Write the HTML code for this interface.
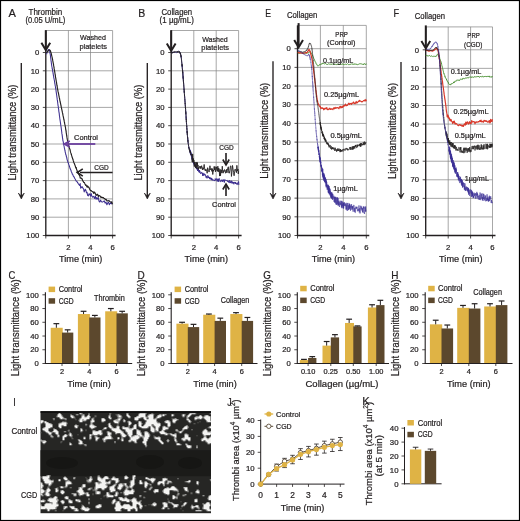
<!DOCTYPE html>
<html><head><meta charset="utf-8"><style>
html,body{margin:0;padding:0;background:#fff;}
text{stroke:#231f20;stroke-width:0.22px;}
svg{display:block;font-family:"Liberation Sans", sans-serif;-webkit-font-smoothing:antialiased;will-change:transform;}
</style></head><body>
<svg width="520" height="521" viewBox="0 0 520 521">
<defs><filter id="soft" x="-5%" y="-5%" width="110%" height="110%"><feGaussianBlur stdDeviation="0.45"/></filter></defs>
<rect x="0" y="0" width="520" height="521" fill="#fff"/>
<line x1="45.8" y1="30.5" x2="112.6" y2="30.5" stroke="#828282" stroke-width="0.7"/>
<line x1="45.8" y1="52.5" x2="112.6" y2="52.5" stroke="#828282" stroke-width="0.7"/>
<line x1="45.8" y1="70.8" x2="112.6" y2="70.8" stroke="#828282" stroke-width="0.7"/>
<line x1="45.8" y1="89.1" x2="112.6" y2="89.1" stroke="#828282" stroke-width="0.7"/>
<line x1="45.8" y1="107.4" x2="112.6" y2="107.4" stroke="#828282" stroke-width="0.7"/>
<line x1="45.8" y1="125.7" x2="112.6" y2="125.7" stroke="#828282" stroke-width="0.7"/>
<line x1="45.8" y1="144.0" x2="112.6" y2="144.0" stroke="#828282" stroke-width="0.7"/>
<line x1="45.8" y1="162.3" x2="112.6" y2="162.3" stroke="#828282" stroke-width="0.7"/>
<line x1="45.8" y1="180.6" x2="112.6" y2="180.6" stroke="#828282" stroke-width="0.7"/>
<line x1="45.8" y1="198.9" x2="112.6" y2="198.9" stroke="#828282" stroke-width="0.7"/>
<line x1="45.8" y1="217.20000000000002" x2="112.6" y2="217.20000000000002" stroke="#828282" stroke-width="0.7"/>
<line x1="68.4" y1="30.5" x2="68.4" y2="235.5" stroke="#828282" stroke-width="0.7"/>
<line x1="90.5" y1="30.5" x2="90.5" y2="235.5" stroke="#828282" stroke-width="0.7"/>
<line x1="112.6" y1="30.5" x2="112.6" y2="235.5" stroke="#828282" stroke-width="0.7"/>
<line x1="45.8" y1="30.5" x2="45.8" y2="236.1" stroke="#231f20" stroke-width="1.35"/>
<line x1="45.199999999999996" y1="235.5" x2="115.6" y2="235.5" stroke="#231f20" stroke-width="1.35"/>
<line x1="42.8" y1="52.5" x2="45.8" y2="52.5" stroke="#231f20" stroke-width="0.8"/>
<text x="39.199999999999996" y="55.2" font-size="7.7" text-anchor="end" fill="#231f20">0</text>
<line x1="42.8" y1="70.8" x2="45.8" y2="70.8" stroke="#231f20" stroke-width="0.8"/>
<text x="39.199999999999996" y="73.5" font-size="7.7" text-anchor="end" fill="#231f20">10</text>
<line x1="42.8" y1="89.1" x2="45.8" y2="89.1" stroke="#231f20" stroke-width="0.8"/>
<text x="39.199999999999996" y="91.8" font-size="7.7" text-anchor="end" fill="#231f20">20</text>
<line x1="42.8" y1="107.4" x2="45.8" y2="107.4" stroke="#231f20" stroke-width="0.8"/>
<text x="39.199999999999996" y="110.10000000000001" font-size="7.7" text-anchor="end" fill="#231f20">30</text>
<line x1="42.8" y1="125.7" x2="45.8" y2="125.7" stroke="#231f20" stroke-width="0.8"/>
<text x="39.199999999999996" y="128.4" font-size="7.7" text-anchor="end" fill="#231f20">40</text>
<line x1="42.8" y1="144.0" x2="45.8" y2="144.0" stroke="#231f20" stroke-width="0.8"/>
<text x="39.199999999999996" y="146.7" font-size="7.7" text-anchor="end" fill="#231f20">50</text>
<line x1="42.8" y1="162.3" x2="45.8" y2="162.3" stroke="#231f20" stroke-width="0.8"/>
<text x="39.199999999999996" y="165.0" font-size="7.7" text-anchor="end" fill="#231f20">60</text>
<line x1="42.8" y1="180.6" x2="45.8" y2="180.6" stroke="#231f20" stroke-width="0.8"/>
<text x="39.199999999999996" y="183.29999999999998" font-size="7.7" text-anchor="end" fill="#231f20">70</text>
<line x1="42.8" y1="198.9" x2="45.8" y2="198.9" stroke="#231f20" stroke-width="0.8"/>
<text x="39.199999999999996" y="201.6" font-size="7.7" text-anchor="end" fill="#231f20">80</text>
<line x1="42.8" y1="217.20000000000002" x2="45.8" y2="217.20000000000002" stroke="#231f20" stroke-width="0.8"/>
<text x="39.199999999999996" y="219.9" font-size="7.7" text-anchor="end" fill="#231f20">90</text>
<line x1="42.8" y1="235.5" x2="45.8" y2="235.5" stroke="#231f20" stroke-width="0.8"/>
<text x="39.199999999999996" y="238.2" font-size="7.7" text-anchor="end" fill="#231f20">100</text>
<line x1="45.8" y1="235.5" x2="45.8" y2="238.5" stroke="#231f20" stroke-width="0.8"/>
<line x1="68.4" y1="235.5" x2="68.4" y2="238.5" stroke="#231f20" stroke-width="0.8"/>
<line x1="90.5" y1="235.5" x2="90.5" y2="238.5" stroke="#231f20" stroke-width="0.8"/>
<line x1="112.6" y1="235.5" x2="112.6" y2="238.5" stroke="#231f20" stroke-width="0.8"/>
<text x="68.4" y="249.5" font-size="7.7" text-anchor="middle" fill="#231f20">2</text>
<text x="90.5" y="249.5" font-size="7.7" text-anchor="middle" fill="#231f20">4</text>
<text x="112.6" y="249.5" font-size="7.7" text-anchor="middle" fill="#231f20">6</text>
<text x="80.7" y="261.6" font-size="9.2" text-anchor="middle" textLength="43.4" lengthAdjust="spacingAndGlyphs" fill="#231f20">Time (min)</text>
<text x="8.6" y="17.4" font-size="11" textLength="7.4" lengthAdjust="spacingAndGlyphs" fill="#231f20">A</text>
<text x="45.4" y="14.6" font-size="8.8" text-anchor="middle" textLength="33.8" lengthAdjust="spacingAndGlyphs" fill="#231f20">Thrombin</text>
<text x="45.4" y="23.0" font-size="8.6" text-anchor="middle" textLength="40" lengthAdjust="spacingAndGlyphs" fill="#231f20">(0.05 U/mL)</text>
<text x="93.0" y="40.3" font-size="8" text-anchor="middle" textLength="25.8" lengthAdjust="spacingAndGlyphs" fill="#231f20">Washed</text>
<text x="93.2" y="48.9" font-size="8" text-anchor="middle" textLength="27.6" lengthAdjust="spacingAndGlyphs" fill="#231f20">platelets</text>
<text x="16.1" y="132.6" font-size="10" text-anchor="middle" textLength="96" lengthAdjust="spacingAndGlyphs" transform="rotate(-90 16.1 132.6)" fill="#231f20">Light transmittance (%)</text>
<line x1="21.3" y1="63" x2="21.3" y2="197" stroke="#231f20" stroke-width="1.35"/>
<path d="M18.3,193 L21.3,199 L24.3,193 L21.3,196 Z" fill="#231f20" stroke="#231f20" stroke-width="0.6" stroke-linejoin="round"/>
<line x1="171.2" y1="30.5" x2="238.6" y2="30.5" stroke="#828282" stroke-width="0.7"/>
<line x1="171.2" y1="52.5" x2="238.6" y2="52.5" stroke="#828282" stroke-width="0.7"/>
<line x1="171.2" y1="70.8" x2="238.6" y2="70.8" stroke="#828282" stroke-width="0.7"/>
<line x1="171.2" y1="89.1" x2="238.6" y2="89.1" stroke="#828282" stroke-width="0.7"/>
<line x1="171.2" y1="107.4" x2="238.6" y2="107.4" stroke="#828282" stroke-width="0.7"/>
<line x1="171.2" y1="125.7" x2="238.6" y2="125.7" stroke="#828282" stroke-width="0.7"/>
<line x1="171.2" y1="144.0" x2="238.6" y2="144.0" stroke="#828282" stroke-width="0.7"/>
<line x1="171.2" y1="162.3" x2="238.6" y2="162.3" stroke="#828282" stroke-width="0.7"/>
<line x1="171.2" y1="180.6" x2="238.6" y2="180.6" stroke="#828282" stroke-width="0.7"/>
<line x1="171.2" y1="198.9" x2="238.6" y2="198.9" stroke="#828282" stroke-width="0.7"/>
<line x1="171.2" y1="217.20000000000002" x2="238.6" y2="217.20000000000002" stroke="#828282" stroke-width="0.7"/>
<line x1="193.8" y1="30.5" x2="193.8" y2="235.5" stroke="#828282" stroke-width="0.7"/>
<line x1="216.2" y1="30.5" x2="216.2" y2="235.5" stroke="#828282" stroke-width="0.7"/>
<line x1="238.6" y1="30.5" x2="238.6" y2="235.5" stroke="#828282" stroke-width="0.7"/>
<line x1="171.2" y1="30.5" x2="171.2" y2="236.1" stroke="#231f20" stroke-width="1.35"/>
<line x1="170.6" y1="235.5" x2="241.6" y2="235.5" stroke="#231f20" stroke-width="1.35"/>
<line x1="168.2" y1="52.5" x2="171.2" y2="52.5" stroke="#231f20" stroke-width="0.8"/>
<text x="164.6" y="55.2" font-size="7.7" text-anchor="end" fill="#231f20">0</text>
<line x1="168.2" y1="70.8" x2="171.2" y2="70.8" stroke="#231f20" stroke-width="0.8"/>
<text x="164.6" y="73.5" font-size="7.7" text-anchor="end" fill="#231f20">10</text>
<line x1="168.2" y1="89.1" x2="171.2" y2="89.1" stroke="#231f20" stroke-width="0.8"/>
<text x="164.6" y="91.8" font-size="7.7" text-anchor="end" fill="#231f20">20</text>
<line x1="168.2" y1="107.4" x2="171.2" y2="107.4" stroke="#231f20" stroke-width="0.8"/>
<text x="164.6" y="110.10000000000001" font-size="7.7" text-anchor="end" fill="#231f20">30</text>
<line x1="168.2" y1="125.7" x2="171.2" y2="125.7" stroke="#231f20" stroke-width="0.8"/>
<text x="164.6" y="128.4" font-size="7.7" text-anchor="end" fill="#231f20">40</text>
<line x1="168.2" y1="144.0" x2="171.2" y2="144.0" stroke="#231f20" stroke-width="0.8"/>
<text x="164.6" y="146.7" font-size="7.7" text-anchor="end" fill="#231f20">50</text>
<line x1="168.2" y1="162.3" x2="171.2" y2="162.3" stroke="#231f20" stroke-width="0.8"/>
<text x="164.6" y="165.0" font-size="7.7" text-anchor="end" fill="#231f20">60</text>
<line x1="168.2" y1="180.6" x2="171.2" y2="180.6" stroke="#231f20" stroke-width="0.8"/>
<text x="164.6" y="183.29999999999998" font-size="7.7" text-anchor="end" fill="#231f20">70</text>
<line x1="168.2" y1="198.9" x2="171.2" y2="198.9" stroke="#231f20" stroke-width="0.8"/>
<text x="164.6" y="201.6" font-size="7.7" text-anchor="end" fill="#231f20">80</text>
<line x1="168.2" y1="217.20000000000002" x2="171.2" y2="217.20000000000002" stroke="#231f20" stroke-width="0.8"/>
<text x="164.6" y="219.9" font-size="7.7" text-anchor="end" fill="#231f20">90</text>
<line x1="168.2" y1="235.5" x2="171.2" y2="235.5" stroke="#231f20" stroke-width="0.8"/>
<text x="164.6" y="238.2" font-size="7.7" text-anchor="end" fill="#231f20">100</text>
<line x1="171.2" y1="235.5" x2="171.2" y2="238.5" stroke="#231f20" stroke-width="0.8"/>
<line x1="193.8" y1="235.5" x2="193.8" y2="238.5" stroke="#231f20" stroke-width="0.8"/>
<line x1="216.2" y1="235.5" x2="216.2" y2="238.5" stroke="#231f20" stroke-width="0.8"/>
<line x1="238.6" y1="235.5" x2="238.6" y2="238.5" stroke="#231f20" stroke-width="0.8"/>
<text x="193.8" y="249.5" font-size="7.7" text-anchor="middle" fill="#231f20">2</text>
<text x="216.2" y="249.5" font-size="7.7" text-anchor="middle" fill="#231f20">4</text>
<text x="238.6" y="249.5" font-size="7.7" text-anchor="middle" fill="#231f20">6</text>
<text x="206.3" y="261.6" font-size="9.2" text-anchor="middle" textLength="43.4" lengthAdjust="spacingAndGlyphs" fill="#231f20">Time (min)</text>
<text x="138.2" y="17.3" font-size="11" textLength="7.0" lengthAdjust="spacingAndGlyphs" fill="#231f20">B</text>
<text x="176.8" y="14.6" font-size="8.8" text-anchor="middle" textLength="30.7" lengthAdjust="spacingAndGlyphs" fill="#231f20">Collagen</text>
<text x="176.7" y="23.4" font-size="8.6" text-anchor="middle" textLength="34.2" lengthAdjust="spacingAndGlyphs" fill="#231f20">(1 µg/mL)</text>
<text x="215.0" y="41.7" font-size="8" text-anchor="middle" textLength="25.6" lengthAdjust="spacingAndGlyphs" fill="#231f20">Washed</text>
<text x="215.2" y="50.0" font-size="8" text-anchor="middle" textLength="27.8" lengthAdjust="spacingAndGlyphs" fill="#231f20">platelets</text>
<text x="141.9" y="132.6" font-size="10" text-anchor="middle" textLength="96" lengthAdjust="spacingAndGlyphs" transform="rotate(-90 141.9 132.6)" fill="#231f20">Light transmittance (%)</text>
<line x1="147.3" y1="63" x2="147.3" y2="197" stroke="#231f20" stroke-width="1.35"/>
<path d="M144.3,193 L147.3,199 L150.3,193 L147.3,196 Z" fill="#231f20" stroke="#231f20" stroke-width="0.6" stroke-linejoin="round"/>
<line x1="297.5" y1="25.4" x2="366.3" y2="25.4" stroke="#828282" stroke-width="0.7"/>
<line x1="297.5" y1="48.7" x2="366.3" y2="48.7" stroke="#828282" stroke-width="0.7"/>
<line x1="297.5" y1="67.38" x2="366.3" y2="67.38" stroke="#828282" stroke-width="0.7"/>
<line x1="297.5" y1="86.06" x2="366.3" y2="86.06" stroke="#828282" stroke-width="0.7"/>
<line x1="297.5" y1="104.74000000000001" x2="366.3" y2="104.74000000000001" stroke="#828282" stroke-width="0.7"/>
<line x1="297.5" y1="123.42" x2="366.3" y2="123.42" stroke="#828282" stroke-width="0.7"/>
<line x1="297.5" y1="142.10000000000002" x2="366.3" y2="142.10000000000002" stroke="#828282" stroke-width="0.7"/>
<line x1="297.5" y1="160.78" x2="366.3" y2="160.78" stroke="#828282" stroke-width="0.7"/>
<line x1="297.5" y1="179.45999999999998" x2="366.3" y2="179.45999999999998" stroke="#828282" stroke-width="0.7"/>
<line x1="297.5" y1="198.14" x2="366.3" y2="198.14" stroke="#828282" stroke-width="0.7"/>
<line x1="297.5" y1="216.82" x2="366.3" y2="216.82" stroke="#828282" stroke-width="0.7"/>
<line x1="320.4" y1="25.4" x2="320.4" y2="235.5" stroke="#828282" stroke-width="0.7"/>
<line x1="343.3" y1="25.4" x2="343.3" y2="235.5" stroke="#828282" stroke-width="0.7"/>
<line x1="366.3" y1="25.4" x2="366.3" y2="235.5" stroke="#828282" stroke-width="0.7"/>
<line x1="297.5" y1="25.4" x2="297.5" y2="236.1" stroke="#231f20" stroke-width="1.35"/>
<line x1="296.9" y1="235.5" x2="369.3" y2="235.5" stroke="#231f20" stroke-width="1.35"/>
<line x1="294.5" y1="48.7" x2="297.5" y2="48.7" stroke="#231f20" stroke-width="0.8"/>
<text x="290.9" y="51.400000000000006" font-size="7.7" text-anchor="end" fill="#231f20">0</text>
<line x1="294.5" y1="67.38" x2="297.5" y2="67.38" stroke="#231f20" stroke-width="0.8"/>
<text x="290.9" y="70.08" font-size="7.7" text-anchor="end" fill="#231f20">10</text>
<line x1="294.5" y1="86.06" x2="297.5" y2="86.06" stroke="#231f20" stroke-width="0.8"/>
<text x="290.9" y="88.76" font-size="7.7" text-anchor="end" fill="#231f20">20</text>
<line x1="294.5" y1="104.74000000000001" x2="297.5" y2="104.74000000000001" stroke="#231f20" stroke-width="0.8"/>
<text x="290.9" y="107.44000000000001" font-size="7.7" text-anchor="end" fill="#231f20">30</text>
<line x1="294.5" y1="123.42" x2="297.5" y2="123.42" stroke="#231f20" stroke-width="0.8"/>
<text x="290.9" y="126.12" font-size="7.7" text-anchor="end" fill="#231f20">40</text>
<line x1="294.5" y1="142.10000000000002" x2="297.5" y2="142.10000000000002" stroke="#231f20" stroke-width="0.8"/>
<text x="290.9" y="144.8" font-size="7.7" text-anchor="end" fill="#231f20">50</text>
<line x1="294.5" y1="160.78" x2="297.5" y2="160.78" stroke="#231f20" stroke-width="0.8"/>
<text x="290.9" y="163.48" font-size="7.7" text-anchor="end" fill="#231f20">60</text>
<line x1="294.5" y1="179.45999999999998" x2="297.5" y2="179.45999999999998" stroke="#231f20" stroke-width="0.8"/>
<text x="290.9" y="182.15999999999997" font-size="7.7" text-anchor="end" fill="#231f20">70</text>
<line x1="294.5" y1="198.14" x2="297.5" y2="198.14" stroke="#231f20" stroke-width="0.8"/>
<text x="290.9" y="200.83999999999997" font-size="7.7" text-anchor="end" fill="#231f20">80</text>
<line x1="294.5" y1="216.82" x2="297.5" y2="216.82" stroke="#231f20" stroke-width="0.8"/>
<text x="290.9" y="219.51999999999998" font-size="7.7" text-anchor="end" fill="#231f20">90</text>
<line x1="294.5" y1="235.5" x2="297.5" y2="235.5" stroke="#231f20" stroke-width="0.8"/>
<text x="290.9" y="238.2" font-size="7.7" text-anchor="end" fill="#231f20">100</text>
<line x1="297.5" y1="235.5" x2="297.5" y2="238.5" stroke="#231f20" stroke-width="0.8"/>
<line x1="320.4" y1="235.5" x2="320.4" y2="238.5" stroke="#231f20" stroke-width="0.8"/>
<line x1="343.3" y1="235.5" x2="343.3" y2="238.5" stroke="#231f20" stroke-width="0.8"/>
<line x1="366.3" y1="235.5" x2="366.3" y2="238.5" stroke="#231f20" stroke-width="0.8"/>
<text x="320.4" y="249.5" font-size="7.7" text-anchor="middle" fill="#231f20">2</text>
<text x="343.3" y="249.5" font-size="7.7" text-anchor="middle" fill="#231f20">4</text>
<text x="366.3" y="249.5" font-size="7.7" text-anchor="middle" fill="#231f20">6</text>
<text x="333.4" y="261.6" font-size="9.2" text-anchor="middle" textLength="43.4" lengthAdjust="spacingAndGlyphs" fill="#231f20">Time (min)</text>
<text x="265.3" y="17.4" font-size="11" textLength="5.8" lengthAdjust="spacingAndGlyphs" fill="#231f20">E</text>
<text x="302.2" y="17.6" font-size="8.8" text-anchor="middle" textLength="30.3" lengthAdjust="spacingAndGlyphs" fill="#231f20">Collagen</text>
<text x="341.6" y="37.0" font-size="8" text-anchor="middle" textLength="12.5" lengthAdjust="spacingAndGlyphs" fill="#231f20">PRP</text>
<text x="341.2" y="45.1" font-size="7.6" text-anchor="middle" textLength="28.4" lengthAdjust="spacingAndGlyphs" fill="#231f20">(Control)</text>
<text x="267.8" y="130.8" font-size="10" text-anchor="middle" textLength="96" lengthAdjust="spacingAndGlyphs" transform="rotate(-90 267.8 130.8)" fill="#231f20">Light transmittance (%)</text>
<line x1="273" y1="61.2" x2="273" y2="197" stroke="#231f20" stroke-width="1.35"/>
<path d="M270,193 L273,199 L276,193 L273,196 Z" fill="#231f20" stroke="#231f20" stroke-width="0.6" stroke-linejoin="round"/>
<line x1="425.7" y1="26.9" x2="492.5" y2="26.9" stroke="#828282" stroke-width="0.7"/>
<line x1="425.7" y1="49.8" x2="492.5" y2="49.8" stroke="#828282" stroke-width="0.7"/>
<line x1="425.7" y1="68.37" x2="492.5" y2="68.37" stroke="#828282" stroke-width="0.7"/>
<line x1="425.7" y1="86.94" x2="492.5" y2="86.94" stroke="#828282" stroke-width="0.7"/>
<line x1="425.7" y1="105.50999999999999" x2="492.5" y2="105.50999999999999" stroke="#828282" stroke-width="0.7"/>
<line x1="425.7" y1="124.08" x2="492.5" y2="124.08" stroke="#828282" stroke-width="0.7"/>
<line x1="425.7" y1="142.64999999999998" x2="492.5" y2="142.64999999999998" stroke="#828282" stroke-width="0.7"/>
<line x1="425.7" y1="161.22" x2="492.5" y2="161.22" stroke="#828282" stroke-width="0.7"/>
<line x1="425.7" y1="179.79000000000002" x2="492.5" y2="179.79000000000002" stroke="#828282" stroke-width="0.7"/>
<line x1="425.7" y1="198.36" x2="492.5" y2="198.36" stroke="#828282" stroke-width="0.7"/>
<line x1="425.7" y1="216.93" x2="492.5" y2="216.93" stroke="#828282" stroke-width="0.7"/>
<line x1="448.2" y1="26.9" x2="448.2" y2="235.5" stroke="#828282" stroke-width="0.7"/>
<line x1="470.6" y1="26.9" x2="470.6" y2="235.5" stroke="#828282" stroke-width="0.7"/>
<line x1="492.5" y1="26.9" x2="492.5" y2="235.5" stroke="#828282" stroke-width="0.7"/>
<line x1="425.7" y1="26.9" x2="425.7" y2="236.1" stroke="#231f20" stroke-width="1.35"/>
<line x1="425.09999999999997" y1="235.5" x2="495.5" y2="235.5" stroke="#231f20" stroke-width="1.35"/>
<line x1="422.7" y1="49.8" x2="425.7" y2="49.8" stroke="#231f20" stroke-width="0.8"/>
<text x="419.09999999999997" y="52.5" font-size="7.7" text-anchor="end" fill="#231f20">0</text>
<line x1="422.7" y1="68.37" x2="425.7" y2="68.37" stroke="#231f20" stroke-width="0.8"/>
<text x="419.09999999999997" y="71.07000000000001" font-size="7.7" text-anchor="end" fill="#231f20">10</text>
<line x1="422.7" y1="86.94" x2="425.7" y2="86.94" stroke="#231f20" stroke-width="0.8"/>
<text x="419.09999999999997" y="89.64" font-size="7.7" text-anchor="end" fill="#231f20">20</text>
<line x1="422.7" y1="105.50999999999999" x2="425.7" y2="105.50999999999999" stroke="#231f20" stroke-width="0.8"/>
<text x="419.09999999999997" y="108.21" font-size="7.7" text-anchor="end" fill="#231f20">30</text>
<line x1="422.7" y1="124.08" x2="425.7" y2="124.08" stroke="#231f20" stroke-width="0.8"/>
<text x="419.09999999999997" y="126.78" font-size="7.7" text-anchor="end" fill="#231f20">40</text>
<line x1="422.7" y1="142.64999999999998" x2="425.7" y2="142.64999999999998" stroke="#231f20" stroke-width="0.8"/>
<text x="419.09999999999997" y="145.34999999999997" font-size="7.7" text-anchor="end" fill="#231f20">50</text>
<line x1="422.7" y1="161.22" x2="425.7" y2="161.22" stroke="#231f20" stroke-width="0.8"/>
<text x="419.09999999999997" y="163.92" font-size="7.7" text-anchor="end" fill="#231f20">60</text>
<line x1="422.7" y1="179.79000000000002" x2="425.7" y2="179.79000000000002" stroke="#231f20" stroke-width="0.8"/>
<text x="419.09999999999997" y="182.49" font-size="7.7" text-anchor="end" fill="#231f20">70</text>
<line x1="422.7" y1="198.36" x2="425.7" y2="198.36" stroke="#231f20" stroke-width="0.8"/>
<text x="419.09999999999997" y="201.06" font-size="7.7" text-anchor="end" fill="#231f20">80</text>
<line x1="422.7" y1="216.93" x2="425.7" y2="216.93" stroke="#231f20" stroke-width="0.8"/>
<text x="419.09999999999997" y="219.63" font-size="7.7" text-anchor="end" fill="#231f20">90</text>
<line x1="422.7" y1="235.5" x2="425.7" y2="235.5" stroke="#231f20" stroke-width="0.8"/>
<text x="419.09999999999997" y="238.2" font-size="7.7" text-anchor="end" fill="#231f20">100</text>
<line x1="425.7" y1="235.5" x2="425.7" y2="238.5" stroke="#231f20" stroke-width="0.8"/>
<line x1="448.2" y1="235.5" x2="448.2" y2="238.5" stroke="#231f20" stroke-width="0.8"/>
<line x1="470.6" y1="235.5" x2="470.6" y2="238.5" stroke="#231f20" stroke-width="0.8"/>
<line x1="492.5" y1="235.5" x2="492.5" y2="238.5" stroke="#231f20" stroke-width="0.8"/>
<text x="448.2" y="249.5" font-size="7.7" text-anchor="middle" fill="#231f20">2</text>
<text x="470.6" y="249.5" font-size="7.7" text-anchor="middle" fill="#231f20">4</text>
<text x="492.5" y="249.5" font-size="7.7" text-anchor="middle" fill="#231f20">6</text>
<text x="460.8" y="261.6" font-size="9.2" text-anchor="middle" textLength="43.4" lengthAdjust="spacingAndGlyphs" fill="#231f20">Time (min)</text>
<text x="393.6" y="17.2" font-size="11" textLength="5.6" lengthAdjust="spacingAndGlyphs" fill="#231f20">F</text>
<text x="429.9" y="18.8" font-size="8.8" text-anchor="middle" textLength="30.3" lengthAdjust="spacingAndGlyphs" fill="#231f20">Collagen</text>
<text x="473.6" y="38.0" font-size="8" text-anchor="middle" textLength="12.5" lengthAdjust="spacingAndGlyphs" fill="#231f20">PRP</text>
<text x="473.2" y="46.6" font-size="7.6" text-anchor="middle" textLength="18.3" lengthAdjust="spacingAndGlyphs" fill="#231f20">(CGD)</text>
<text x="395.8" y="131" font-size="10" text-anchor="middle" textLength="96" lengthAdjust="spacingAndGlyphs" transform="rotate(-90 395.8 131)" fill="#231f20">Light transmittance (%)</text>
<line x1="401" y1="62" x2="401" y2="197" stroke="#231f20" stroke-width="1.35"/>
<path d="M398,193 L401,199 L404,193 L401,196 Z" fill="#231f20" stroke="#231f20" stroke-width="0.6" stroke-linejoin="round"/>
<path d="M46.50,54.26 L46.74,53.72 L47.07,52.35 L47.46,51.59 L47.87,50.69 L48.27,49.96 L48.60,49.60 L48.99,49.66 L49.32,50.28 L49.64,50.80 L50.00,53.42 L50.10,53.55 L50.19,54.05 L50.28,54.44 L50.37,55.14 L50.46,55.92 L50.54,57.13 L50.64,57.29 L50.73,58.29 L50.83,58.99 L50.94,59.80 L51.05,61.12 L51.18,61.22 L51.31,62.74 L51.46,63.84 L51.62,65.02 L51.80,66.19 L51.90,66.55 L52.01,67.25 L52.11,67.70 L52.23,68.83 L52.34,68.72 L52.46,69.74 L52.59,70.24 L52.71,71.51 L52.84,71.85 L52.97,72.35 L53.11,73.69 L53.25,74.36 L53.38,75.34 L53.53,75.73 L53.67,76.73 L53.81,77.85 L53.96,78.33 L54.11,79.13 L54.25,79.63 L54.40,80.79 L54.55,81.75 L54.70,82.67 L54.85,83.71 L55.00,84.24 L55.16,85.50 L55.31,86.17 L55.46,86.60 L55.60,88.20 L55.75,88.69 L55.90,89.56 L56.01,90.45 L56.11,91.39 L56.22,92.31 L56.33,92.88 L56.44,93.79 L56.55,94.29 L56.67,95.01 L56.78,95.96 L56.90,96.88 L57.01,97.75 L57.13,98.40 L57.25,99.91 L57.37,100.17 L57.49,100.68 L57.60,102.18 L57.72,102.51 L57.84,103.90 L57.96,104.53 L58.08,105.98 L58.20,105.82 L58.32,107.40 L58.44,108.24 L58.56,108.87 L58.67,109.41 L58.79,110.83 L58.91,111.80 L59.02,112.35 L59.14,112.92 L59.25,113.90 L59.36,114.92 L59.48,116.24 L59.59,116.48 L59.69,117.46 L59.80,118.39 L59.91,119.04 L60.01,119.83 L60.12,120.36 L60.22,121.51 L60.32,121.58 L60.41,122.58 L60.51,123.13 L60.60,123.61 L60.75,124.97 L60.89,125.92 L61.03,126.50 L61.16,127.60 L61.28,128.50 L61.40,129.62 L61.51,130.22 L61.62,131.19 L61.73,132.02 L61.84,133.05 L61.94,133.88 L62.04,134.11 L62.15,135.09 L62.25,135.65 L62.35,136.34 L62.46,137.78 L62.57,137.86 L62.68,138.83 L62.79,139.45 L62.91,140.69 L63.04,140.90 L63.17,141.62 L63.30,141.93 L63.45,143.51 L63.60,143.85 L63.76,144.73 L63.91,145.63 L64.07,146.23 L64.24,147.22 L64.40,148.29 L64.57,148.51 L64.73,149.62 L64.91,150.49 L65.08,151.20 L65.26,152.52 L65.44,152.62 L65.62,153.65 L65.81,154.58 L66.00,154.77 L66.19,155.65 L66.39,156.61 L66.59,156.95 L66.80,157.84 L67.01,159.07 L67.23,160.10 L67.45,160.65 L67.68,161.24 L67.92,162.38 L68.16,162.61 L68.40,163.19 L68.67,164.20 L68.95,164.87 L69.22,165.66 L69.51,166.80 L69.79,167.43 L70.08,168.61 L70.38,169.12 L70.68,169.68 L70.98,170.34 L71.30,171.67 L71.61,172.16 L71.94,172.94 L72.27,174.03 L72.61,174.20 L72.95,174.96 L73.30,176.06 L73.66,176.40 L74.03,176.86 L74.41,177.84 L74.79,178.51 L75.18,179.05 L75.59,179.89 L76.00,180.71 L76.47,181.34 L76.95,181.37 L77.45,182.45 L77.96,183.09 L78.49,183.96 L79.03,184.73 L79.58,185.37 L80.14,183.62 L80.70,188.19 L81.27,186.82 L81.85,187.42 L82.43,186.89 L83.02,188.34 L83.60,188.82 L84.18,191.91 L84.77,190.48 L85.34,189.30 L85.92,190.49 L86.49,192.83 L87.05,192.39 L87.60,195.30 L88.32,195.83 L89.03,193.79 L89.73,194.11 L90.44,196.11 L91.14,193.45 L91.84,196.24 L92.54,197.12 L93.24,196.36 L93.94,196.96 L94.65,198.44 L95.36,195.98 L96.07,199.24 L96.79,197.64 L97.52,199.01 L98.25,197.59 L99.00,201.14 L99.78,202.04 L100.60,200.16 L101.47,201.77 L102.36,202.11 L103.27,201.59 L104.19,200.78 L105.11,203.09 L106.01,202.10 L106.89,204.83 L107.75,202.94 L108.55,202.14 L109.31,204.68 L110.00,203.43 L110.62,203.59 L111.16,202.01 L111.60,204.24" fill="none" stroke="#3b2d8f" stroke-width="1.05" stroke-linejoin="round"/>
<path d="M46.50,52.93 L46.91,52.23 L47.50,51.56 L48.18,51.05 L48.84,49.96 L49.40,49.91 L49.82,50.04 L50.18,50.42 L50.50,51.09 L50.83,52.27 L51.20,53.29 L51.33,53.95 L51.46,54.61 L51.58,55.03 L51.70,55.57 L51.82,56.04 L51.95,56.49 L52.07,56.76 L52.20,57.79 L52.34,58.29 L52.49,58.95 L52.65,60.15 L52.81,60.74 L52.99,61.86 L53.19,62.86 L53.40,63.90 L53.49,64.47 L53.58,64.91 L53.67,65.63 L53.77,66.08 L53.86,66.58 L53.96,67.13 L54.06,67.65 L54.16,68.68 L54.26,68.95 L54.36,69.86 L54.47,70.42 L54.57,71.24 L54.68,71.36 L54.79,72.26 L54.90,72.76 L55.01,73.72 L55.13,74.50 L55.24,74.86 L55.36,75.94 L55.48,76.80 L55.60,77.41 L55.72,78.05 L55.85,78.70 L55.97,79.55 L56.10,80.21 L56.23,81.17 L56.37,82.12 L56.50,82.45 L56.64,83.26 L56.77,84.31 L56.91,85.26 L57.06,85.77 L57.20,86.59 L57.35,87.78 L57.50,88.69 L57.65,89.23 L57.80,90.29 L57.92,90.55 L58.04,91.53 L58.16,91.98 L58.29,92.41 L58.42,93.36 L58.56,93.65 L58.69,94.45 L58.83,95.51 L58.97,95.78 L59.12,96.61 L59.26,97.45 L59.41,98.12 L59.56,98.50 L59.71,99.57 L59.86,100.52 L60.02,101.19 L60.17,102.04 L60.33,102.48 L60.48,103.07 L60.64,104.06 L60.80,104.70 L60.95,105.72 L61.11,106.39 L61.27,107.15 L61.43,107.71 L61.59,108.61 L61.74,109.20 L61.90,110.08 L62.06,110.68 L62.21,111.44 L62.37,112.38 L62.52,112.91 L62.67,113.41 L62.82,114.31 L62.97,115.13 L63.12,115.97 L63.26,116.56 L63.41,117.19 L63.55,117.75 L63.69,118.55 L63.82,119.47 L63.96,119.81 L64.09,120.42 L64.21,121.11 L64.34,121.90 L64.46,122.15 L64.58,123.10 L64.69,123.70 L64.80,124.20 L64.98,124.90 L65.14,125.61 L65.29,126.83 L65.43,127.12 L65.56,127.98 L65.68,129.25 L65.79,129.72 L65.90,130.47 L66.00,130.74 L66.10,131.69 L66.19,132.36 L66.28,133.07 L66.37,133.40 L66.46,134.05 L66.54,134.76 L66.63,135.16 L66.73,135.98 L66.82,136.32 L66.92,137.18 L67.03,137.61 L67.14,138.58 L67.26,139.22 L67.39,139.77 L67.53,140.48 L67.68,141.03 L67.84,141.87 L68.01,142.53 L68.20,143.12 L68.40,144.28 L68.56,144.52 L68.72,145.11 L68.89,145.95 L69.07,146.49 L69.24,147.24 L69.43,147.82 L69.62,148.62 L69.81,149.12 L70.00,149.82 L70.20,150.37 L70.41,151.41 L70.61,152.24 L70.82,152.94 L71.04,153.35 L71.25,154.37 L71.47,154.81 L71.69,155.67 L71.92,156.27 L72.15,157.30 L72.38,157.54 L72.61,158.53 L72.84,159.34 L73.08,159.79 L73.32,160.88 L73.56,161.44 L73.80,162.27 L74.04,163.00 L74.29,163.33 L74.53,164.06 L74.78,164.70 L75.02,165.35 L75.27,166.05 L75.52,166.75 L75.76,167.84 L76.01,168.08 L76.26,167.60 L76.51,169.28 L76.75,169.77 L77.00,170.35 L77.34,172.02 L77.69,171.27 L78.05,173.37 L78.40,172.63 L78.76,174.62 L79.12,173.88 L79.49,175.55 L79.86,176.19 L80.23,178.06 L80.61,177.79 L80.98,177.99 L81.36,178.72 L81.74,178.40 L82.12,178.90 L82.51,179.97 L82.90,181.11 L83.28,181.44 L83.67,182.41 L84.06,182.48 L84.45,182.60 L84.85,183.67 L85.24,184.48 L85.63,185.32 L86.03,184.88 L86.42,185.68 L86.81,186.58 L87.21,187.11 L87.60,185.88 L88.15,187.26 L88.70,187.10 L89.25,188.14 L89.79,189.50 L90.34,190.38 L90.89,190.41 L91.44,190.79 L92.00,191.52 L92.55,191.85 L93.11,191.78 L93.68,193.43 L94.24,192.01 L94.82,192.43 L95.39,193.70 L95.98,195.00 L96.57,195.32 L97.16,194.16 L97.77,194.74 L98.38,196.60 L99.00,195.45 L99.61,195.71 L100.27,196.20 L100.95,197.53 L101.65,197.02 L102.38,197.70 L103.12,197.50 L103.87,198.26 L104.63,198.54 L105.39,199.65 L106.14,199.29 L106.88,200.88 L107.61,200.90 L108.31,200.74 L108.99,200.53 L109.64,201.39 L110.25,201.82 L110.83,202.09 L111.35,202.45 L111.83,201.97 L112.24,203.83 L112.60,203.08" fill="none" stroke="#231f20" stroke-width="1.15" stroke-linejoin="round"/>
<line x1="65.5" y1="144" x2="95.3" y2="144" stroke="#6a3f9e" stroke-width="1.8"/>
<path d="M69.8,140.9 L64.2,144 L69.8,147.1" fill="none" stroke="#6a3f9e" stroke-width="1.7"/>
<line x1="80" y1="172.5" x2="112.6" y2="172.5" stroke="#231f20" stroke-width="1.7"/>
<path d="M82.8,168.8 L77.2,172.5 L82.8,176.2" fill="none" stroke="#231f20" stroke-width="1.6"/>
<text x="86" y="140.2" font-size="7.4" text-anchor="middle" textLength="24" lengthAdjust="spacingAndGlyphs" fill="#231f20">Control</text>
<text x="101.5" y="169.8" font-size="7.4" text-anchor="middle" textLength="14.4" lengthAdjust="spacingAndGlyphs" fill="#231f20">CGD</text>
<path d="M171.50,53.05 L171.70,53.02 L171.95,51.93 L172.24,51.93 L172.57,52.80 L172.93,52.65 L173.30,52.53 L173.70,52.07 L174.10,52.39 L174.50,52.36 L174.90,52.31 L175.29,51.79 L175.66,52.11 L176.00,52.07 L176.36,52.45 L176.72,52.71 L177.08,52.56 L177.44,51.97 L177.80,51.75 L178.16,51.47 L178.50,51.15 L178.83,51.17 L179.15,51.80 L179.45,51.82 L179.74,52.21 L180.00,53.27 L180.08,53.00 L180.16,53.21 L180.23,52.99 L180.30,52.91 L180.37,53.44 L180.44,53.39 L180.50,54.02 L180.56,54.79 L180.62,54.58 L180.67,54.19 L180.73,55.24 L180.78,55.33 L180.83,55.47 L180.88,55.90 L180.92,55.97 L180.97,56.25 L181.02,55.98 L181.06,57.01 L181.11,57.27 L181.15,56.61 L181.20,57.64 L181.24,57.93 L181.29,57.98 L181.33,58.43 L181.38,58.77 L181.43,59.70 L181.48,59.62 L181.53,60.47 L181.58,60.38 L181.63,61.51 L181.69,62.06 L181.74,62.08 L181.80,62.78 L181.87,63.81 L181.93,64.21 L182.00,64.58 L182.02,64.49 L182.04,64.83 L182.07,65.51 L182.09,65.10 L182.11,66.22 L182.14,65.69 L182.16,66.70 L182.18,66.23 L182.21,67.25 L182.23,67.20 L182.25,67.21 L182.28,67.49 L182.30,67.91 L182.33,68.10 L182.35,68.03 L182.38,68.18 L182.40,68.81 L182.43,69.60 L182.45,69.50 L182.48,69.13 L182.50,70.31 L182.53,70.48 L182.55,70.99 L182.58,70.42 L182.60,71.38 L182.63,70.85 L182.65,71.87 L182.68,71.72 L182.71,71.96 L182.73,73.05 L182.76,72.44 L182.78,73.25 L182.81,73.96 L182.84,73.55 L182.86,73.83 L182.89,74.95 L182.92,74.73 L182.94,75.40 L182.97,74.91 L183.00,75.63 L183.02,75.74 L183.05,76.67 L183.08,76.30 L183.11,77.68 L183.13,76.90 L183.16,78.09 L183.19,77.58 L183.22,78.20 L183.24,79.22 L183.27,78.77 L183.30,79.15 L183.33,80.11 L183.35,80.09 L183.38,80.03 L183.41,81.52 L183.44,80.87 L183.47,81.09 L183.49,81.81 L183.52,82.49 L183.55,83.00 L183.58,82.61 L183.61,83.23 L183.63,83.23 L183.66,84.09 L183.69,84.83 L183.72,85.16 L183.75,85.72 L183.77,85.91 L183.80,86.40 L183.83,86.58 L183.86,86.67 L183.89,86.73 L183.92,87.62 L183.94,87.58 L183.97,87.69 L184.00,88.47 L184.03,89.35 L184.06,88.82 L184.09,89.73 L184.11,89.87 L184.14,90.38 L184.17,90.31 L184.20,91.65 L184.23,91.18 L184.25,91.96 L184.28,92.11 L184.31,91.99 L184.34,93.00 L184.37,92.87 L184.40,93.13 L184.42,93.47 L184.45,93.99 L184.48,94.27 L184.51,95.28 L184.53,95.49 L184.56,96.43 L184.59,96.73 L184.62,97.16 L184.65,96.61 L184.67,97.22 L184.70,97.34 L184.73,98.11 L184.76,98.50 L184.78,99.07 L184.81,99.31 L184.84,99.12 L184.87,99.67 L184.89,100.15 L184.92,99.87 L184.95,100.25 L184.97,101.05 L185.00,101.03 L185.02,102.09 L185.05,101.83 L185.07,101.98 L185.10,102.41 L185.12,102.79 L185.15,103.11 L185.17,103.80 L185.20,104.07 L185.22,104.22 L185.25,104.95 L185.27,104.78 L185.30,105.95 L185.32,106.36 L185.35,106.43 L185.37,106.42 L185.40,106.86 L185.42,107.29 L185.45,107.00 L185.47,107.80 L185.50,108.28 L185.52,108.22 L185.55,108.47 L185.57,109.68 L185.60,109.51 L185.62,110.05 L185.64,110.89 L185.67,110.88 L185.69,110.86 L185.72,112.05 L185.74,111.68 L185.77,111.62 L185.79,112.79 L185.82,112.45 L185.84,113.06 L185.87,114.07 L185.89,114.24 L185.92,113.81 L185.94,114.70 L185.97,115.02 L185.99,115.48 L186.02,115.52 L186.04,116.34 L186.07,116.09 L186.09,116.72 L186.12,117.19 L186.14,118.23 L186.17,117.57 L186.19,118.76 L186.21,118.45 L186.24,119.27 L186.26,119.42 L186.29,119.88 L186.31,120.59 L186.34,120.53 L186.36,120.57 L186.39,120.93 L186.41,121.25 L186.44,122.54 L186.46,122.65 L186.49,123.40 L186.51,123.44 L186.54,123.00 L186.56,124.12 L186.59,124.62 L186.61,124.91 L186.64,125.00 L186.66,125.19 L186.69,125.66 L186.71,126.43 L186.74,126.14 L186.76,126.80 L186.79,127.10 L186.81,128.02 L186.83,128.18 L186.86,128.68 L186.88,128.91 L186.91,128.61 L186.93,128.87 L186.96,129.51 L186.98,129.58 L187.01,130.11 L187.03,130.75 L187.06,131.37 L187.08,131.30 L187.11,131.90 L187.13,131.36 L187.16,132.00 L187.18,133.09 L187.21,132.38 L187.23,133.03 L187.26,132.92 L187.28,133.25 L187.31,134.53 L187.33,134.95 L187.36,134.85 L187.38,134.53 L187.40,135.03 L187.43,135.24 L187.45,136.06 L187.48,136.37 L187.50,136.36 L187.53,136.75 L187.55,136.54 L187.58,137.33 L187.60,138.10 L187.63,138.14 L187.65,137.61 L187.68,138.38 L187.70,138.88 L187.73,138.59 L187.75,139.61 L187.78,139.35 L187.80,139.89 L187.83,139.77 L187.85,140.72 L187.88,140.71 L187.90,140.69 L187.93,140.41 L187.95,140.99 L187.98,140.72 L188.00,141.61 L188.08,142.63 L188.16,142.43 L188.24,143.43 L188.32,143.97 L188.39,144.42 L188.47,145.30 L188.55,146.05 L188.63,146.23 L188.71,146.39 L188.79,147.38 L188.87,147.01 L188.95,147.88 L189.03,148.12 L189.11,148.57 L189.18,148.99 L189.26,148.53 L189.34,149.28 L189.42,149.29 L189.50,149.86 L189.58,150.47 L189.66,150.30 L189.74,149.77 L189.82,150.54 L189.89,151.05 L189.97,151.46 L190.05,151.75 L190.13,152.56 L190.21,149.89 L190.29,153.43 L190.37,152.87 L190.45,152.65 L190.53,153.94 L190.61,154.10 L190.68,151.51 L190.76,154.33 L190.84,154.41 L190.92,152.64 L191.00,154.88 L191.10,154.67 L191.19,153.61 L191.29,156.17 L191.38,154.12 L191.47,156.17 L191.55,155.87 L191.64,155.56 L191.72,157.01 L191.81,156.98 L191.89,156.36 L191.97,159.43 L192.06,156.53 L192.14,156.59 L192.23,158.64 L192.31,160.21 L192.40,159.88 L192.49,160.53 L192.58,159.86 L192.68,160.85 L192.78,159.92 L192.88,159.98 L192.98,161.13 L193.09,159.71 L193.21,160.20 L193.33,162.92 L193.45,161.13 L193.58,163.50 L193.71,163.93 L193.85,162.86 L194.00,164.13 L194.15,164.83 L194.30,165.39 L194.45,163.06 L194.61,163.45 L194.77,164.53 L194.93,165.13 L195.10,164.81 L195.27,164.08 L195.44,166.34 L195.61,168.10 L195.79,166.23 L195.98,167.14 L196.16,166.86 L196.35,167.37 L196.54,169.19 L196.74,167.45 L196.93,168.96 L197.13,168.64 L197.34,169.11 L197.54,170.74 L197.75,167.99 L197.96,170.95 L198.18,169.34 L198.40,170.83 L198.62,171.62 L198.84,171.36 L199.07,170.67 L199.30,172.53 L199.53,170.07 L199.76,172.25 L200.00,171.61 L200.24,172.33 L200.49,173.71 L200.75,173.74 L201.01,173.35 L201.28,172.40 L201.55,172.34 L201.83,173.36 L202.11,172.75 L202.40,173.12 L202.69,175.77 L202.98,172.92 L203.28,175.65 L203.57,174.26 L203.87,174.40 L204.17,174.41 L204.48,173.72 L204.78,175.27 L205.08,174.39 L205.38,175.55 L205.68,175.18 L205.98,177.51 L206.28,177.77 L206.57,176.19 L206.87,177.06 L207.16,178.25 L207.44,176.22 L207.72,175.54 L208.00,176.17 L208.27,176.13 L208.54,178.02 L208.80,177.05 L209.16,177.15 L209.50,178.88 L209.84,176.99 L210.16,179.19 L210.48,178.67 L210.79,177.94 L211.10,179.57 L211.40,177.93 L211.70,179.94 L211.99,180.19 L212.29,178.74 L212.59,179.49 L212.90,180.48 L213.21,179.81 L213.52,179.90 L213.84,180.39 L214.17,180.70 L214.51,180.11 L214.86,180.99 L215.23,178.59 L215.61,179.86 L216.00,180.11 L216.28,179.08 L216.56,179.24 L216.85,178.51 L217.14,181.38 L217.44,179.27 L217.74,179.76 L218.04,181.32 L218.35,178.83 L218.66,181.68 L218.98,178.73 L219.30,178.43 L219.62,179.65 L219.94,179.73 L220.27,181.80 L220.60,181.73 L220.93,181.35 L221.27,180.23 L221.60,180.67 L221.94,179.62 L222.29,181.83 L222.63,180.29 L222.98,179.96 L223.32,181.29 L223.67,179.59 L224.02,180.24 L224.37,182.49 L224.73,179.56 L225.08,179.78 L225.43,180.06 L225.79,180.29 L226.14,180.96 L226.50,180.40 L226.81,180.78 L227.14,180.49 L227.47,180.52 L227.82,181.91 L228.17,180.98 L228.53,181.17 L228.89,182.64 L229.27,180.16 L229.64,180.52 L230.02,183.12 L230.41,181.66 L230.79,182.98 L231.18,180.71 L231.57,182.18 L231.96,183.40 L232.35,181.63 L232.73,183.24 L233.12,182.73 L233.50,182.01 L233.87,184.24 L234.24,182.12 L234.61,182.47 L234.97,183.05 L235.32,182.01 L235.66,183.94 L235.99,183.12 L236.31,183.14 L236.62,183.01 L236.92,184.66 L237.21,184.72 L237.49,184.23 L237.75,182.87 L237.99,182.76 L238.22,183.20 L238.43,181.51 L238.62,181.76 L238.80,184.98" fill="none" stroke="#3b2d8f" stroke-width="1.0" stroke-linejoin="round"/>
<path d="M171.50,51.91 L171.77,53.18 L172.12,52.73 L172.54,53.07 L173.00,51.68 L173.50,52.00 L174.02,52.75 L174.54,51.45 L175.06,51.58 L175.55,51.96 L176.00,51.68 L176.54,51.59 L177.08,52.30 L177.62,51.21 L178.16,52.50 L178.67,51.95 L179.15,51.12 L179.60,52.82 L180.00,52.39 L180.11,53.01 L180.22,53.37 L180.32,52.93 L180.41,53.75 L180.50,53.29 L180.58,53.76 L180.66,55.18 L180.73,55.30 L180.80,55.11 L180.87,55.67 L180.94,56.31 L181.00,55.48 L181.06,56.42 L181.12,56.24 L181.19,56.65 L181.25,57.10 L181.31,57.76 L181.38,58.04 L181.44,58.87 L181.51,59.74 L181.58,60.79 L181.66,61.86 L181.74,62.69 L181.82,63.19 L181.91,63.70 L182.00,65.27 L182.03,64.36 L182.06,64.58 L182.09,66.03 L182.12,66.05 L182.16,65.71 L182.19,66.31 L182.22,66.52 L182.25,67.08 L182.29,67.43 L182.32,67.74 L182.35,68.74 L182.39,69.13 L182.42,69.11 L182.45,69.35 L182.49,69.43 L182.52,70.59 L182.56,71.34 L182.59,70.53 L182.63,71.69 L182.66,72.10 L182.70,72.45 L182.73,71.86 L182.77,73.12 L182.80,72.99 L182.84,73.41 L182.88,74.47 L182.91,75.01 L182.95,75.42 L182.99,76.06 L183.02,76.45 L183.06,76.54 L183.10,76.31 L183.14,77.93 L183.17,78.48 L183.21,78.97 L183.25,79.06 L183.29,78.63 L183.32,79.36 L183.36,79.70 L183.40,81.02 L183.44,81.36 L183.48,81.27 L183.51,82.99 L183.55,83.51 L183.59,83.88 L183.63,83.67 L183.67,83.89 L183.71,84.25 L183.74,85.73 L183.78,86.03 L183.82,85.85 L183.86,87.35 L183.90,87.32 L183.94,87.57 L183.98,88.07 L184.01,89.06 L184.05,89.14 L184.09,89.97 L184.13,89.61 L184.17,91.04 L184.21,90.85 L184.25,92.38 L184.28,91.76 L184.32,92.45 L184.36,93.28 L184.40,93.55 L184.44,94.26 L184.48,95.39 L184.51,94.73 L184.55,96.14 L184.59,96.51 L184.63,97.15 L184.67,97.10 L184.70,97.60 L184.74,97.91 L184.78,98.60 L184.82,98.73 L184.85,99.11 L184.89,100.04 L184.93,100.06 L184.96,100.98 L185.00,101.62 L185.03,101.63 L185.07,101.85 L185.10,102.98 L185.13,103.84 L185.17,103.27 L185.20,104.35 L185.24,104.87 L185.27,105.70 L185.30,105.84 L185.34,105.70 L185.37,106.01 L185.40,107.49 L185.44,107.11 L185.47,107.13 L185.51,108.98 L185.54,108.38 L185.57,109.05 L185.61,109.55 L185.64,109.94 L185.67,111.18 L185.71,111.06 L185.74,111.71 L185.78,112.17 L185.81,113.33 L185.84,112.52 L185.88,113.92 L185.91,113.70 L185.94,114.23 L185.98,115.46 L186.01,115.59 L186.04,115.59 L186.08,116.93 L186.11,117.96 L186.15,118.03 L186.18,118.29 L186.21,119.28 L186.25,119.96 L186.28,119.24 L186.31,119.98 L186.35,121.54 L186.38,121.97 L186.42,121.31 L186.45,122.61 L186.48,123.38 L186.52,123.42 L186.55,124.09 L186.58,124.29 L186.62,124.31 L186.65,124.76 L186.69,125.01 L186.72,126.45 L186.75,126.09 L186.79,127.34 L186.82,127.44 L186.85,127.98 L186.89,129.31 L186.92,128.84 L186.96,129.44 L186.99,129.74 L187.02,129.94 L187.06,130.40 L187.09,131.34 L187.12,132.24 L187.16,131.52 L187.19,133.32 L187.22,133.32 L187.26,132.75 L187.29,134.22 L187.33,134.15 L187.36,134.74 L187.39,134.49 L187.43,135.55 L187.46,135.96 L187.49,136.78 L187.53,136.84 L187.56,137.42 L187.60,137.85 L187.63,137.39 L187.66,137.45 L187.70,138.53 L187.73,138.32 L187.76,138.69 L187.80,139.32 L187.83,140.00 L187.87,140.45 L187.90,140.82 L187.93,141.60 L187.97,140.56 L188.00,141.59 L188.11,141.74 L188.21,143.52 L188.31,143.93 L188.41,144.18 L188.51,145.13 L188.61,146.32 L188.71,146.60 L188.80,147.89 L188.90,147.44 L189.00,147.88 L189.09,149.24 L189.19,149.13 L189.29,148.71 L189.39,150.14 L189.49,149.80 L189.59,151.05 L189.69,150.85 L189.80,151.41 L189.90,151.84 L190.01,151.50 L190.12,152.51 L190.24,151.29 L190.36,152.08 L190.48,153.18 L190.60,152.16 L190.73,153.56 L190.86,154.43 L191.00,154.34 L191.18,155.06 L191.35,154.28 L191.53,155.49 L191.70,156.07 L191.88,156.24 L192.06,156.43 L192.24,162.01 L192.43,156.75 L192.62,153.89 L192.81,154.66 L193.01,162.38 L193.22,160.86 L193.43,158.48 L193.65,162.28 L193.89,160.16 L194.12,164.27 L194.37,166.61 L194.64,162.03 L194.91,163.57 L195.19,162.29 L195.49,167.51 L195.80,165.10 L196.10,167.64 L196.41,162.24 L196.73,165.13 L197.06,168.88 L197.40,162.43 L197.75,166.30 L198.11,165.29 L198.47,169.47 L198.85,167.16 L199.23,166.62 L199.62,166.32 L200.01,168.41 L200.41,166.32 L200.82,168.67 L201.22,167.83 L201.64,165.71 L202.05,168.17 L202.47,169.88 L202.89,167.57 L203.31,169.42 L203.73,167.85 L204.16,164.44 L204.58,168.82 L205.00,170.36 L205.42,170.98 L205.86,168.90 L206.29,170.72 L206.73,170.36 L207.18,173.27 L207.64,167.71 L208.09,169.20 L208.55,169.68 L209.02,172.06 L209.48,170.41 L209.95,165.76 L210.42,169.78 L210.89,168.97 L211.36,168.47 L211.83,171.36 L212.30,168.58 L212.77,174.49 L213.24,170.02 L213.71,171.24 L214.17,166.44 L214.64,169.92 L215.10,166.62 L215.55,171.81 L216.00,169.92 L216.46,166.82 L216.92,169.80 L217.38,171.21 L217.83,166.20 L218.28,171.89 L218.73,168.10 L219.17,169.59 L219.62,176.09 L220.06,169.34 L220.50,175.79 L220.95,169.79 L221.39,170.02 L221.84,173.11 L222.28,166.22 L222.73,171.60 L223.19,173.16 L223.65,170.49 L224.11,171.60 L224.57,169.52 L225.05,169.98 L225.52,173.21 L226.01,172.18 L226.50,169.37 L226.93,172.84 L227.39,170.41 L227.86,167.87 L228.34,166.79 L228.84,173.02 L229.35,173.12 L229.87,170.44 L230.39,166.10 L230.92,165.82 L231.45,176.43 L231.99,171.70 L232.52,165.46 L233.04,169.14 L233.57,172.53 L234.08,175.74 L234.58,171.47 L235.07,169.01 L235.54,169.41 L236.00,171.64 L236.44,172.67 L236.86,165.34 L237.25,169.71 L237.62,171.08 L237.96,168.99 L238.27,173.96 L238.55,171.49 L238.80,170.89" fill="none" stroke="#231f20" stroke-width="0.9" stroke-linejoin="round"/>
<line x1="226" y1="153" x2="226" y2="163" stroke="#231f20" stroke-width="1.6"/>
<path d="M222.8,159.5 L226,165 L229.2,159.5" fill="none" stroke="#231f20" stroke-width="1.6"/>
<line x1="226" y1="196" x2="226" y2="186" stroke="#231f20" stroke-width="1.6"/>
<path d="M222.8,189.5 L226,184 L229.2,189.5" fill="none" stroke="#231f20" stroke-width="1.6"/>
<text x="226.5" y="150.3" font-size="7.4" text-anchor="middle" textLength="14.4" lengthAdjust="spacingAndGlyphs" fill="#231f20">CGD</text>
<text x="224" y="206.5" font-size="7.4" text-anchor="middle" textLength="24" lengthAdjust="spacingAndGlyphs" fill="#231f20">Control</text>
<path d="M297.80,53.02 L298.11,53.30 L298.50,53.48 L298.97,53.03 L299.49,53.39 L300.06,53.17 L300.65,53.14 L301.26,53.17 L301.87,52.95 L302.46,52.91 L303.02,53.82 L303.54,53.48 L304.00,53.66 L304.62,53.15 L305.20,53.46 L305.75,53.13 L306.26,53.42 L306.74,53.34 L307.19,52.91 L307.61,53.23 L308.00,52.84 L308.53,52.84 L308.94,52.54 L309.30,51.64 L309.63,52.17 L310.00,51.48 L310.28,51.34 L310.54,51.78 L310.80,52.66 L311.07,52.65 L311.36,53.15 L311.66,53.92 L312.00,54.55 L312.18,55.38 L312.38,55.42 L312.58,55.32 L312.79,56.11 L313.01,56.60 L313.23,57.57 L313.46,57.55 L313.68,58.32 L313.91,58.53 L314.14,58.98 L314.36,59.42 L314.58,60.38 L314.79,60.48 L315.00,61.01 L315.26,61.71 L315.51,62.02 L315.77,62.58 L316.02,63.43 L316.27,64.12 L316.52,64.03 L316.76,64.38 L317.00,65.05 L317.24,65.33 L317.47,65.59 L317.70,66.05 L318.19,65.81 L318.65,65.88 L319.10,65.27 L319.55,64.47 L320.00,64.67 L320.33,64.74 L320.50,64.73 L320.99,64.04 L322.30,63.87 L322.61,63.18 L322.96,63.35 L323.33,63.84 L323.72,63.40 L324.14,63.60 L324.58,64.09 L325.04,63.99 L325.51,63.41 L326.01,63.82 L326.52,64.28 L327.05,64.43 L327.58,64.53 L328.13,63.92 L328.69,63.80 L329.26,63.98 L329.83,64.30 L330.40,64.18 L330.98,64.54 L331.56,64.23 L332.15,64.50 L332.73,63.74 L333.30,64.06 L333.88,64.49 L334.44,64.48 L335.00,64.08 L335.46,64.37 L335.93,64.02 L336.40,64.31 L336.87,64.86 L337.35,64.60 L337.83,63.85 L338.31,64.22 L338.80,64.53 L339.28,63.90 L339.77,64.91 L340.27,64.33 L340.76,64.21 L341.26,64.20 L341.76,64.48 L342.26,64.20 L342.77,63.73 L343.27,64.79 L343.78,64.37 L344.29,64.67 L344.80,64.23 L345.32,64.32 L345.83,64.11 L346.35,64.47 L346.87,64.33 L347.39,63.68 L347.91,64.16 L348.43,64.63 L348.95,64.07 L349.48,64.60 L350.00,64.59 L350.49,64.38 L350.99,63.97 L351.51,63.87 L352.04,64.46 L352.58,63.99 L353.13,64.22 L353.69,64.34 L354.26,63.70 L354.84,64.53 L355.42,63.75 L356.00,64.59 L356.58,64.29 L357.17,64.49 L357.75,64.80 L358.33,64.21 L358.90,64.24 L359.47,63.82 L360.03,64.24 L360.58,63.70 L361.12,63.80 L361.65,63.99 L362.17,64.21 L362.67,64.31 L363.15,64.02 L363.61,64.68 L364.06,63.55 L364.48,63.70 L364.89,64.07 L365.26,64.10 L365.61,64.65 L365.94,64.18 L366.23,63.78 L366.50,64.19" fill="none" stroke="#4b9234" stroke-width="1.0" stroke-linejoin="round"/>
<path d="M297.80,52.31 L298.11,52.65 L298.51,52.47 L298.99,52.68 L299.53,52.89 L300.11,52.85 L300.71,52.64 L301.33,52.90 L301.94,53.12 L302.53,53.40 L303.08,53.07 L303.58,53.37 L304.00,53.11 L304.69,53.01 L305.27,52.93 L305.75,52.47 L306.18,52.68 L306.58,52.84 L307.00,52.38 L307.36,52.21 L307.70,51.65 L308.02,50.84 L308.33,50.75 L308.62,49.84 L308.91,49.65 L309.20,49.51 L309.38,49.78 L309.55,50.21 L309.73,50.49 L309.89,50.84 L310.06,51.57 L310.22,51.77 L310.38,52.64 L310.53,53.56 L310.69,53.63 L310.85,54.54 L311.00,55.14 L311.10,55.31 L311.20,55.59 L311.30,56.11 L311.40,56.48 L311.49,57.37 L311.58,57.62 L311.67,57.59 L311.76,58.22 L311.86,58.14 L311.95,58.80 L312.05,59.59 L312.15,60.00 L312.25,60.82 L312.36,61.42 L312.48,62.21 L312.60,62.83 L312.65,63.06 L312.71,63.66 L312.76,63.72 L312.82,64.63 L312.88,65.17 L312.94,65.58 L312.99,65.35 L313.05,66.62 L313.12,67.13 L313.18,67.21 L313.24,67.83 L313.30,68.06 L313.37,68.57 L313.43,69.59 L313.49,69.47 L313.56,70.22 L313.62,70.92 L313.69,70.94 L313.76,71.68 L313.82,72.39 L313.89,73.17 L313.96,73.55 L314.02,73.64 L314.09,74.17 L314.16,75.31 L314.22,75.20 L314.29,76.08 L314.36,76.34 L314.42,77.32 L314.49,77.71 L314.55,78.53 L314.62,78.79 L314.68,79.02 L314.75,80.02 L314.81,80.44 L314.87,81.02 L314.94,81.47 L315.00,82.00 L315.07,82.89 L315.13,83.12 L315.20,83.33 L315.26,83.77 L315.33,84.41 L315.39,84.88 L315.46,85.32 L315.52,86.36 L315.58,86.99 L315.65,87.72 L315.71,88.24 L315.78,88.80 L315.84,89.40 L315.91,89.60 L315.97,90.47 L316.03,90.99 L316.10,91.14 L316.16,92.30 L316.23,92.55 L316.29,93.31 L316.35,93.36 L316.42,93.98 L316.48,94.14 L316.54,94.92 L316.61,95.30 L316.67,95.91 L316.73,96.61 L316.80,96.65 L316.86,97.12 L316.92,97.92 L316.99,98.00 L317.05,98.40 L317.11,98.74 L317.17,99.41 L317.24,99.69 L317.30,99.82 L317.48,100.61 L317.66,102.02 L317.84,102.49 L318.01,102.85 L318.18,103.36 L318.36,104.26 L318.53,104.62 L318.71,104.28 L318.90,105.25 L319.09,105.39 L319.29,105.78 L319.50,106.08 L319.86,106.79 L320.20,106.32 L320.56,107.25 L320.94,108.74 L321.38,108.15 L321.89,107.80 L322.50,108.34 L322.89,108.03 L323.30,108.64 L323.73,109.79 L324.17,108.70 L324.64,109.23 L325.14,108.09 L325.66,108.28 L326.21,108.88 L326.80,107.61 L327.43,109.69 L328.09,109.66 L328.80,109.10 L329.21,108.24 L329.63,109.05 L330.07,108.44 L330.53,109.37 L331.00,109.24 L331.48,108.81 L331.97,109.16 L332.48,108.95 L332.99,109.49 L333.51,108.12 L334.04,107.94 L334.58,108.79 L335.12,107.42 L335.66,108.25 L336.21,107.87 L336.76,108.05 L337.30,107.52 L337.85,107.73 L338.39,108.05 L338.93,108.74 L339.47,106.82 L340.00,106.78 L340.46,106.31 L340.93,107.99 L341.39,107.33 L341.85,106.59 L342.31,107.47 L342.77,107.01 L343.23,105.56 L343.69,106.53 L344.16,105.89 L344.62,105.35 L345.09,105.08 L345.56,104.11 L346.03,105.80 L346.50,105.33 L346.98,105.29 L347.46,105.36 L347.95,104.17 L348.44,103.85 L348.93,103.18 L349.43,104.41 L349.93,103.72 L350.44,103.47 L350.95,103.63 L351.47,104.35 L352.00,103.02 L352.47,103.04 L352.96,103.35 L353.47,102.04 L353.99,102.58 L354.53,103.55 L355.08,103.72 L355.65,102.86 L356.22,101.46 L356.80,103.08 L357.38,102.49 L357.96,102.08 L358.55,101.03 L359.13,101.35 L359.71,100.37 L360.29,101.10 L360.85,101.28 L361.41,101.46 L361.95,101.96 L362.48,101.57 L362.99,101.08 L363.48,100.54 L363.95,100.57 L364.40,100.83 L364.83,100.72 L365.22,99.47 L365.59,100.88 L365.93,100.95 L366.23,100.10 L366.50,100.39" fill="none" stroke="#d8392b" stroke-width="1.2" stroke-linejoin="round"/>
<path d="M297.80,50.89 L297.97,50.89 L298.18,51.35 L298.42,51.40 L298.69,51.09 L298.98,51.21 L299.29,51.22 L299.62,51.21 L299.96,51.37 L300.32,51.89 L300.68,51.44 L301.05,51.60 L301.42,51.66 L301.78,51.65 L302.14,51.98 L302.49,52.15 L302.83,52.24 L303.16,52.14 L303.46,52.25 L303.74,51.74 L304.00,51.87 L304.31,52.20 L304.61,51.56 L304.90,51.56 L305.16,51.55 L305.42,51.26 L305.66,51.25 L305.89,50.75 L306.12,50.65 L306.33,50.86 L306.54,50.13 L306.74,50.34 L306.93,49.64 L307.12,49.86 L307.31,49.39 L307.50,49.09 L307.64,48.55 L307.77,48.23 L307.89,48.36 L308.01,47.70 L308.13,47.37 L308.24,47.40 L308.35,47.08 L308.45,46.22 L308.55,46.40 L308.65,45.78 L308.75,45.34 L308.84,44.83 L308.94,44.68 L309.03,44.73 L309.12,44.03 L309.22,43.69 L309.31,43.49 L309.40,43.30 L309.50,43.30 L309.60,43.55 L309.77,42.97 L309.93,43.04 L310.10,43.54 L310.26,43.70 L310.43,43.87 L310.59,43.67 L310.75,44.04 L310.90,44.76 L311.06,44.90 L311.21,45.51 L311.36,45.80 L311.50,46.21 L311.54,46.60 L311.59,47.04 L311.63,47.27 L311.67,47.35 L311.71,47.50 L311.75,47.76 L311.79,47.93 L311.83,48.21 L311.87,48.63 L311.91,48.49 L311.95,48.97 L311.99,49.42 L312.02,49.62 L312.06,49.48 L312.10,50.22 L312.13,50.42 L312.17,50.30 L312.21,50.64 L312.24,50.90 L312.28,51.11 L312.32,51.97 L312.35,51.94 L312.39,52.53 L312.43,52.40 L312.47,52.68 L312.50,53.53 L312.54,53.83 L312.58,54.31 L312.62,54.49 L312.66,54.76 L312.70,55.28 L312.74,55.26 L312.78,55.93 L312.82,56.27 L312.87,56.50 L312.91,57.20 L312.95,57.46 L313.00,58.00 L313.02,58.16 L313.05,58.36 L313.07,58.62 L313.10,59.01 L313.12,59.49 L313.15,59.72 L313.17,59.93 L313.20,60.18 L313.23,60.11 L313.25,60.80 L313.28,60.64 L313.31,60.83 L313.33,61.34 L313.36,61.76 L313.39,61.81 L313.41,62.28 L313.44,62.36 L313.47,63.06 L313.50,63.05 L313.53,63.36 L313.55,63.70 L313.58,64.21 L313.61,64.58 L313.64,64.62 L313.67,64.88 L313.70,65.29 L313.72,65.28 L313.75,65.81 L313.78,66.38 L313.81,66.66 L313.84,66.55 L313.87,67.35 L313.90,67.39 L313.93,68.07 L313.96,68.03 L313.99,68.26 L314.01,68.79 L314.04,69.31 L314.07,69.37 L314.10,69.96 L314.13,70.19 L314.16,70.31 L314.19,70.60 L314.22,71.05 L314.25,71.32 L314.28,71.63 L314.30,72.12 L314.33,72.58 L314.36,72.73 L314.39,72.79 L314.42,73.16 L314.45,73.58 L314.47,74.04 L314.50,74.08 L314.53,74.36 L314.56,74.82 L314.59,75.12 L314.61,75.28 L314.64,75.90 L314.67,76.44 L314.69,76.52 L314.72,76.94 L314.75,77.30 L314.77,77.61 L314.80,77.95 L314.83,77.97 L314.85,78.41 L314.88,78.36 L314.90,79.11 L314.93,79.09 L314.95,79.43 L314.98,79.96 L315.00,79.87 L315.03,80.15 L315.06,80.86 L315.09,81.06 L315.11,81.09 L315.14,81.38 L315.17,81.91 L315.20,82.04 L315.23,82.87 L315.25,82.81 L315.28,83.20 L315.31,83.60 L315.33,84.00 L315.36,84.29 L315.38,84.73 L315.41,85.08 L315.44,85.28 L315.46,85.40 L315.49,86.26 L315.51,86.41 L315.54,86.37 L315.56,86.91 L315.59,87.42 L315.61,87.88 L315.64,87.65 L315.66,87.93 L315.68,88.53 L315.71,88.81 L315.73,89.41 L315.76,89.68 L315.78,89.69 L315.81,90.05 L315.83,90.46 L315.85,90.95 L315.88,90.84 L315.90,91.25 L315.92,91.37 L315.95,92.00 L315.97,91.93 L315.99,92.76 L316.02,92.81 L316.04,93.12 L316.07,93.12 L316.09,93.49 L316.11,93.91 L316.14,94.42 L316.16,94.50 L316.18,94.62 L316.21,95.31 L316.23,95.38 L316.26,95.57 L316.28,95.63 L316.30,95.95 L316.33,96.56 L316.35,96.35 L316.38,96.84 L316.40,97.13 L316.43,97.21 L316.45,97.70 L316.48,98.02 L316.50,98.21 L316.55,98.57 L316.60,98.66 L316.64,98.96 L316.69,99.55 L316.74,99.82 L316.78,100.08 L316.83,100.80 L316.87,100.71 L316.92,101.37 L316.97,101.72 L317.01,101.49 L317.06,102.23 L317.10,102.18 L317.15,102.32 L317.20,102.55 L317.24,102.70 L317.29,103.22 L317.34,103.39 L317.38,103.92 L317.43,104.15 L317.48,103.94 L317.53,104.41 L317.58,104.66 L317.63,104.81 L317.68,105.14 L317.73,105.45 L317.78,106.02 L317.84,106.13 L317.89,106.33 L317.94,106.76 L318.00,107.27 L318.04,107.59 L318.07,107.65 L318.11,108.18 L318.14,108.15 L318.18,108.70 L318.22,108.93 L318.26,108.95 L318.29,109.58 L318.33,109.65 L318.37,110.03 L318.41,110.36 L318.45,110.68 L318.48,110.87 L318.52,110.94 L318.56,111.69 L318.60,112.04 L318.64,112.13 L318.68,112.50 L318.72,112.63 L318.76,113.33 L318.80,113.52 L318.84,113.56 L318.88,114.24 L318.92,114.66 L318.96,114.60 L319.01,115.31 L319.05,115.33 L319.09,115.47 L319.13,116.11 L319.17,116.21 L319.21,116.77 L319.26,117.00 L319.30,117.03 L319.34,117.60 L319.38,118.11 L319.43,118.20 L319.47,118.55 L319.51,119.05 L319.56,119.10 L319.60,119.44 L319.65,119.79 L319.69,120.23 L319.73,120.15 L319.78,120.37 L319.82,121.06 L319.87,121.22 L319.91,121.34 L319.96,121.97 L320.00,122.23 L320.06,122.49 L320.11,124.43 L320.16,124.21 L320.21,124.21 L320.26,122.88 L320.31,122.18 L320.35,124.90 L320.40,125.40 L320.44,124.32 L320.48,125.08 L320.52,125.69 L320.56,124.83 L320.61,126.73 L320.65,126.53 L320.69,126.18 L320.74,125.46 L320.78,127.34 L320.83,126.78 L320.88,128.52 L320.92,126.80 L320.98,127.88 L321.03,127.44 L321.09,128.48 L321.15,129.37 L321.21,127.95 L321.27,128.05 L321.34,129.87 L321.42,129.14 L321.49,130.52 L321.57,129.59 L321.66,129.64 L321.75,131.50 L321.84,133.19 L321.94,133.29 L322.05,132.32 L322.16,132.20 L322.28,131.32 L322.40,132.39 L322.50,132.78 L322.60,135.29 L322.70,132.58 L322.81,135.84 L322.92,134.41 L323.03,134.53 L323.14,134.18 L323.25,136.98 L323.37,134.47 L323.49,136.14 L323.61,136.21 L323.73,135.37 L323.86,135.75 L323.98,138.78 L324.11,138.38 L324.24,138.46 L324.38,139.37 L324.51,136.77 L324.65,139.24 L324.79,139.71 L324.93,138.11 L325.07,139.24 L325.22,141.40 L325.36,139.36 L325.51,141.22 L325.66,139.36 L325.81,141.46 L325.97,140.31 L326.12,141.46 L326.28,141.25 L326.44,143.32 L326.60,143.14 L326.77,142.55 L326.93,143.48 L327.10,142.81 L327.26,144.42 L327.43,142.71 L327.61,143.99 L327.78,144.39 L327.95,143.92 L328.13,142.92 L328.31,143.60 L328.49,145.51 L328.67,144.18 L328.85,146.36 L329.04,145.65 L329.22,147.46 L329.41,147.27 L329.60,147.02 L329.83,145.95 L330.07,144.98 L330.31,147.03 L330.56,147.90 L330.81,148.72 L331.06,146.32 L331.31,146.34 L331.57,149.47 L331.83,148.77 L332.09,148.01 L332.36,149.08 L332.63,147.11 L332.90,148.68 L333.18,149.27 L333.45,149.17 L333.73,147.70 L334.01,147.74 L334.30,149.61 L334.59,150.66 L334.88,148.08 L335.17,147.71 L335.46,148.08 L335.75,150.70 L336.05,149.37 L336.35,149.68 L336.65,151.70 L336.95,150.39 L337.26,149.21 L337.56,150.84 L337.87,148.38 L338.18,149.44 L338.49,150.99 L338.80,149.14 L339.11,148.68 L339.42,150.46 L339.74,149.81 L340.05,152.15 L340.37,149.04 L340.68,151.58 L341.00,150.10 L341.27,151.60 L341.54,150.31 L341.81,151.10 L342.09,149.86 L342.36,149.47 L342.65,150.27 L342.93,151.49 L343.22,149.82 L343.51,149.37 L343.80,149.99 L344.09,148.79 L344.39,149.53 L344.68,150.40 L344.98,150.24 L345.28,150.36 L345.59,149.18 L345.89,148.16 L346.19,148.09 L346.50,149.14 L346.80,148.54 L347.11,149.80 L347.41,148.62 L347.72,150.32 L348.02,149.65 L348.33,149.78 L348.64,149.95 L348.94,149.08 L349.25,148.65 L349.55,148.12 L349.86,147.14 L350.16,149.67 L350.46,148.52 L350.76,146.97 L351.06,149.85 L351.35,148.51 L351.65,148.56 L351.94,147.79 L352.23,146.57 L352.52,149.62 L352.81,146.53 L353.09,147.14 L353.38,149.33 L353.65,146.08 L353.93,147.34 L354.20,147.18 L354.47,146.26 L354.74,148.61 L355.00,146.69 L355.32,145.14 L355.65,146.70 L355.97,144.90 L356.30,147.32 L356.64,147.79 L356.97,147.80 L357.30,144.59 L357.63,146.73 L357.97,145.27 L358.30,145.75 L358.63,145.00 L358.97,144.89 L359.30,144.14 L359.62,145.79 L359.95,143.73 L360.27,146.75 L360.59,143.31 L360.91,146.49 L361.22,143.58 L361.53,143.07 L361.83,145.32 L362.13,144.43 L362.42,145.17 L362.71,144.11 L362.99,144.43 L363.26,142.34 L363.52,144.36 L363.78,143.67 L364.03,145.18 L364.27,141.64 L364.51,141.76 L364.73,143.86 L364.94,144.67 L365.15,142.77 L365.34,143.73 L365.52,143.11 L365.69,142.43 L365.85,142.63 L366.00,143.07" fill="none" stroke="#231f20" stroke-width="0.8" stroke-linejoin="round"/>
<path d="M297.80,49.62 L297.90,49.92 L298.01,50.34 L298.14,50.05 L298.27,50.32 L298.42,50.26 L298.58,50.46 L298.75,50.82 L298.92,51.02 L299.11,51.33 L299.30,51.09 L299.49,51.01 L299.70,51.27 L299.90,51.20 L300.11,51.49 L300.32,51.92 L300.53,52.09 L300.75,51.95 L300.96,52.05 L301.18,52.13 L301.39,52.34 L301.59,52.74 L301.80,52.67 L302.00,53.31 L302.19,53.17 L302.38,53.11 L302.57,53.31 L302.77,53.13 L302.98,53.82 L303.18,53.97 L303.39,53.79 L303.61,54.22 L303.82,53.99 L304.03,54.08 L304.25,54.22 L304.46,54.33 L304.67,54.79 L304.89,54.94 L305.09,55.13 L305.30,54.75 L305.50,55.39 L305.70,55.27 L305.89,55.28 L306.08,55.48 L306.26,55.50 L306.43,55.39 L306.59,55.61 L306.75,55.87 L306.90,55.97 L307.21,56.15 L307.48,55.46 L307.71,55.81 L307.93,55.48 L308.12,55.13 L308.30,55.08 L308.47,54.21 L308.64,54.61 L308.82,54.73 L309.00,54.30 L309.20,55.08 L309.24,55.46 L309.28,55.05 L309.33,55.62 L309.37,55.78 L309.41,55.54 L309.46,55.44 L309.50,55.64 L309.54,56.28 L309.59,56.10 L309.63,56.17 L309.68,56.44 L309.72,57.00 L309.76,56.63 L309.81,56.62 L309.85,57.55 L309.90,57.23 L309.94,57.48 L309.99,58.14 L310.03,57.79 L310.08,57.84 L310.12,58.69 L310.17,58.39 L310.21,58.58 L310.26,59.38 L310.30,59.03 L310.35,59.80 L310.39,59.58 L310.43,59.78 L310.48,59.95 L310.52,60.45 L310.57,60.71 L310.61,60.82 L310.65,61.16 L310.69,61.24 L310.74,61.93 L310.78,62.26 L310.82,62.37 L310.86,62.68 L310.90,62.34 L310.94,62.75 L310.99,62.97 L311.03,63.20 L311.06,64.12 L311.10,64.34 L311.14,64.61 L311.18,64.60 L311.22,64.51 L311.26,65.03 L311.29,65.01 L311.33,65.96 L311.36,65.72 L311.40,66.01 L311.43,66.81 L311.47,66.49 L311.50,67.34 L311.52,67.03 L311.54,67.50 L311.56,67.24 L311.59,68.06 L311.61,67.84 L311.63,67.99 L311.65,68.42 L311.66,68.56 L311.68,68.48 L311.70,68.57 L311.72,69.12 L311.74,68.87 L311.76,69.74 L311.78,69.51 L311.79,69.57 L311.81,69.89 L311.83,69.91 L311.84,70.27 L311.86,70.65 L311.88,70.74 L311.89,70.88 L311.91,71.05 L311.93,71.40 L311.94,71.84 L311.96,71.77 L311.97,72.24 L311.99,72.21 L312.00,72.13 L312.02,72.38 L312.03,73.13 L312.05,73.04 L312.06,73.17 L312.08,73.49 L312.09,73.96 L312.10,73.80 L312.12,74.00 L312.13,74.22 L312.15,74.15 L312.16,74.79 L312.17,74.95 L312.19,75.18 L312.20,75.37 L312.21,75.60 L312.23,76.02 L312.24,75.82 L312.26,76.67 L312.27,76.20 L312.28,77.03 L312.30,76.70 L312.31,77.43 L312.32,77.23 L312.34,77.31 L312.35,77.91 L312.36,78.38 L312.38,78.61 L312.39,78.87 L312.41,79.19 L312.42,78.68 L312.43,79.18 L312.45,79.20 L312.46,79.95 L312.48,79.95 L312.49,80.42 L312.51,80.70 L312.52,81.11 L312.54,81.09 L312.55,81.50 L312.57,81.48 L312.58,81.35 L312.60,82.25 L312.61,81.86 L312.63,82.11 L312.65,82.95 L312.66,82.76 L312.68,83.32 L312.69,83.07 L312.71,83.47 L312.73,84.13 L312.75,83.85 L312.76,84.49 L312.78,85.09 L312.80,84.77 L312.81,85.35 L312.83,85.58 L312.84,85.67 L312.85,85.98 L312.87,86.12 L312.88,85.77 L312.89,86.11 L312.91,86.59 L312.92,87.13 L312.93,86.73 L312.95,87.23 L312.96,87.06 L312.98,87.84 L312.99,87.72 L313.00,87.99 L313.02,88.31 L313.03,88.09 L313.05,88.77 L313.06,89.04 L313.07,89.29 L313.09,89.04 L313.10,89.21 L313.12,89.37 L313.13,90.17 L313.14,90.01 L313.16,90.19 L313.17,90.51 L313.19,90.86 L313.20,90.77 L313.21,91.00 L313.23,91.57 L313.24,91.79 L313.26,91.63 L313.27,91.67 L313.29,92.57 L313.30,92.63 L313.32,92.74 L313.33,92.81 L313.35,93.48 L313.36,93.28 L313.37,93.33 L313.39,93.46 L313.40,93.88 L313.42,94.31 L313.43,94.34 L313.45,95.03 L313.46,95.02 L313.48,95.09 L313.49,95.48 L313.51,95.66 L313.52,95.90 L313.54,96.03 L313.55,96.28 L313.57,96.48 L313.58,96.98 L313.60,96.70 L313.61,97.41 L313.63,97.24 L313.64,97.91 L313.66,97.52 L313.67,98.08 L313.69,98.28 L313.71,98.73 L313.72,98.55 L313.74,98.83 L313.75,98.95 L313.77,99.53 L313.78,99.77 L313.80,99.54 L313.81,99.92 L313.83,100.16 L313.84,101.00 L313.86,100.83 L313.88,101.15 L313.89,101.16 L313.91,101.69 L313.92,102.04 L313.94,102.16 L313.95,101.86 L313.97,102.44 L313.99,102.71 L314.00,102.59 L314.02,103.41 L314.03,103.27 L314.05,103.48 L314.06,103.97 L314.08,104.17 L314.10,104.33 L314.11,104.85 L314.13,104.81 L314.14,104.90 L314.16,104.91 L314.18,105.53 L314.19,105.60 L314.21,105.97 L314.22,106.05 L314.24,106.01 L314.26,106.26 L314.27,106.58 L314.29,106.76 L314.30,107.59 L314.32,107.60 L314.34,107.55 L314.35,108.16 L314.37,108.32 L314.39,108.09 L314.40,108.86 L314.42,108.67 L314.43,109.51 L314.45,109.05 L314.47,109.39 L314.48,109.58 L314.50,110.29 L314.52,110.48 L314.53,110.51 L314.55,110.38 L314.57,110.83 L314.58,111.27 L314.60,110.98 L314.61,111.89 L314.63,112.05 L314.65,112.35 L314.66,112.38 L314.68,112.54 L314.69,113.05 L314.71,112.71 L314.73,112.97 L314.74,113.05 L314.76,113.32 L314.77,114.04 L314.79,113.70 L314.81,114.44 L314.82,114.39 L314.84,115.00 L314.86,115.13 L314.87,115.30 L314.89,115.65 L314.90,115.24 L314.92,115.64 L314.94,115.95 L314.95,116.22 L314.97,116.64 L314.98,117.04 L315.00,117.15 L315.02,117.53 L315.03,117.57 L315.05,117.52 L315.06,117.87 L315.08,118.29 L315.10,118.57 L315.11,118.44 L315.13,118.66 L315.15,119.09 L315.16,119.01 L315.18,119.76 L315.19,119.28 L315.21,120.02 L315.23,120.12 L315.24,120.11 L315.26,120.64 L315.28,120.79 L315.29,121.41 L315.31,121.57 L315.33,121.56 L315.34,122.01 L315.36,122.25 L315.38,121.90 L315.39,122.66 L315.41,122.89 L315.43,123.24 L315.44,123.28 L315.46,123.21 L315.48,123.28 L315.50,123.87 L315.51,123.74 L315.53,124.40 L315.55,124.48 L315.56,124.90 L315.58,124.75 L315.60,124.93 L315.62,125.63 L315.63,125.66 L315.65,125.66 L315.67,126.03 L315.69,126.15 L315.71,126.54 L315.72,126.66 L315.74,126.70 L315.76,127.47 L315.78,127.62 L315.80,127.74 L315.82,127.57 L315.83,127.73 L315.85,128.37 L315.87,128.67 L315.89,128.75 L315.91,128.62 L315.93,129.24 L315.95,129.30 L315.97,129.40 L315.98,129.79 L316.00,129.89 L316.02,130.27 L316.04,130.57 L316.06,130.97 L316.08,130.49 L316.10,131.07 L316.12,131.58 L316.14,131.57 L316.16,131.72 L316.18,132.15 L316.20,131.70 L316.22,132.52 L316.24,132.60 L316.26,132.78 L316.29,132.77 L316.31,133.23 L316.33,133.04 L316.35,133.57 L316.37,133.57 L316.39,134.31 L316.41,134.42 L316.43,134.36 L316.46,134.79 L316.48,134.70 L316.50,135.02 L316.53,134.97 L316.55,135.76 L316.58,135.92 L316.60,136.16 L316.63,135.85 L316.66,136.68 L316.68,136.26 L316.71,136.94 L316.74,137.11 L316.76,137.00 L316.79,137.52 L316.81,138.13 L316.84,138.15 L316.87,138.13 L316.90,138.76 L316.92,138.62 L316.95,139.29 L316.98,139.12 L317.00,139.09 L317.03,140.03 L317.06,139.53 L317.09,139.91 L317.11,140.55 L317.14,140.25 L317.17,140.81 L317.20,141.29 L317.23,141.30 L317.25,141.33 L317.28,141.88 L317.31,142.16 L317.34,142.18 L317.37,142.44 L317.40,142.42 L317.43,142.71 L317.45,143.40 L317.48,143.60 L317.51,143.05 L317.54,143.42 L317.57,143.66 L317.60,144.34 L317.63,144.08 L317.66,144.27 L317.69,144.97 L317.72,144.71 L317.75,145.57 L317.78,145.37 L317.81,145.94 L317.84,146.10 L317.87,145.82 L317.90,146.50 L317.93,146.42 L317.96,146.48 L317.99,146.56 L318.03,147.95 L318.06,147.59 L318.09,146.78 L318.12,149.11 L318.15,146.78 L318.18,147.99 L318.22,146.77 L318.25,148.04 L318.28,150.39 L318.31,149.06 L318.34,147.89 L318.38,148.44 L318.41,150.28 L318.44,149.03 L318.48,151.68 L318.51,148.58 L318.54,152.03 L318.58,151.25 L318.61,152.27 L318.64,150.61 L318.68,149.68 L318.71,150.31 L318.75,152.34 L318.78,150.15 L318.81,150.70 L318.85,153.60 L318.88,154.19 L318.92,154.32 L318.95,154.45 L318.99,153.54 L319.02,155.03 L319.06,154.53 L319.10,154.18 L319.13,153.87 L319.17,152.48 L319.20,152.95 L319.24,153.80 L319.28,154.86 L319.31,153.72 L319.35,157.33 L319.39,155.96 L319.43,156.83 L319.46,157.66 L319.50,155.20 L319.54,158.07 L319.58,158.58 L319.62,156.04 L319.66,155.69 L319.69,158.61 L319.73,159.19 L319.77,159.05 L319.81,157.71 L319.85,158.71 L319.88,156.98 L319.92,157.68 L319.96,158.64 L320.00,160.16 L320.03,157.76 L320.07,161.33 L320.11,157.96 L320.15,161.94 L320.18,159.23 L320.22,161.78 L320.26,161.99 L320.30,162.76 L320.33,161.04 L320.37,162.17 L320.41,160.76 L320.45,163.14 L320.48,160.47 L320.52,163.78 L320.56,162.84 L320.60,160.93 L320.64,164.67 L320.67,162.38 L320.71,161.61 L320.75,162.59 L320.79,161.88 L320.83,163.11 L320.87,165.04 L320.91,166.37 L320.95,165.16 L320.99,166.27 L321.03,166.36 L321.07,166.15 L321.11,165.04 L321.15,164.73 L321.19,164.56 L321.23,166.34 L321.27,165.18 L321.31,167.54 L321.36,166.08 L321.40,167.33 L321.44,167.42 L321.49,167.96 L321.53,166.28 L321.57,166.90 L321.62,168.85 L321.66,167.16 L321.71,169.21 L321.76,170.60 L321.80,168.51 L321.85,171.02 L321.90,169.84 L321.94,171.38 L321.99,169.92 L322.04,172.15 L322.09,171.78 L322.14,167.90 L322.19,170.83 L322.24,171.57 L322.29,170.80 L322.35,172.67 L322.40,174.97 L322.45,174.23 L322.51,174.59 L322.56,169.19 L322.62,174.10 L322.67,173.68 L322.73,176.51 L322.78,168.87 L322.84,170.51 L322.90,177.47 L322.96,172.62 L323.02,175.63 L323.08,174.89 L323.14,173.48 L323.20,174.04 L323.27,175.29 L323.33,179.06 L323.40,175.48 L323.46,177.86 L323.53,173.98 L323.59,177.63 L323.66,176.95 L323.73,178.33 L323.80,179.69 L323.87,173.17 L323.93,180.83 L324.00,178.04 L324.07,175.31 L324.14,177.23 L324.20,174.35 L324.27,175.69 L324.34,181.00 L324.42,180.15 L324.49,181.66 L324.56,175.96 L324.63,175.72 L324.70,178.22 L324.78,179.41 L324.85,181.43 L324.93,178.18 L325.00,182.09 L325.08,181.02 L325.15,178.76 L325.23,183.17 L325.31,177.39 L325.38,181.97 L325.46,178.79 L325.54,177.79 L325.62,181.67 L325.70,182.24 L325.78,183.24 L325.86,181.47 L325.94,186.35 L326.02,185.35 L326.10,180.28 L326.19,179.25 L326.27,187.50 L326.35,183.10 L326.44,180.76 L326.52,181.59 L326.61,186.20 L326.69,182.02 L326.78,183.90 L326.86,186.67 L326.95,184.16 L327.04,186.91 L327.12,189.61 L327.21,188.53 L327.30,187.36 L327.39,187.56 L327.48,185.12 L327.57,188.12 L327.66,188.41 L327.74,188.11 L327.84,187.52 L327.93,189.92 L328.02,185.54 L328.11,190.03 L328.20,192.47 L328.29,184.77 L328.38,186.80 L328.48,193.17 L328.57,185.79 L328.66,192.18 L328.76,190.40 L328.85,186.31 L328.95,191.22 L329.04,186.20 L329.13,193.48 L329.23,189.09 L329.33,194.51 L329.42,194.49 L329.52,188.30 L329.61,190.73 L329.71,188.83 L329.81,194.11 L329.90,188.74 L330.00,188.75 L330.10,189.30 L330.20,195.73 L330.29,190.78 L330.39,191.60 L330.49,192.82 L330.59,193.89 L330.69,192.91 L330.79,197.58 L330.89,192.66 L330.99,193.98 L331.09,197.39 L331.19,192.37 L331.29,191.96 L331.39,197.69 L331.49,193.49 L331.59,198.49 L331.69,198.07 L331.79,194.46 L331.89,194.28 L331.99,192.50 L332.09,199.14 L332.19,195.67 L332.30,194.98 L332.40,193.74 L332.50,194.30 L332.66,199.96 L332.81,193.93 L332.97,197.70 L333.13,198.50 L333.30,197.83 L333.46,197.88 L333.63,197.19 L333.79,195.66 L333.96,201.13 L334.13,201.95 L334.30,199.34 L334.47,196.90 L334.64,202.62 L334.82,196.82 L334.99,196.73 L335.17,200.72 L335.35,202.61 L335.52,200.59 L335.70,196.87 L335.88,204.32 L336.06,197.56 L336.24,199.28 L336.42,204.84 L336.60,203.34 L336.79,203.18 L336.97,197.60 L337.15,204.26 L337.34,200.59 L337.52,197.45 L337.71,204.12 L337.89,205.43 L338.08,198.14 L338.26,201.68 L338.45,205.56 L338.63,200.90 L338.82,200.77 L339.00,204.88 L339.19,202.16 L339.37,206.95 L339.56,205.86 L339.74,205.99 L339.93,204.83 L340.11,200.63 L340.30,204.87 L340.48,204.06 L340.66,203.36 L340.85,204.16 L341.03,202.07 L341.21,201.27 L341.39,207.36 L341.57,202.88 L341.75,200.78 L341.93,208.19 L342.11,204.38 L342.29,205.86 L342.46,203.12 L342.64,201.62 L342.81,203.25 L342.98,207.55 L343.16,202.94 L343.33,208.40 L343.50,203.38 L343.67,208.45 L343.83,202.51 L344.00,204.83 L344.23,202.31 L344.45,202.59 L344.68,205.85 L344.90,204.64 L345.12,206.20 L345.34,203.60 L345.55,204.49 L345.77,204.68 L345.98,209.62 L346.19,202.84 L346.40,205.75 L346.61,209.51 L346.82,207.22 L347.03,204.64 L347.23,210.95 L347.44,203.55 L347.64,203.86 L347.85,202.92 L348.05,206.54 L348.26,210.12 L348.46,205.34 L348.66,205.43 L348.87,209.79 L349.07,203.80 L349.27,203.35 L349.48,208.83 L349.68,204.05 L349.89,207.79 L350.09,204.63 L350.30,208.52 L350.50,210.66 L350.71,207.36 L350.92,205.90 L351.13,208.89 L351.34,209.58 L351.55,204.23 L351.77,205.81 L351.98,207.01 L352.20,208.14 L352.42,206.24 L352.64,209.52 L352.86,206.18 L353.08,211.69 L353.31,207.09 L353.54,206.05 L353.77,204.90 L354.00,205.36 L354.20,206.16 L354.41,211.81 L354.62,207.94 L354.84,208.21 L355.06,212.60 L355.29,212.70 L355.52,211.06 L355.75,206.69 L355.98,207.47 L356.22,209.01 L356.46,206.98 L356.71,207.77 L356.95,206.68 L357.20,206.97 L357.45,211.28 L357.70,210.10 L357.96,208.82 L358.21,209.08 L358.47,210.31 L358.72,210.95 L358.98,205.43 L359.23,212.37 L359.49,209.21 L359.74,208.24 L360.00,213.45 L360.25,211.80 L360.50,208.42 L360.75,205.72 L361.00,209.23 L361.24,209.29 L361.49,208.78 L361.73,206.49 L361.97,210.55 L362.20,207.88 L362.44,212.17 L362.66,210.24 L362.89,208.30 L363.11,212.81 L363.33,209.66 L363.54,206.64 L363.75,208.31 L363.95,206.43 L364.14,209.63 L364.34,213.68 L364.52,213.97 L364.70,211.58 L364.87,207.42 L365.04,208.16 L365.20,207.88 L365.35,209.33 L365.50,211.58 L365.64,206.43 L365.76,210.37 L365.89,209.86 L366.00,211.85" fill="none" stroke="#3a2f95" stroke-width="0.6" stroke-linejoin="round"/>
<text x="338.2" y="63.0" font-size="7.4" text-anchor="middle" textLength="30.3" lengthAdjust="spacingAndGlyphs" fill="#231f20">0.1µg/mL</text>
<text x="341.5" y="96.5" font-size="7.4" text-anchor="middle" textLength="35" lengthAdjust="spacingAndGlyphs" fill="#231f20">0.25µg/mL</text>
<text x="346.2" y="137.8" font-size="7.4" text-anchor="middle" textLength="31.6" lengthAdjust="spacingAndGlyphs" fill="#231f20">0.5µg/mL</text>
<text x="345.5" y="191.0" font-size="7.4" text-anchor="middle" textLength="24.5" lengthAdjust="spacingAndGlyphs" fill="#231f20">1µg/mL</text>
<path d="M425.90,55.51 L426.20,55.10 L426.60,55.36 L427.06,56.15 L427.58,55.75 L428.14,55.86 L428.72,56.04 L429.32,55.44 L429.90,55.78 L430.47,56.32 L431.00,56.08 L431.52,55.95 L432.05,55.89 L432.60,56.51 L433.15,56.00 L433.69,56.53 L434.22,56.23 L434.72,56.39 L435.19,56.13 L435.62,56.71 L436.00,55.94 L436.58,55.98 L436.97,55.25 L437.27,54.52 L437.58,54.10 L438.00,54.34 L438.16,54.56 L438.32,54.29 L438.49,55.21 L438.67,55.09 L438.85,56.68 L439.03,56.45 L439.22,57.08 L439.41,57.37 L439.60,57.31 L439.79,58.73 L439.99,58.90 L440.19,60.16 L440.39,60.32 L440.59,61.03 L440.80,61.04 L441.00,62.37 L441.12,62.23 L441.25,62.39 L441.37,62.66 L441.49,64.09 L441.61,64.18 L441.74,64.77 L441.86,65.59 L441.98,65.71 L442.10,65.95 L442.23,66.89 L442.35,67.13 L442.48,67.62 L442.61,68.59 L442.74,68.98 L442.87,69.29 L443.00,70.12 L443.14,70.51 L443.27,71.22 L443.42,71.31 L443.56,72.59 L443.71,72.78 L443.86,73.68 L444.01,73.43 L444.17,74.44 L444.33,74.69 L444.50,74.70 L444.71,75.47 L444.93,76.85 L445.15,76.59 L445.38,77.85 L445.62,77.89 L445.86,78.35 L446.10,78.83 L446.35,78.95 L446.60,80.00 L446.85,80.32 L447.11,81.16 L447.37,81.15 L447.63,81.73 L447.90,82.06 L448.17,82.00 L448.44,83.68 L448.71,83.53 L448.98,83.86 L449.25,84.43 L449.53,84.69 L449.80,84.35 L450.20,84.23 L450.59,85.10 L450.96,84.40 L451.34,83.63 L451.71,83.69 L452.09,83.64 L452.48,83.46 L452.89,83.30 L453.32,83.06 L453.78,81.90 L454.27,82.67 L454.80,81.29 L455.38,81.18 L456.00,81.18 L456.39,80.95 L456.80,80.79 L457.22,79.78 L457.66,80.23 L458.12,80.10 L458.59,80.29 L459.08,79.82 L459.57,80.55 L460.08,79.43 L460.59,79.12 L461.11,79.45 L461.64,79.00 L462.17,79.61 L462.71,78.30 L463.25,78.19 L463.79,78.80 L464.33,78.90 L464.86,78.27 L465.40,78.02 L465.93,78.16 L466.46,78.00 L466.98,77.90 L467.50,77.69 L468.00,77.75 L468.50,77.79 L469.00,77.53 L469.50,76.99 L470.00,77.46 L470.49,77.12 L470.99,76.90 L471.49,77.49 L471.99,76.65 L472.49,77.23 L472.98,76.94 L473.48,77.29 L473.98,77.24 L474.48,76.80 L474.98,76.37 L475.48,77.09 L475.98,76.76 L476.48,76.73 L476.98,76.91 L477.48,76.57 L477.98,76.79 L478.49,76.09 L478.99,77.08 L479.49,77.23 L480.00,77.00 L480.52,76.29 L481.05,76.87 L481.61,76.71 L482.18,76.50 L482.75,76.06 L483.34,77.23 L483.94,76.53 L484.53,76.53 L485.13,76.27 L485.73,76.96 L486.32,76.18 L486.90,76.90 L487.47,76.44 L488.03,76.12 L488.58,76.73 L489.10,75.90 L489.60,77.08 L490.08,76.66 L490.54,76.96 L490.96,76.81 L491.35,77.07 L491.70,77.17 L492.02,76.30 L492.30,77.13" fill="none" stroke="#4b9234" stroke-width="1.0" stroke-linejoin="round"/>
<path d="M425.90,50.29 L426.20,50.19 L426.57,50.44 L427.02,50.57 L427.51,50.60 L428.05,50.63 L428.62,51.18 L429.21,51.15 L429.81,50.84 L430.40,50.53 L430.96,50.67 L431.50,50.82 L432.00,50.93 L432.52,51.13 L433.04,50.72 L433.56,50.60 L434.08,50.17 L434.59,49.77 L435.08,49.05 L435.56,49.17 L436.02,48.54 L436.44,48.42 L436.84,48.80 L437.20,48.96 L437.36,49.54 L437.52,49.30 L437.66,49.24 L437.79,50.01 L437.92,49.93 L438.04,50.29 L438.15,51.36 L438.25,52.03 L438.35,52.01 L438.44,53.00 L438.53,53.34 L438.62,53.84 L438.70,53.91 L438.79,54.81 L438.87,55.14 L438.95,55.97 L439.04,56.47 L439.12,57.78 L439.21,58.42 L439.30,58.22 L439.40,59.03 L439.50,60.01 L439.57,60.10 L439.64,60.64 L439.70,61.16 L439.77,61.47 L439.84,61.78 L439.91,62.77 L439.98,63.18 L440.05,63.21 L440.12,63.89 L440.19,64.53 L440.26,65.09 L440.33,65.69 L440.40,66.28 L440.47,66.69 L440.54,67.44 L440.61,68.10 L440.68,68.29 L440.75,69.02 L440.82,69.54 L440.89,70.47 L440.96,70.52 L441.03,71.53 L441.09,71.51 L441.16,72.42 L441.23,73.14 L441.29,73.43 L441.36,73.67 L441.42,74.42 L441.49,74.53 L441.55,74.63 L441.62,75.59 L441.68,76.20 L441.74,76.78 L441.80,76.99 L441.88,77.53 L441.95,78.16 L442.03,78.72 L442.10,79.07 L442.17,80.24 L442.25,80.39 L442.32,80.54 L442.38,80.89 L442.45,81.49 L442.52,81.73 L442.59,82.31 L442.65,83.53 L442.72,83.22 L442.78,83.98 L442.85,85.13 L442.92,85.06 L442.98,85.84 L443.05,86.35 L443.11,86.47 L443.18,86.69 L443.25,87.25 L443.32,87.84 L443.39,88.00 L443.46,89.30 L443.53,89.39 L443.60,89.49 L443.67,90.18 L443.74,90.91 L443.81,91.46 L443.88,92.03 L443.95,92.18 L444.02,93.38 L444.09,93.53 L444.16,94.16 L444.24,94.69 L444.31,95.44 L444.38,95.53 L444.45,96.00 L444.53,96.74 L444.60,96.96 L444.67,98.13 L444.75,98.09 L444.82,98.61 L444.89,99.13 L444.96,99.89 L445.04,99.80 L445.11,100.24 L445.18,101.10 L445.25,101.75 L445.32,101.94 L445.39,102.80 L445.46,103.12 L445.53,103.03 L445.60,103.51 L445.68,104.76 L445.75,105.29 L445.82,106.03 L445.89,106.03 L445.95,106.94 L446.01,107.04 L446.07,107.49 L446.13,108.40 L446.19,108.73 L446.25,109.80 L446.31,110.24 L446.37,110.58 L446.43,111.21 L446.50,111.64 L446.57,112.10 L446.65,112.13 L446.74,112.91 L446.83,113.46 L446.92,113.51 L447.03,114.87 L447.14,116.69 L447.27,116.47 L447.40,115.33 L447.63,115.78 L447.88,115.17 L448.13,117.63 L448.40,115.85 L448.68,118.07 L448.98,117.86 L449.29,117.92 L449.62,119.42 L449.97,120.71 L450.33,119.25 L450.72,120.94 L451.12,119.56 L451.55,121.20 L452.00,121.74 L452.36,122.07 L452.72,123.53 L453.10,121.75 L453.47,121.38 L453.86,122.66 L454.26,121.07 L454.66,122.80 L455.08,124.07 L455.52,123.37 L455.97,123.65 L456.44,123.66 L456.92,124.14 L457.43,124.85 L457.95,125.35 L458.50,125.61 L459.08,124.73 L459.67,124.59 L460.30,125.41 L460.70,124.86 L461.12,125.01 L461.54,125.24 L461.98,126.22 L462.42,126.25 L462.88,125.17 L463.35,126.35 L463.82,125.47 L464.30,124.14 L464.79,123.87 L465.29,125.13 L465.80,122.07 L466.31,124.27 L466.83,122.64 L467.35,121.80 L467.88,123.23 L468.41,124.00 L468.95,122.78 L469.49,121.73 L470.03,123.48 L470.58,122.65 L471.13,123.75 L471.68,120.52 L472.23,121.33 L472.79,122.07 L473.34,121.56 L473.89,121.79 L474.45,121.76 L475.00,123.77 L475.48,122.21 L475.98,122.46 L476.49,121.87 L477.02,122.21 L477.56,122.13 L478.12,121.67 L478.68,122.00 L479.26,121.55 L479.84,120.62 L480.43,121.54 L481.02,120.12 L481.61,121.90 L482.21,121.31 L482.80,121.76 L483.39,122.22 L483.98,120.34 L484.57,120.50 L485.15,121.28 L485.72,120.60 L486.28,121.28 L486.83,120.95 L487.37,121.86 L487.89,122.12 L488.40,122.12 L488.89,120.96 L489.36,120.58 L489.82,122.82 L490.25,122.68 L490.66,119.36 L491.04,120.71 L491.40,121.31 L491.73,120.85 L492.03,121.56 L492.30,119.16" fill="none" stroke="#d8392b" stroke-width="1.2" stroke-linejoin="round"/>
<path d="M425.90,50.27 L426.04,50.04 L426.20,49.90 L426.38,50.27 L426.58,50.48 L426.80,49.78 L427.03,50.07 L427.28,50.38 L427.54,50.18 L427.81,50.55 L428.09,50.15 L428.38,50.35 L428.67,50.36 L428.96,50.10 L429.26,50.70 L429.56,50.26 L429.86,50.50 L430.15,50.40 L430.44,50.34 L430.73,50.80 L431.01,50.97 L431.27,50.63 L431.53,50.47 L431.77,50.60 L432.00,50.74 L432.25,50.17 L432.50,50.15 L432.74,50.50 L432.99,50.12 L433.23,49.52 L433.46,49.59 L433.69,49.54 L433.92,49.19 L434.15,49.23 L434.37,48.85 L434.58,48.55 L434.80,48.00 L435.00,48.25 L435.21,47.80 L435.41,47.51 L435.60,47.30 L435.79,47.73 L435.98,47.76 L436.16,47.08 L436.33,47.76 L436.50,47.88 L436.61,47.84 L436.72,47.47 L436.82,47.70 L436.92,48.19 L437.02,48.14 L437.12,47.68 L437.21,48.00 L437.30,48.29 L437.39,48.70 L437.47,48.85 L437.56,48.63 L437.64,49.14 L437.72,49.31 L437.79,49.00 L437.87,49.20 L437.94,49.48 L438.02,49.89 L438.09,49.82 L438.16,50.63 L438.23,50.67 L438.30,50.71 L438.37,50.91 L438.44,51.56 L438.51,52.00 L438.58,52.22 L438.65,52.87 L438.72,53.48 L438.79,53.49 L438.86,53.98 L438.93,54.59 L439.00,55.06 L439.02,55.52 L439.04,55.47 L439.07,55.48 L439.09,55.41 L439.11,56.13 L439.13,56.33 L439.16,56.35 L439.18,56.05 L439.20,56.73 L439.22,56.85 L439.24,57.14 L439.26,57.17 L439.28,57.11 L439.31,57.95 L439.33,57.92 L439.35,57.98 L439.37,58.40 L439.39,58.18 L439.41,58.56 L439.43,58.82 L439.45,58.67 L439.47,59.46 L439.49,59.42 L439.51,59.72 L439.54,60.18 L439.56,59.84 L439.58,60.14 L439.60,60.48 L439.62,60.48 L439.64,60.86 L439.66,61.61 L439.68,61.81 L439.70,61.60 L439.72,61.95 L439.74,61.99 L439.76,62.67 L439.78,62.53 L439.80,62.91 L439.82,63.07 L439.84,63.35 L439.86,63.46 L439.88,64.28 L439.89,64.22 L439.91,64.29 L439.93,64.76 L439.95,65.16 L439.97,65.38 L439.99,65.21 L440.01,66.20 L440.03,65.71 L440.05,66.21 L440.07,66.49 L440.09,67.09 L440.11,66.88 L440.13,67.51 L440.15,67.36 L440.17,67.87 L440.19,68.43 L440.20,68.72 L440.22,68.47 L440.24,69.08 L440.26,69.04 L440.28,69.96 L440.30,70.04 L440.32,70.18 L440.34,70.62 L440.36,70.49 L440.38,71.22 L440.40,71.16 L440.42,71.87 L440.43,72.09 L440.45,72.41 L440.47,72.79 L440.49,72.68 L440.51,73.23 L440.53,73.44 L440.55,73.82 L440.57,73.57 L440.59,73.86 L440.61,74.58 L440.63,75.02 L440.65,74.72 L440.67,75.17 L440.69,75.57 L440.70,75.66 L440.72,76.43 L440.74,76.61 L440.76,76.74 L440.78,76.81 L440.80,77.22 L440.82,77.28 L440.84,77.63 L440.86,78.00 L440.88,78.53 L440.90,78.88 L440.92,78.57 L440.94,79.05 L440.96,79.85 L440.98,79.46 L441.00,79.68 L441.02,80.06 L441.03,80.71 L441.05,80.79 L441.07,81.01 L441.08,81.18 L441.10,81.55 L441.12,81.48 L441.13,81.49 L441.15,82.46 L441.16,82.44 L441.18,82.87 L441.20,82.57 L441.21,82.88 L441.23,83.62 L441.24,83.20 L441.26,84.10 L441.27,83.90 L441.29,84.11 L441.31,84.52 L441.32,84.98 L441.34,84.73 L441.35,85.14 L441.37,85.37 L441.38,85.59 L441.40,86.17 L441.41,86.14 L441.43,86.56 L441.45,86.83 L441.46,87.01 L441.48,87.11 L441.49,87.16 L441.51,87.84 L441.52,87.73 L441.54,88.14 L441.55,88.66 L441.57,89.03 L441.58,89.32 L441.60,89.61 L441.61,89.58 L441.63,90.02 L441.64,90.13 L441.66,90.37 L441.68,90.64 L441.69,91.21 L441.71,91.38 L441.72,91.30 L441.74,91.34 L441.75,91.74 L441.77,92.36 L441.78,92.22 L441.80,92.81 L441.81,93.41 L441.83,93.36 L441.84,93.53 L441.86,93.43 L441.88,93.78 L441.89,94.26 L441.91,94.62 L441.92,95.13 L441.94,94.80 L441.95,95.15 L441.97,95.57 L441.98,96.06 L442.00,96.22 L442.02,96.49 L442.03,96.38 L442.05,97.24 L442.06,97.34 L442.08,97.64 L442.10,97.87 L442.11,98.17 L442.13,98.43 L442.14,98.82 L442.16,98.69 L442.18,98.71 L442.19,99.66 L442.21,99.60 L442.23,100.20 L442.24,100.26 L442.26,100.05 L442.28,100.23 L442.29,100.53 L442.31,101.25 L442.33,101.11 L442.34,101.26 L442.36,102.15 L442.38,102.27 L442.39,102.61 L442.41,102.93 L442.43,103.15 L442.45,103.05 L442.46,103.75 L442.48,103.90 L442.50,103.88 L442.52,104.44 L442.54,104.74 L442.55,104.37 L442.57,104.76 L442.59,105.06 L442.61,105.54 L442.63,105.59 L442.65,105.98 L442.66,105.88 L442.68,106.50 L442.70,106.92 L442.72,106.60 L442.74,107.27 L442.76,107.03 L442.78,107.53 L442.80,108.01 L442.82,107.81 L442.84,107.90 L442.86,108.31 L442.88,108.42 L442.90,108.68 L442.92,109.47 L442.94,109.31 L442.96,109.59 L442.98,109.86 L443.00,109.79 L443.03,110.68 L443.05,110.22 L443.08,110.96 L443.11,111.12 L443.13,111.65 L443.16,111.73 L443.19,111.62 L443.21,112.38 L443.24,112.35 L443.27,113.12 L443.29,112.85 L443.32,113.79 L443.34,113.44 L443.37,113.73 L443.40,114.59 L443.42,114.23 L443.45,115.05 L443.48,114.93 L443.50,115.00 L443.53,115.93 L443.56,115.64 L443.58,116.50 L443.61,116.49 L443.64,116.63 L443.66,117.15 L443.69,117.21 L443.72,117.95 L443.74,117.47 L443.77,118.03 L443.80,118.17 L443.83,118.96 L443.85,118.78 L443.88,119.15 L443.91,119.85 L443.94,119.58 L443.96,120.30 L443.99,119.96 L444.02,120.21 L444.05,120.72 L444.08,121.27 L444.11,121.14 L444.14,121.34 L444.17,122.03 L444.19,122.39 L444.22,122.42 L444.25,122.93 L444.28,122.88 L444.31,123.32 L444.34,123.74 L444.38,123.90 L444.41,123.86 L444.44,124.10 L444.47,124.40 L444.50,124.85 L444.53,125.06 L444.56,125.04 L444.60,125.76 L444.63,125.45 L444.66,126.01 L444.70,126.09 L444.73,125.99 L444.76,126.50 L444.80,126.89 L444.83,127.35 L444.87,127.40 L444.90,127.88 L444.94,127.37 L444.97,128.35 L445.01,127.82 L445.05,128.43 L445.08,128.54 L445.12,129.16 L445.16,129.19 L445.20,129.26 L445.23,129.37 L445.27,129.74 L445.31,130.27 L445.35,130.43 L445.39,130.31 L445.43,130.33 L445.47,130.58 L445.51,131.08 L445.56,131.42 L445.60,131.12 L445.64,131.46 L445.68,131.78 L445.73,132.03 L445.77,131.92 L445.82,132.56 L445.86,132.31 L445.91,132.83 L445.95,133.32 L446.00,133.14 L446.09,134.50 L446.17,131.65 L446.26,136.31 L446.34,134.12 L446.43,135.97 L446.51,132.91 L446.60,136.42 L446.68,133.67 L446.77,137.28 L446.86,138.50 L446.94,133.75 L447.03,136.84 L447.12,135.85 L447.21,136.84 L447.30,137.58 L447.39,140.03 L447.49,138.73 L447.58,137.72 L447.67,140.93 L447.77,139.01 L447.87,140.50 L447.96,141.99 L448.06,138.07 L448.16,141.27 L448.27,142.77 L448.37,140.59 L448.48,138.09 L448.58,142.32 L448.69,143.02 L448.81,140.08 L448.92,142.91 L449.03,143.92 L449.15,143.34 L449.27,141.97 L449.39,144.71 L449.52,144.94 L449.64,142.56 L449.77,140.39 L449.90,142.38 L450.04,143.95 L450.17,142.52 L450.31,145.40 L450.45,142.21 L450.60,142.54 L450.75,143.72 L450.90,145.55 L451.05,146.80 L451.21,142.09 L451.37,142.56 L451.53,142.21 L451.70,143.14 L451.87,146.49 L452.04,143.67 L452.22,147.29 L452.40,146.99 L452.58,142.98 L452.77,145.42 L452.96,146.78 L453.15,143.13 L453.34,148.03 L453.54,148.05 L453.74,146.55 L453.94,147.69 L454.14,148.62 L454.35,145.07 L454.56,147.56 L454.77,145.33 L454.98,148.99 L455.20,147.12 L455.42,145.67 L455.64,146.96 L455.86,150.49 L456.08,148.15 L456.31,146.92 L456.54,147.12 L456.77,150.34 L457.00,149.21 L457.23,149.43 L457.47,148.91 L457.70,150.54 L457.94,149.83 L458.18,150.66 L458.42,148.78 L458.66,147.34 L458.91,147.49 L459.15,147.78 L459.40,147.58 L459.65,150.22 L459.89,150.84 L460.14,152.44 L460.39,147.25 L460.65,149.78 L460.90,147.14 L461.15,152.32 L461.41,152.37 L461.66,150.42 L461.92,151.77 L462.17,152.60 L462.43,151.95 L462.69,151.14 L462.94,153.01 L463.20,149.77 L463.42,149.34 L463.64,148.38 L463.87,153.24 L464.09,147.57 L464.32,149.86 L464.55,148.37 L464.78,152.47 L465.01,152.68 L465.25,151.03 L465.48,149.47 L465.72,147.77 L465.96,150.40 L466.20,147.77 L466.44,149.12 L466.68,150.48 L466.92,149.89 L467.17,152.89 L467.41,149.85 L467.66,148.33 L467.91,151.37 L468.16,151.94 L468.41,148.40 L468.66,150.41 L468.91,148.12 L469.16,149.67 L469.41,151.52 L469.66,147.03 L469.92,148.12 L470.17,152.30 L470.42,150.00 L470.68,150.16 L470.93,151.80 L471.19,151.61 L471.45,149.53 L471.70,147.39 L471.96,146.20 L472.21,146.16 L472.47,147.77 L472.73,149.20 L472.98,145.92 L473.24,146.69 L473.49,149.15 L473.75,146.24 L474.00,146.38 L474.26,147.33 L474.51,146.96 L474.77,145.52 L475.02,150.48 L475.27,146.63 L475.52,146.12 L475.78,146.55 L476.03,148.71 L476.28,146.09 L476.53,146.20 L476.77,145.78 L477.02,149.57 L477.27,145.08 L477.51,148.28 L477.76,149.45 L478.00,144.65 L478.26,144.95 L478.52,149.29 L478.78,148.73 L479.05,145.26 L479.32,147.06 L479.60,149.93 L479.87,148.48 L480.15,148.03 L480.44,147.47 L480.72,149.76 L481.01,144.97 L481.29,144.31 L481.58,148.80 L481.87,145.19 L482.16,149.71 L482.46,147.94 L482.75,147.72 L483.04,149.01 L483.33,145.42 L483.63,149.52 L483.92,144.17 L484.21,144.57 L484.50,148.73 L484.79,148.76 L485.08,148.94 L485.37,148.62 L485.65,148.35 L485.93,143.74 L486.22,144.64 L486.49,148.72 L486.77,144.86 L487.04,143.98 L487.31,149.35 L487.58,143.82 L487.84,148.64 L488.10,147.19 L488.36,145.39 L488.61,145.89 L488.86,145.94 L489.10,147.27 L489.34,146.02 L489.57,147.77 L489.80,143.72 L490.02,145.11 L490.24,147.91 L490.45,144.11 L490.65,147.20 L490.85,145.58 L491.04,143.75 L491.22,145.90 L491.40,146.91 L491.57,147.39 L491.73,144.10 L491.89,146.39 L492.03,144.44 L492.17,143.68 L492.30,147.25" fill="none" stroke="#231f20" stroke-width="0.7" stroke-linejoin="round"/>
<path d="M425.90,49.07 L426.03,48.56 L426.18,48.85 L426.36,48.88 L426.56,48.59 L426.77,49.33 L427.00,48.91 L427.25,49.41 L427.50,49.12 L427.76,49.28 L428.03,49.39 L428.30,49.32 L428.56,49.05 L428.83,49.05 L429.08,49.30 L429.33,48.82 L429.57,49.30 L429.79,49.23 L430.00,48.77 L430.16,48.69 L430.32,48.59 L430.47,48.97 L430.62,48.23 L430.76,48.17 L430.91,48.34 L431.05,47.94 L431.18,47.46 L431.32,47.32 L431.45,47.48 L431.59,46.92 L431.72,46.68 L431.85,47.02 L431.98,46.20 L432.11,46.41 L432.23,45.90 L432.36,46.30 L432.49,45.39 L432.61,45.30 L432.74,45.24 L432.87,44.89 L433.00,45.36 L433.16,44.69 L433.32,44.28 L433.47,44.74 L433.63,44.38 L433.79,43.54 L433.94,43.93 L434.10,43.60 L434.25,42.87 L434.41,43.25 L434.56,42.78 L434.71,42.77 L434.86,42.78 L435.00,42.33 L435.15,42.34 L435.29,42.26 L435.43,42.00 L435.57,41.93 L435.70,41.75 L435.82,42.35 L435.94,41.96 L436.05,42.33 L436.16,42.18 L436.28,42.34 L436.39,42.31 L436.50,42.40 L436.60,42.25 L436.71,42.71 L436.81,42.92 L436.92,43.12 L437.02,43.74 L437.12,43.33 L437.22,44.15 L437.32,43.87 L437.42,44.17 L437.51,45.04 L437.61,44.77 L437.70,45.88 L437.80,46.28 L437.83,46.31 L437.86,45.99 L437.89,46.61 L437.92,46.81 L437.95,46.58 L437.98,46.91 L438.00,46.90 L438.03,46.92 L438.06,47.25 L438.09,47.87 L438.12,47.89 L438.15,47.80 L438.17,47.77 L438.20,47.96 L438.23,48.22 L438.26,48.27 L438.29,49.07 L438.31,49.16 L438.34,49.36 L438.37,49.65 L438.39,49.65 L438.42,49.70 L438.45,50.18 L438.48,49.82 L438.50,50.09 L438.53,50.48 L438.56,50.72 L438.58,51.01 L438.61,51.25 L438.64,51.37 L438.66,51.33 L438.69,51.97 L438.71,52.26 L438.74,51.74 L438.77,52.15 L438.79,52.87 L438.82,52.67 L438.84,53.13 L438.87,53.27 L438.89,53.85 L438.92,53.79 L438.95,54.18 L438.97,53.88 L439.00,54.82 L439.02,54.83 L439.05,54.85 L439.07,55.51 L439.10,55.10 L439.12,55.77 L439.15,56.38 L439.17,56.33 L439.20,56.40 L439.22,56.93 L439.25,56.78 L439.27,57.08 L439.30,57.90 L439.32,58.15 L439.35,58.31 L439.37,58.12 L439.40,59.02 L439.42,59.37 L439.45,59.21 L439.47,59.44 L439.50,60.19 L439.51,60.00 L439.53,60.10 L439.54,60.73 L439.56,60.34 L439.57,61.13 L439.58,60.78 L439.60,61.62 L439.61,61.64 L439.62,61.75 L439.64,61.83 L439.65,61.93 L439.67,62.31 L439.68,62.38 L439.69,62.18 L439.71,62.76 L439.72,63.23 L439.73,63.36 L439.74,62.96 L439.76,63.72 L439.77,63.75 L439.78,63.74 L439.80,63.78 L439.81,64.26 L439.82,64.36 L439.84,64.48 L439.85,65.16 L439.86,65.31 L439.87,64.92 L439.89,65.32 L439.90,66.09 L439.91,66.05 L439.92,66.28 L439.94,66.13 L439.95,66.42 L439.96,66.59 L439.98,66.66 L439.99,67.29 L440.00,67.19 L440.01,67.92 L440.03,67.80 L440.04,67.82 L440.05,68.37 L440.06,68.48 L440.08,69.04 L440.09,69.09 L440.10,69.20 L440.11,69.68 L440.13,69.64 L440.14,70.19 L440.15,70.02 L440.16,70.10 L440.18,70.72 L440.19,70.66 L440.20,70.78 L440.21,70.86 L440.23,71.26 L440.24,71.82 L440.25,71.85 L440.26,71.99 L440.28,72.27 L440.29,72.76 L440.30,72.78 L440.31,72.64 L440.33,73.47 L440.34,73.81 L440.35,73.52 L440.36,74.07 L440.38,73.98 L440.39,74.05 L440.40,74.28 L440.41,74.47 L440.43,74.97 L440.44,75.38 L440.45,75.33 L440.47,76.20 L440.48,76.32 L440.49,76.44 L440.51,76.72 L440.52,76.54 L440.53,77.18 L440.54,77.58 L440.56,77.84 L440.57,77.56 L440.58,78.14 L440.60,77.95 L440.61,78.08 L440.62,78.40 L440.64,79.08 L440.65,79.54 L440.67,79.30 L440.68,79.72 L440.69,79.71 L440.71,79.78 L440.72,80.11 L440.74,80.71 L440.75,80.81 L440.76,80.92 L440.78,81.26 L440.79,81.51 L440.81,82.03 L440.82,81.78 L440.84,82.33 L440.85,82.41 L440.86,82.86 L440.88,82.91 L440.89,83.30 L440.91,83.72 L440.92,83.42 L440.94,84.38 L440.95,84.39 L440.97,84.45 L440.98,84.74 L441.00,84.90 L441.01,84.83 L441.03,85.43 L441.04,85.77 L441.05,85.66 L441.06,86.20 L441.08,86.40 L441.09,86.49 L441.10,86.88 L441.12,87.03 L441.13,87.41 L441.14,87.67 L441.15,87.35 L441.17,87.61 L441.18,87.57 L441.19,87.87 L441.21,88.45 L441.22,88.92 L441.23,88.69 L441.25,89.30 L441.26,88.96 L441.27,89.15 L441.28,89.57 L441.30,90.25 L441.31,89.80 L441.32,90.01 L441.34,90.68 L441.35,90.92 L441.36,91.20 L441.38,91.36 L441.39,91.43 L441.40,91.94 L441.42,91.59 L441.43,92.57 L441.44,92.66 L441.45,92.86 L441.47,93.15 L441.48,92.78 L441.49,93.11 L441.51,93.68 L441.52,93.68 L441.53,93.70 L441.55,94.43 L441.56,94.25 L441.57,94.88 L441.59,94.99 L441.60,94.86 L441.62,95.79 L441.63,95.87 L441.64,95.63 L441.66,96.35 L441.67,96.45 L441.68,96.83 L441.70,97.27 L441.71,96.75 L441.72,97.45 L441.74,97.46 L441.75,98.17 L441.77,97.90 L441.78,98.03 L441.79,98.52 L441.81,98.69 L441.82,98.63 L441.84,99.07 L441.85,99.12 L441.86,99.35 L441.88,99.71 L441.89,99.87 L441.91,100.21 L441.92,100.73 L441.93,101.09 L441.95,100.86 L441.96,100.99 L441.98,101.37 L441.99,101.56 L442.01,101.95 L442.02,102.51 L442.04,102.23 L442.05,102.73 L442.07,103.09 L442.08,103.33 L442.10,103.32 L442.11,103.38 L442.12,103.96 L442.14,104.46 L442.15,104.69 L442.17,104.72 L442.18,105.07 L442.20,105.23 L442.22,105.42 L442.23,105.39 L442.25,105.44 L442.26,106.24 L442.28,106.39 L442.29,106.14 L442.31,106.79 L442.32,107.15 L442.34,107.00 L442.35,107.02 L442.37,107.67 L442.39,108.02 L442.40,108.32 L442.42,108.13 L442.43,108.60 L442.45,108.67 L442.47,108.98 L442.48,109.26 L442.50,109.47 L442.51,109.14 L442.53,109.55 L442.55,110.17 L442.56,110.07 L442.58,110.05 L442.60,110.48 L442.61,111.04 L442.63,110.68 L442.65,111.06 L442.66,111.32 L442.68,111.94 L442.70,111.57 L442.72,112.33 L442.73,112.51 L442.75,112.32 L442.77,112.37 L442.79,113.17 L442.80,112.98 L442.82,112.87 L442.84,113.12 L442.86,113.16 L442.87,113.36 L442.89,114.09 L442.91,113.74 L442.93,114.50 L442.95,114.23 L442.96,115.03 L442.98,115.14 L443.00,114.79 L443.03,115.10 L443.06,115.51 L443.09,116.03 L443.12,116.05 L443.16,116.41 L443.19,116.87 L443.22,116.67 L443.25,116.88 L443.29,117.70 L443.32,117.73 L443.35,118.07 L443.39,118.28 L443.42,118.89 L443.46,118.95 L443.49,119.03 L443.53,119.21 L443.56,119.67 L443.60,119.72 L443.63,119.88 L443.67,120.52 L443.70,120.27 L443.74,120.59 L443.77,121.00 L443.81,121.19 L443.85,121.18 L443.88,121.84 L443.92,121.57 L443.96,122.27 L444.00,122.01 L444.03,122.95 L444.07,122.91 L444.11,123.09 L444.15,123.40 L444.18,123.83 L444.22,123.97 L444.26,123.94 L444.30,123.87 L444.34,124.53 L444.37,124.72 L444.41,124.87 L444.45,125.33 L444.49,124.86 L444.53,125.15 L444.57,125.21 L444.60,125.73 L444.64,126.30 L444.68,126.54 L444.72,126.33 L444.76,126.28 L444.80,126.38 L444.84,127.14 L444.87,126.84 L444.91,127.77 L444.95,127.39 L444.99,127.39 L445.03,127.77 L445.07,128.47 L445.11,128.02 L445.14,128.82 L445.18,128.98 L445.22,129.25 L445.26,129.42 L445.30,129.00 L445.34,129.18 L445.37,129.82 L445.41,129.81 L445.45,129.86 L445.49,130.00 L445.53,130.72 L445.56,130.95 L445.60,130.96 L445.64,130.81 L445.67,131.41 L445.71,131.77 L445.75,131.87 L445.78,131.45 L445.82,132.01 L445.86,131.89 L445.89,132.08 L445.93,132.96 L445.96,132.90 L446.00,132.64 L446.04,133.50 L446.09,133.28 L446.13,133.45 L446.17,134.34 L446.21,134.35 L446.25,134.04 L446.29,134.37 L446.32,134.67 L446.36,135.34 L446.40,135.50 L446.44,135.57 L446.47,135.64 L446.51,136.35 L446.55,135.78 L446.58,136.50 L446.62,136.23 L446.65,136.87 L446.69,137.18 L446.72,137.58 L446.76,137.77 L446.79,137.74 L446.83,137.81 L446.86,137.95 L446.89,138.20 L446.93,138.74 L446.96,138.77 L447.00,138.57 L447.03,139.30 L447.07,139.66 L447.10,139.77 L447.14,139.81 L447.17,139.57 L447.21,139.88 L447.24,140.24 L447.28,140.76 L447.32,140.51 L447.35,140.73 L447.39,141.17 L447.43,141.29 L447.47,141.19 L447.50,141.69 L447.54,141.75 L447.58,142.32 L447.62,142.15 L447.67,142.90 L447.71,142.37 L447.75,142.65 L447.79,143.34 L447.84,143.55 L447.88,143.79 L447.93,144.19 L447.97,144.41 L448.02,144.12 L448.07,144.58 L448.12,145.00 L448.17,144.60 L448.22,145.18 L448.27,145.54 L448.33,145.99 L448.38,145.80 L448.44,145.78 L448.50,146.21 L448.55,146.40 L448.61,146.61 L448.67,147.39 L448.74,147.38 L448.80,147.85 L448.85,147.55 L448.89,148.19 L448.94,148.45 L448.98,148.64 L449.03,151.29 L449.08,146.29 L449.13,146.65 L449.17,150.54 L449.22,152.31 L449.27,150.82 L449.32,149.14 L449.37,151.40 L449.42,149.72 L449.47,154.28 L449.52,149.82 L449.57,154.05 L449.62,147.10 L449.67,150.12 L449.72,147.84 L449.78,154.38 L449.83,151.48 L449.88,151.00 L449.93,152.71 L449.99,151.15 L450.04,153.52 L450.09,154.41 L450.15,150.03 L450.20,155.58 L450.26,155.78 L450.31,157.57 L450.37,151.89 L450.43,153.81 L450.48,150.81 L450.54,151.26 L450.60,151.05 L450.65,158.91 L450.71,155.55 L450.77,159.35 L450.83,152.79 L450.89,153.71 L450.95,155.57 L451.01,155.68 L451.06,156.67 L451.12,157.94 L451.19,156.16 L451.25,160.99 L451.31,154.30 L451.37,159.10 L451.43,155.42 L451.49,160.66 L451.55,154.33 L451.62,162.47 L451.68,156.27 L451.74,161.39 L451.81,162.26 L451.87,156.63 L451.93,161.96 L452.00,163.36 L452.06,159.27 L452.13,158.37 L452.19,158.89 L452.26,161.17 L452.33,160.64 L452.39,157.94 L452.46,161.22 L452.53,162.94 L452.59,165.42 L452.66,163.84 L452.73,166.33 L452.80,162.44 L452.87,165.02 L452.93,166.52 L453.00,162.99 L453.07,161.93 L453.14,166.99 L453.21,160.00 L453.28,161.15 L453.35,167.78 L453.42,161.75 L453.50,166.93 L453.57,163.03 L453.64,166.98 L453.71,166.14 L453.78,169.13 L453.86,168.46 L453.93,167.30 L454.00,162.24 L454.08,162.43 L454.15,165.87 L454.22,169.38 L454.30,163.31 L454.37,170.28 L454.45,165.02 L454.52,167.16 L454.60,169.13 L454.68,170.65 L454.77,171.96 L454.85,172.18 L454.94,165.36 L455.02,166.24 L455.11,167.58 L455.20,173.21 L455.28,168.35 L455.37,170.55 L455.46,168.50 L455.55,170.95 L455.64,168.12 L455.73,173.77 L455.82,170.40 L455.92,172.16 L456.01,169.53 L456.10,167.50 L456.20,171.00 L456.29,169.17 L456.38,172.08 L456.48,171.51 L456.57,173.85 L456.67,175.90 L456.77,175.66 L456.86,176.93 L456.96,176.42 L457.06,172.69 L457.16,175.76 L457.26,174.77 L457.35,172.29 L457.45,177.03 L457.55,177.26 L457.65,176.96 L457.75,172.11 L457.85,177.18 L457.95,173.63 L458.06,176.75 L458.16,177.14 L458.26,179.20 L458.36,179.88 L458.46,174.49 L458.56,178.80 L458.67,175.60 L458.77,175.69 L458.87,181.16 L458.98,180.63 L459.08,177.42 L459.18,176.15 L459.29,179.27 L459.39,178.11 L459.49,177.91 L459.60,180.94 L459.70,182.01 L459.81,182.36 L459.91,181.99 L460.01,183.11 L460.12,179.46 L460.22,178.39 L460.33,180.64 L460.43,181.15 L460.53,176.79 L460.64,179.42 L460.74,181.54 L460.85,179.52 L460.95,181.46 L461.06,181.38 L461.16,182.17 L461.26,178.93 L461.37,184.62 L461.47,179.29 L461.57,179.40 L461.68,183.11 L461.78,185.82 L461.88,183.01 L461.99,183.59 L462.09,180.11 L462.19,184.70 L462.29,180.43 L462.39,182.99 L462.50,187.36 L462.60,183.12 L462.70,186.62 L462.80,187.49 L462.90,187.31 L463.00,183.00 L463.10,182.02 L463.20,183.99 L463.36,183.34 L463.51,183.87 L463.67,185.89 L463.83,186.85 L463.98,182.98 L464.14,184.48 L464.29,189.44 L464.45,188.13 L464.60,185.68 L464.76,189.89 L464.91,183.38 L465.07,185.16 L465.22,190.18 L465.37,191.02 L465.53,187.53 L465.68,187.77 L465.84,190.16 L465.99,190.56 L466.14,186.55 L466.30,186.58 L466.45,188.03 L466.61,189.49 L466.76,189.21 L466.91,186.96 L467.07,190.64 L467.22,189.35 L467.38,190.38 L467.53,191.48 L467.69,187.22 L467.85,188.74 L468.00,191.08 L468.16,188.12 L468.31,192.89 L468.47,188.18 L468.63,194.74 L468.79,188.90 L468.95,193.51 L469.10,191.54 L469.26,189.83 L469.42,193.93 L469.58,193.57 L469.75,196.06 L469.91,192.58 L470.07,191.77 L470.23,192.00 L470.40,189.41 L470.56,191.18 L470.72,192.83 L470.89,193.17 L471.06,192.62 L471.22,193.91 L471.39,197.06 L471.56,189.86 L471.73,193.90 L471.90,191.11 L472.10,196.09 L472.29,191.67 L472.49,195.70 L472.69,192.34 L472.89,197.27 L473.09,193.40 L473.30,198.06 L473.50,195.98 L473.70,197.59 L473.91,197.92 L474.12,192.68 L474.32,196.18 L474.53,196.02 L474.74,194.19 L474.95,194.79 L475.16,193.15 L475.37,193.43 L475.58,198.66 L475.79,197.06 L476.00,193.46 L476.21,195.25 L476.42,195.52 L476.64,195.41 L476.85,191.88 L477.06,198.50 L477.28,193.08 L477.49,195.25 L477.71,194.21 L477.92,197.29 L478.14,196.07 L478.35,199.49 L478.57,198.75 L478.78,198.21 L479.00,195.36 L479.21,195.07 L479.43,199.91 L479.64,198.01 L479.86,194.15 L480.07,192.53 L480.29,193.69 L480.50,197.05 L480.72,200.14 L480.93,196.49 L481.15,193.81 L481.36,194.22 L481.57,196.65 L481.79,198.51 L482.00,193.26 L482.21,193.62 L482.43,200.30 L482.66,197.17 L482.88,199.60 L483.11,200.84 L483.35,195.46 L483.58,193.76 L483.82,198.96 L484.07,194.64 L484.31,198.56 L484.56,200.39 L484.80,197.26 L485.05,196.80 L485.30,197.81 L485.55,195.50 L485.80,201.33 L486.05,198.24 L486.30,200.22 L486.55,201.00 L486.80,198.52 L487.05,194.32 L487.29,199.84 L487.54,198.38 L487.78,200.71 L488.02,196.66 L488.26,201.48 L488.50,199.04 L488.73,201.54 L488.96,198.69 L489.18,197.52 L489.40,195.72 L489.62,200.98 L489.84,196.98 L490.04,199.40 L490.25,196.65 L490.44,196.68 L490.64,196.98 L490.82,196.48 L491.00,200.48 L491.18,202.98 L491.34,200.84 L491.50,200.04 L491.66,201.38 L491.80,201.21 L491.94,202.21 L492.07,203.22 L492.19,202.17 L492.30,202.21" fill="none" stroke="#3a2f95" stroke-width="0.6" stroke-linejoin="round"/>
<text x="466" y="74.2" font-size="7.4" text-anchor="middle" textLength="30.7" lengthAdjust="spacingAndGlyphs" fill="#231f20">0.1µg/mL</text>
<text x="471" y="113.8" font-size="7.4" text-anchor="middle" textLength="35" lengthAdjust="spacingAndGlyphs" fill="#231f20">0.25µg/mL</text>
<text x="470.2" y="137.8" font-size="7.4" text-anchor="middle" textLength="31" lengthAdjust="spacingAndGlyphs" fill="#231f20">0.5µg/mL</text>
<text x="476.8" y="181.0" font-size="7.4" text-anchor="middle" textLength="24.3" lengthAdjust="spacingAndGlyphs" fill="#231f20">1µg/mL</text>
<line x1="45.8" y1="30.2" x2="45.8" y2="48.8" stroke="#231f20" stroke-width="2.0"/>
<path d="M41.4,42.699999999999996 L45.8,50.0 L50.199999999999996,42.699999999999996" fill="none" stroke="#231f20" stroke-width="2.0" stroke-linejoin="miter"/>
<line x1="171.2" y1="30.2" x2="171.2" y2="49.5" stroke="#231f20" stroke-width="2.0"/>
<path d="M166.79999999999998,43.4 L171.2,50.7 L175.6,43.4" fill="none" stroke="#231f20" stroke-width="2.0" stroke-linejoin="miter"/>
<line x1="298.6" y1="23.1" x2="298.6" y2="46.0" stroke="#231f20" stroke-width="2.0"/>
<path d="M294.20000000000005,39.9 L298.6,47.2 L303.0,39.9" fill="none" stroke="#231f20" stroke-width="2.0" stroke-linejoin="miter"/>
<line x1="425.8" y1="25.4" x2="425.8" y2="47.2" stroke="#231f20" stroke-width="2.0"/>
<path d="M421.40000000000003,41.1 L425.8,48.400000000000006 L430.2,41.1" fill="none" stroke="#231f20" stroke-width="2.0" stroke-linejoin="miter"/>
<rect x="50.7" y="327.776" width="12.0" height="35.72399999999999" fill="#dfb345"/>
<line x1="56.35" y1="323.654" x2="56.35" y2="327.776" stroke="#231f20" stroke-width="1.0"/>
<line x1="53.45" y1="323.654" x2="59.25" y2="323.654" stroke="#231f20" stroke-width="1.2"/>
<rect x="62.0" y="332.58500000000004" width="11.3" height="30.914999999999964" fill="#5c482d"/>
<line x1="67.65" y1="329.837" x2="67.65" y2="332.58500000000004" stroke="#231f20" stroke-width="1.0"/>
<line x1="64.75" y1="329.837" x2="70.55000000000001" y2="329.837" stroke="#231f20" stroke-width="1.2"/>
<rect x="77.9" y="314.036" width="12.0" height="49.464" fill="#dfb345"/>
<line x1="83.55000000000001" y1="311.288" x2="83.55000000000001" y2="314.036" stroke="#231f20" stroke-width="1.0"/>
<line x1="80.65" y1="311.288" x2="86.45000000000002" y2="311.288" stroke="#231f20" stroke-width="1.2"/>
<rect x="89.2" y="317.471" width="11.3" height="46.028999999999996" fill="#5c482d"/>
<line x1="94.85000000000001" y1="315.41" x2="94.85000000000001" y2="317.471" stroke="#231f20" stroke-width="1.0"/>
<line x1="91.95" y1="315.41" x2="97.75000000000001" y2="315.41" stroke="#231f20" stroke-width="1.2"/>
<rect x="105.2" y="311.288" width="12.0" height="52.21199999999999" fill="#dfb345"/>
<line x1="110.85000000000001" y1="308.54" x2="110.85000000000001" y2="311.288" stroke="#231f20" stroke-width="1.0"/>
<line x1="107.95" y1="308.54" x2="113.75000000000001" y2="308.54" stroke="#231f20" stroke-width="1.2"/>
<rect x="116.5" y="313.349" width="11.3" height="50.15100000000001" fill="#5c482d"/>
<line x1="122.15" y1="311.288" x2="122.15" y2="313.349" stroke="#231f20" stroke-width="1.0"/>
<line x1="119.25" y1="311.288" x2="125.05000000000001" y2="311.288" stroke="#231f20" stroke-width="1.2"/>
<line x1="45.4" y1="292.2" x2="45.4" y2="364.0" stroke="#231f20" stroke-width="1.1"/>
<line x1="44.9" y1="363.5" x2="132.2" y2="363.5" stroke="#231f20" stroke-width="1.0"/>
<line x1="42.4" y1="363.5" x2="45.4" y2="363.5" stroke="#231f20" stroke-width="0.8"/>
<text x="38.8" y="366.2" font-size="7.7" text-anchor="end" fill="#231f20">0</text>
<line x1="42.4" y1="349.76" x2="45.4" y2="349.76" stroke="#231f20" stroke-width="0.8"/>
<text x="38.8" y="352.46" font-size="7.7" text-anchor="end" fill="#231f20">20</text>
<line x1="42.4" y1="336.02" x2="45.4" y2="336.02" stroke="#231f20" stroke-width="0.8"/>
<text x="38.8" y="338.71999999999997" font-size="7.7" text-anchor="end" fill="#231f20">40</text>
<line x1="42.4" y1="322.28000000000003" x2="45.4" y2="322.28000000000003" stroke="#231f20" stroke-width="0.8"/>
<text x="38.8" y="324.98" font-size="7.7" text-anchor="end" fill="#231f20">60</text>
<line x1="42.4" y1="308.54" x2="45.4" y2="308.54" stroke="#231f20" stroke-width="0.8"/>
<text x="38.8" y="311.24" font-size="7.7" text-anchor="end" fill="#231f20">80</text>
<line x1="42.4" y1="294.8" x2="45.4" y2="294.8" stroke="#231f20" stroke-width="0.8"/>
<text x="38.8" y="297.5" font-size="7.7" text-anchor="end" fill="#231f20">100</text>
<line x1="62.0" y1="363.5" x2="62.0" y2="366.0" stroke="#231f20" stroke-width="0.8"/>
<text x="62.0" y="374.2" font-size="7.4" text-anchor="middle" fill="#231f20">2</text>
<line x1="89.2" y1="363.5" x2="89.2" y2="366.0" stroke="#231f20" stroke-width="0.8"/>
<text x="89.2" y="374.2" font-size="7.4" text-anchor="middle" fill="#231f20">4</text>
<line x1="116.5" y1="363.5" x2="116.5" y2="366.0" stroke="#231f20" stroke-width="0.8"/>
<text x="116.5" y="374.2" font-size="7.4" text-anchor="middle" fill="#231f20">6</text>
<rect x="48.6" y="286.6" width="6.5" height="5.5" fill="#dfb345"/>
<rect x="48.6" y="298.2" width="6.5" height="5.5" fill="#5c482d"/>
<text x="58.7" y="292.1" font-size="8.2" textLength="23.7" lengthAdjust="spacingAndGlyphs" fill="#231f20">Control</text>
<text x="58.7" y="303.7" font-size="8.2" textLength="15" lengthAdjust="spacingAndGlyphs" fill="#231f20">CGD</text>
<text x="109.4" y="300.9" font-size="8.2" text-anchor="middle" textLength="30.8" lengthAdjust="spacingAndGlyphs" fill="#231f20">Thrombin</text>
<text x="8.4" y="279.0" font-size="11" textLength="6.8" lengthAdjust="spacingAndGlyphs" fill="#231f20">C</text>
<text x="19.2" y="327.9" font-size="10" text-anchor="middle" textLength="96.9" lengthAdjust="spacingAndGlyphs" transform="rotate(-90 19.2 327.9)" fill="#231f20">Light transmittance (%)</text>
<text x="89" y="387.3" font-size="9.2" text-anchor="middle" textLength="43.6" lengthAdjust="spacingAndGlyphs" fill="#231f20">Time (min)</text>
<rect x="176.4" y="323.654" width="12.1" height="39.846000000000004" fill="#dfb345"/>
<line x1="182.1" y1="322.28000000000003" x2="182.1" y2="323.654" stroke="#231f20" stroke-width="1.0"/>
<line x1="179.2" y1="322.28000000000003" x2="185.0" y2="322.28000000000003" stroke="#231f20" stroke-width="1.2"/>
<rect x="187.8" y="327.089" width="11.4" height="36.411" fill="#5c482d"/>
<line x1="193.5" y1="324.341" x2="193.5" y2="327.089" stroke="#231f20" stroke-width="1.0"/>
<line x1="190.6" y1="324.341" x2="196.4" y2="324.341" stroke="#231f20" stroke-width="1.2"/>
<rect x="203.2" y="314.723" width="12.1" height="48.77699999999999" fill="#dfb345"/>
<line x1="208.89999999999998" y1="314.036" x2="208.89999999999998" y2="314.723" stroke="#231f20" stroke-width="1.0"/>
<line x1="205.99999999999997" y1="314.036" x2="211.79999999999998" y2="314.036" stroke="#231f20" stroke-width="1.2"/>
<rect x="214.6" y="320.906" width="11.4" height="42.593999999999994" fill="#5c482d"/>
<line x1="220.29999999999998" y1="318.158" x2="220.29999999999998" y2="320.906" stroke="#231f20" stroke-width="1.0"/>
<line x1="217.39999999999998" y1="318.158" x2="223.2" y2="318.158" stroke="#231f20" stroke-width="1.2"/>
<rect x="230.29999999999998" y="314.036" width="12.1" height="49.464" fill="#dfb345"/>
<line x1="235.99999999999997" y1="312.66200000000003" x2="235.99999999999997" y2="314.036" stroke="#231f20" stroke-width="1.0"/>
<line x1="233.09999999999997" y1="312.66200000000003" x2="238.89999999999998" y2="312.66200000000003" stroke="#231f20" stroke-width="1.2"/>
<rect x="241.7" y="320.906" width="11.4" height="42.593999999999994" fill="#5c482d"/>
<line x1="247.39999999999998" y1="317.471" x2="247.39999999999998" y2="320.906" stroke="#231f20" stroke-width="1.0"/>
<line x1="244.49999999999997" y1="317.471" x2="250.29999999999998" y2="317.471" stroke="#231f20" stroke-width="1.2"/>
<line x1="171.2" y1="292.2" x2="171.2" y2="364.0" stroke="#231f20" stroke-width="1.1"/>
<line x1="170.7" y1="363.5" x2="257.5" y2="363.5" stroke="#231f20" stroke-width="1.0"/>
<line x1="168.2" y1="363.5" x2="171.2" y2="363.5" stroke="#231f20" stroke-width="0.8"/>
<text x="164.6" y="366.2" font-size="7.7" text-anchor="end" fill="#231f20">0</text>
<line x1="168.2" y1="349.76" x2="171.2" y2="349.76" stroke="#231f20" stroke-width="0.8"/>
<text x="164.6" y="352.46" font-size="7.7" text-anchor="end" fill="#231f20">20</text>
<line x1="168.2" y1="336.02" x2="171.2" y2="336.02" stroke="#231f20" stroke-width="0.8"/>
<text x="164.6" y="338.71999999999997" font-size="7.7" text-anchor="end" fill="#231f20">40</text>
<line x1="168.2" y1="322.28000000000003" x2="171.2" y2="322.28000000000003" stroke="#231f20" stroke-width="0.8"/>
<text x="164.6" y="324.98" font-size="7.7" text-anchor="end" fill="#231f20">60</text>
<line x1="168.2" y1="308.54" x2="171.2" y2="308.54" stroke="#231f20" stroke-width="0.8"/>
<text x="164.6" y="311.24" font-size="7.7" text-anchor="end" fill="#231f20">80</text>
<line x1="168.2" y1="294.8" x2="171.2" y2="294.8" stroke="#231f20" stroke-width="0.8"/>
<text x="164.6" y="297.5" font-size="7.7" text-anchor="end" fill="#231f20">100</text>
<line x1="187.8" y1="363.5" x2="187.8" y2="366.0" stroke="#231f20" stroke-width="0.8"/>
<text x="187.8" y="374.2" font-size="7.4" text-anchor="middle" fill="#231f20">2</text>
<line x1="214.6" y1="363.5" x2="214.6" y2="366.0" stroke="#231f20" stroke-width="0.8"/>
<text x="214.6" y="374.2" font-size="7.4" text-anchor="middle" fill="#231f20">4</text>
<line x1="241.7" y1="363.5" x2="241.7" y2="366.0" stroke="#231f20" stroke-width="0.8"/>
<text x="241.7" y="374.2" font-size="7.4" text-anchor="middle" fill="#231f20">6</text>
<rect x="174.6" y="286.6" width="6.5" height="5.5" fill="#dfb345"/>
<rect x="174.6" y="298.2" width="6.5" height="5.5" fill="#5c482d"/>
<text x="184.7" y="292.1" font-size="8.2" textLength="23.7" lengthAdjust="spacingAndGlyphs" fill="#231f20">Control</text>
<text x="184.7" y="303.7" font-size="8.2" textLength="15" lengthAdjust="spacingAndGlyphs" fill="#231f20">CGD</text>
<text x="235.0" y="302.6" font-size="8.2" text-anchor="middle" textLength="28.6" lengthAdjust="spacingAndGlyphs" fill="#231f20">Collagen</text>
<text x="137.6" y="279.0" font-size="11" textLength="7.2" lengthAdjust="spacingAndGlyphs" fill="#231f20">D</text>
<text x="144.6" y="327.9" font-size="10" text-anchor="middle" textLength="96.9" lengthAdjust="spacingAndGlyphs" transform="rotate(-90 144.6 327.9)" fill="#231f20">Light transmittance (%)</text>
<text x="215" y="387.3" font-size="9.2" text-anchor="middle" textLength="43.6" lengthAdjust="spacingAndGlyphs" fill="#231f20">Time (min)</text>
<rect x="299.8" y="360.065" width="9.0" height="3.4350000000000023" fill="#dfb345"/>
<line x1="303.95" y1="359.378" x2="303.95" y2="360.065" stroke="#231f20" stroke-width="1.0"/>
<line x1="301.05" y1="359.378" x2="306.84999999999997" y2="359.378" stroke="#231f20" stroke-width="1.2"/>
<rect x="308.1" y="358.004" width="8.3" height="5.495999999999981" fill="#5c482d"/>
<line x1="312.25" y1="356.63" x2="312.25" y2="358.004" stroke="#231f20" stroke-width="1.0"/>
<line x1="309.35" y1="356.63" x2="315.15" y2="356.63" stroke="#231f20" stroke-width="1.2"/>
<rect x="322.5" y="345.63800000000003" width="9.0" height="17.861999999999966" fill="#dfb345"/>
<line x1="326.65" y1="341.516" x2="326.65" y2="345.63800000000003" stroke="#231f20" stroke-width="1.0"/>
<line x1="323.75" y1="341.516" x2="329.54999999999995" y2="341.516" stroke="#231f20" stroke-width="1.2"/>
<rect x="330.8" y="337.394" width="8.3" height="26.105999999999995" fill="#5c482d"/>
<line x1="334.95" y1="334.646" x2="334.95" y2="337.394" stroke="#231f20" stroke-width="1.0"/>
<line x1="332.05" y1="334.646" x2="337.84999999999997" y2="334.646" stroke="#231f20" stroke-width="1.2"/>
<rect x="345.0" y="322.967" width="9.0" height="40.533000000000015" fill="#dfb345"/>
<line x1="349.15" y1="319.18850000000003" x2="349.15" y2="322.967" stroke="#231f20" stroke-width="1.0"/>
<line x1="346.25" y1="319.18850000000003" x2="352.04999999999995" y2="319.18850000000003" stroke="#231f20" stroke-width="1.2"/>
<rect x="353.3" y="326.402" width="8.3" height="37.09800000000001" fill="#5c482d"/>
<line x1="357.45" y1="325.9211" x2="357.45" y2="326.402" stroke="#231f20" stroke-width="1.0"/>
<line x1="354.55" y1="325.9211" x2="360.34999999999997" y2="325.9211" stroke="#231f20" stroke-width="1.2"/>
<rect x="367.9" y="307.5095" width="9.0" height="55.9905" fill="#dfb345"/>
<line x1="372.04999999999995" y1="304.7615" x2="372.04999999999995" y2="307.5095" stroke="#231f20" stroke-width="1.0"/>
<line x1="369.15" y1="304.7615" x2="374.94999999999993" y2="304.7615" stroke="#231f20" stroke-width="1.2"/>
<rect x="376.2" y="305.105" width="8.3" height="58.39499999999998" fill="#5c482d"/>
<line x1="380.34999999999997" y1="300.296" x2="380.34999999999997" y2="305.105" stroke="#231f20" stroke-width="1.0"/>
<line x1="377.45" y1="300.296" x2="383.24999999999994" y2="300.296" stroke="#231f20" stroke-width="1.2"/>
<line x1="297.3" y1="292.2" x2="297.3" y2="364.0" stroke="#231f20" stroke-width="1.1"/>
<line x1="296.8" y1="363.5" x2="389" y2="363.5" stroke="#231f20" stroke-width="1.0"/>
<line x1="294.3" y1="363.5" x2="297.3" y2="363.5" stroke="#231f20" stroke-width="0.8"/>
<text x="290.7" y="366.2" font-size="7.7" text-anchor="end" fill="#231f20">0</text>
<line x1="294.3" y1="349.76" x2="297.3" y2="349.76" stroke="#231f20" stroke-width="0.8"/>
<text x="290.7" y="352.46" font-size="7.7" text-anchor="end" fill="#231f20">20</text>
<line x1="294.3" y1="336.02" x2="297.3" y2="336.02" stroke="#231f20" stroke-width="0.8"/>
<text x="290.7" y="338.71999999999997" font-size="7.7" text-anchor="end" fill="#231f20">40</text>
<line x1="294.3" y1="322.28000000000003" x2="297.3" y2="322.28000000000003" stroke="#231f20" stroke-width="0.8"/>
<text x="290.7" y="324.98" font-size="7.7" text-anchor="end" fill="#231f20">60</text>
<line x1="294.3" y1="308.54" x2="297.3" y2="308.54" stroke="#231f20" stroke-width="0.8"/>
<text x="290.7" y="311.24" font-size="7.7" text-anchor="end" fill="#231f20">80</text>
<line x1="294.3" y1="294.8" x2="297.3" y2="294.8" stroke="#231f20" stroke-width="0.8"/>
<text x="290.7" y="297.5" font-size="7.7" text-anchor="end" fill="#231f20">100</text>
<line x1="308.1" y1="363.5" x2="308.1" y2="366.0" stroke="#231f20" stroke-width="0.8"/>
<text x="308.1" y="374.2" font-size="7.4" text-anchor="middle" fill="#231f20">0.10</text>
<line x1="330.8" y1="363.5" x2="330.8" y2="366.0" stroke="#231f20" stroke-width="0.8"/>
<text x="330.8" y="374.2" font-size="7.4" text-anchor="middle" fill="#231f20">0.25</text>
<line x1="353.3" y1="363.5" x2="353.3" y2="366.0" stroke="#231f20" stroke-width="0.8"/>
<text x="353.3" y="374.2" font-size="7.4" text-anchor="middle" fill="#231f20">0.50</text>
<line x1="376.2" y1="363.5" x2="376.2" y2="366.0" stroke="#231f20" stroke-width="0.8"/>
<text x="376.2" y="374.2" font-size="7.4" text-anchor="middle" fill="#231f20">1.00</text>
<rect x="300.2" y="285.8" width="6.5" height="5.5" fill="#dfb345"/>
<rect x="300.2" y="297.6" width="6.5" height="5.5" fill="#5c482d"/>
<text x="310.2" y="291.3" font-size="8.2" textLength="24.3" lengthAdjust="spacingAndGlyphs" fill="#231f20">Control</text>
<text x="310.2" y="303.1" font-size="8.2" textLength="15" lengthAdjust="spacingAndGlyphs" fill="#231f20">CGD</text>
<text x="263.3" y="279.0" font-size="11" textLength="7.6" lengthAdjust="spacingAndGlyphs" fill="#231f20">G</text>
<text x="270.7" y="327.9" font-size="10" text-anchor="middle" textLength="96.9" lengthAdjust="spacingAndGlyphs" transform="rotate(-90 270.7 327.9)" fill="#231f20">Light transmittance (%)</text>
<text x="342" y="387.3" font-size="9.2" text-anchor="middle" textLength="73" lengthAdjust="spacingAndGlyphs" fill="#231f20">Collagen (µg/mL)</text>
<rect x="429.9" y="324.341" width="12.299999999999999" height="39.15899999999999" fill="#dfb345"/>
<line x1="435.7" y1="320.219" x2="435.7" y2="324.341" stroke="#231f20" stroke-width="1.0"/>
<line x1="432.8" y1="320.219" x2="438.59999999999997" y2="320.219" stroke="#231f20" stroke-width="1.2"/>
<rect x="441.5" y="328.463" width="11.6" height="35.03699999999998" fill="#5c482d"/>
<line x1="447.3" y1="325.028" x2="447.3" y2="328.463" stroke="#231f20" stroke-width="1.0"/>
<line x1="444.40000000000003" y1="325.028" x2="450.2" y2="325.028" stroke="#231f20" stroke-width="1.2"/>
<rect x="457.2" y="307.853" width="12.299999999999999" height="55.64699999999999" fill="#dfb345"/>
<line x1="463.0" y1="305.4485" x2="463.0" y2="307.853" stroke="#231f20" stroke-width="1.0"/>
<line x1="460.1" y1="305.4485" x2="465.9" y2="305.4485" stroke="#231f20" stroke-width="1.2"/>
<rect x="468.8" y="308.54" width="11.6" height="54.95999999999998" fill="#5c482d"/>
<line x1="474.6" y1="303.731" x2="474.6" y2="308.54" stroke="#231f20" stroke-width="1.0"/>
<line x1="471.70000000000005" y1="303.731" x2="477.5" y2="303.731" stroke="#231f20" stroke-width="1.2"/>
<rect x="484.2" y="306.47900000000004" width="12.299999999999999" height="57.02099999999996" fill="#dfb345"/>
<line x1="490.0" y1="303.731" x2="490.0" y2="306.47900000000004" stroke="#231f20" stroke-width="1.0"/>
<line x1="487.1" y1="303.731" x2="492.9" y2="303.731" stroke="#231f20" stroke-width="1.2"/>
<rect x="495.8" y="305.105" width="11.6" height="58.39499999999998" fill="#5c482d"/>
<line x1="501.6" y1="300.983" x2="501.6" y2="305.105" stroke="#231f20" stroke-width="1.0"/>
<line x1="498.70000000000005" y1="300.983" x2="504.5" y2="300.983" stroke="#231f20" stroke-width="1.2"/>
<line x1="425.2" y1="292.2" x2="425.2" y2="364.0" stroke="#231f20" stroke-width="1.1"/>
<line x1="424.7" y1="363.5" x2="512.5" y2="363.5" stroke="#231f20" stroke-width="1.0"/>
<line x1="422.2" y1="363.5" x2="425.2" y2="363.5" stroke="#231f20" stroke-width="0.8"/>
<text x="418.59999999999997" y="366.2" font-size="7.7" text-anchor="end" fill="#231f20">0</text>
<line x1="422.2" y1="349.76" x2="425.2" y2="349.76" stroke="#231f20" stroke-width="0.8"/>
<text x="418.59999999999997" y="352.46" font-size="7.7" text-anchor="end" fill="#231f20">20</text>
<line x1="422.2" y1="336.02" x2="425.2" y2="336.02" stroke="#231f20" stroke-width="0.8"/>
<text x="418.59999999999997" y="338.71999999999997" font-size="7.7" text-anchor="end" fill="#231f20">40</text>
<line x1="422.2" y1="322.28000000000003" x2="425.2" y2="322.28000000000003" stroke="#231f20" stroke-width="0.8"/>
<text x="418.59999999999997" y="324.98" font-size="7.7" text-anchor="end" fill="#231f20">60</text>
<line x1="422.2" y1="308.54" x2="425.2" y2="308.54" stroke="#231f20" stroke-width="0.8"/>
<text x="418.59999999999997" y="311.24" font-size="7.7" text-anchor="end" fill="#231f20">80</text>
<line x1="422.2" y1="294.8" x2="425.2" y2="294.8" stroke="#231f20" stroke-width="0.8"/>
<text x="418.59999999999997" y="297.5" font-size="7.7" text-anchor="end" fill="#231f20">100</text>
<line x1="441.5" y1="363.5" x2="441.5" y2="366.0" stroke="#231f20" stroke-width="0.8"/>
<text x="441.5" y="374.2" font-size="7.4" text-anchor="middle" fill="#231f20">2</text>
<line x1="468.8" y1="363.5" x2="468.8" y2="366.0" stroke="#231f20" stroke-width="0.8"/>
<text x="468.8" y="374.2" font-size="7.4" text-anchor="middle" fill="#231f20">4</text>
<line x1="495.8" y1="363.5" x2="495.8" y2="366.0" stroke="#231f20" stroke-width="0.8"/>
<text x="495.8" y="374.2" font-size="7.4" text-anchor="middle" fill="#231f20">6</text>
<rect x="428.2" y="285.8" width="6.5" height="5.5" fill="#dfb345"/>
<rect x="428.2" y="297.6" width="6.5" height="5.5" fill="#5c482d"/>
<text x="438.0" y="291.3" font-size="8.2" textLength="24.5" lengthAdjust="spacingAndGlyphs" fill="#231f20">Control</text>
<text x="438.0" y="303.1" font-size="8.2" textLength="15" lengthAdjust="spacingAndGlyphs" fill="#231f20">CGD</text>
<text x="487.6" y="294.5" font-size="8.2" text-anchor="middle" textLength="28.8" lengthAdjust="spacingAndGlyphs" fill="#231f20">Collagen</text>
<text x="391.3" y="279.0" font-size="11" textLength="7.2" lengthAdjust="spacingAndGlyphs" fill="#231f20">H</text>
<text x="398.7" y="327.9" font-size="10" text-anchor="middle" textLength="96.9" lengthAdjust="spacingAndGlyphs" transform="rotate(-90 398.7 327.9)" fill="#231f20">Light transmittance (%)</text>
<text x="468.8" y="387.3" font-size="9.2" text-anchor="middle" textLength="43.6" lengthAdjust="spacingAndGlyphs" fill="#231f20">Time (min)</text>
<line x1="260.7" y1="419.5" x2="260.7" y2="484.6" stroke="#231f20" stroke-width="1.0"/>
<line x1="260.2" y1="484.1" x2="344.5" y2="484.1" stroke="#231f20" stroke-width="1.0"/>
<line x1="257.7" y1="484.1" x2="260.7" y2="484.1" stroke="#231f20" stroke-width="0.8"/>
<text x="254.7" y="486.8" font-size="7.8" text-anchor="end" fill="#231f20">0</text>
<line x1="257.7" y1="468.20000000000005" x2="260.7" y2="468.20000000000005" stroke="#231f20" stroke-width="0.8"/>
<text x="254.7" y="470.90000000000003" font-size="7.8" text-anchor="end" fill="#231f20">10</text>
<line x1="257.7" y1="452.3" x2="260.7" y2="452.3" stroke="#231f20" stroke-width="0.8"/>
<text x="254.7" y="455.0" font-size="7.8" text-anchor="end" fill="#231f20">20</text>
<line x1="257.7" y1="436.40000000000003" x2="260.7" y2="436.40000000000003" stroke="#231f20" stroke-width="0.8"/>
<text x="254.7" y="439.1" font-size="7.8" text-anchor="end" fill="#231f20">30</text>
<line x1="257.7" y1="420.5" x2="260.7" y2="420.5" stroke="#231f20" stroke-width="0.8"/>
<text x="254.7" y="423.2" font-size="7.8" text-anchor="end" fill="#231f20">40</text>
<line x1="260.7" y1="484.1" x2="260.7" y2="486.90000000000003" stroke="#231f20" stroke-width="0.8"/>
<text x="260.7" y="498.1" font-size="8.4" text-anchor="middle" fill="#231f20">0</text>
<line x1="276.62" y1="484.1" x2="276.62" y2="486.90000000000003" stroke="#231f20" stroke-width="0.8"/>
<text x="276.62" y="498.1" font-size="8.4" text-anchor="middle" fill="#231f20">1</text>
<line x1="292.53999999999996" y1="484.1" x2="292.53999999999996" y2="486.90000000000003" stroke="#231f20" stroke-width="0.8"/>
<text x="292.53999999999996" y="498.1" font-size="8.4" text-anchor="middle" fill="#231f20">2</text>
<line x1="308.46" y1="484.1" x2="308.46" y2="486.90000000000003" stroke="#231f20" stroke-width="0.8"/>
<text x="308.46" y="498.1" font-size="8.4" text-anchor="middle" fill="#231f20">3</text>
<line x1="324.38" y1="484.1" x2="324.38" y2="486.90000000000003" stroke="#231f20" stroke-width="0.8"/>
<text x="324.38" y="498.1" font-size="8.4" text-anchor="middle" fill="#231f20">4</text>
<line x1="340.29999999999995" y1="484.1" x2="340.29999999999995" y2="486.90000000000003" stroke="#231f20" stroke-width="0.8"/>
<text x="340.29999999999995" y="498.1" font-size="8.4" text-anchor="middle" fill="#231f20">5</text>
<text x="302.6" y="510.8" font-size="9.4" text-anchor="middle" textLength="43.7" lengthAdjust="spacingAndGlyphs" fill="#231f20">Time (min)</text>
<line x1="268.65999999999997" y1="473.288" x2="268.65999999999997" y2="474.56" stroke="#231f20" stroke-width="0.7"/>
<line x1="266.35999999999996" y1="473.288" x2="270.96" y2="473.288" stroke="#231f20" stroke-width="0.8"/>
<line x1="276.62" y1="464.06600000000003" x2="276.62" y2="466.451" stroke="#231f20" stroke-width="0.7"/>
<line x1="274.32" y1="464.06600000000003" x2="278.92" y2="464.06600000000003" stroke="#231f20" stroke-width="0.8"/>
<line x1="284.58" y1="458.342" x2="284.58" y2="461.204" stroke="#231f20" stroke-width="0.7"/>
<line x1="282.28" y1="458.342" x2="286.88" y2="458.342" stroke="#231f20" stroke-width="0.8"/>
<line x1="292.53999999999996" y1="455.321" x2="292.53999999999996" y2="459.137" stroke="#231f20" stroke-width="0.7"/>
<line x1="290.23999999999995" y1="455.321" x2="294.84" y2="455.321" stroke="#231f20" stroke-width="0.8"/>
<line x1="300.5" y1="448.643" x2="300.5" y2="452.618" stroke="#231f20" stroke-width="0.7"/>
<line x1="298.2" y1="448.643" x2="302.8" y2="448.643" stroke="#231f20" stroke-width="0.8"/>
<line x1="308.46" y1="446.41700000000003" x2="308.46" y2="450.55100000000004" stroke="#231f20" stroke-width="0.7"/>
<line x1="306.15999999999997" y1="446.41700000000003" x2="310.76" y2="446.41700000000003" stroke="#231f20" stroke-width="0.8"/>
<line x1="316.41999999999996" y1="444.03200000000004" x2="316.41999999999996" y2="448.32500000000005" stroke="#231f20" stroke-width="0.7"/>
<line x1="314.11999999999995" y1="444.03200000000004" x2="318.71999999999997" y2="444.03200000000004" stroke="#231f20" stroke-width="0.8"/>
<line x1="324.38" y1="441.17" x2="324.38" y2="445.622" stroke="#231f20" stroke-width="0.7"/>
<line x1="322.08" y1="441.17" x2="326.68" y2="441.17" stroke="#231f20" stroke-width="0.8"/>
<line x1="332.34" y1="439.26200000000006" x2="332.34" y2="443.87300000000005" stroke="#231f20" stroke-width="0.7"/>
<line x1="330.03999999999996" y1="439.26200000000006" x2="334.64" y2="439.26200000000006" stroke="#231f20" stroke-width="0.8"/>
<line x1="340.29999999999995" y1="437.51300000000003" x2="340.29999999999995" y2="442.124" stroke="#231f20" stroke-width="0.7"/>
<line x1="337.99999999999994" y1="437.51300000000003" x2="342.59999999999997" y2="437.51300000000003" stroke="#231f20" stroke-width="0.8"/>
<line x1="268.65999999999997" y1="474.242" x2="268.65999999999997" y2="475.514" stroke="#231f20" stroke-width="0.7"/>
<line x1="266.35999999999996" y1="475.514" x2="270.96" y2="475.514" stroke="#231f20" stroke-width="0.8"/>
<line x1="276.62" y1="468.677" x2="276.62" y2="471.062" stroke="#231f20" stroke-width="0.7"/>
<line x1="274.32" y1="471.062" x2="278.92" y2="471.062" stroke="#231f20" stroke-width="0.8"/>
<line x1="284.58" y1="464.702" x2="284.58" y2="467.564" stroke="#231f20" stroke-width="0.7"/>
<line x1="282.28" y1="467.564" x2="286.88" y2="467.564" stroke="#231f20" stroke-width="0.8"/>
<line x1="292.53999999999996" y1="459.932" x2="292.53999999999996" y2="463.748" stroke="#231f20" stroke-width="0.7"/>
<line x1="290.23999999999995" y1="463.748" x2="294.84" y2="463.748" stroke="#231f20" stroke-width="0.8"/>
<line x1="300.5" y1="454.367" x2="300.5" y2="459.45500000000004" stroke="#231f20" stroke-width="0.7"/>
<line x1="298.2" y1="459.45500000000004" x2="302.8" y2="459.45500000000004" stroke="#231f20" stroke-width="0.8"/>
<line x1="308.46" y1="451.66400000000004" x2="308.46" y2="456.91100000000006" stroke="#231f20" stroke-width="0.7"/>
<line x1="306.15999999999997" y1="456.91100000000006" x2="310.76" y2="456.91100000000006" stroke="#231f20" stroke-width="0.8"/>
<line x1="316.41999999999996" y1="449.59700000000004" x2="316.41999999999996" y2="455.16200000000003" stroke="#231f20" stroke-width="0.7"/>
<line x1="314.11999999999995" y1="455.16200000000003" x2="318.71999999999997" y2="455.16200000000003" stroke="#231f20" stroke-width="0.8"/>
<line x1="324.38" y1="447.37100000000004" x2="324.38" y2="453.095" stroke="#231f20" stroke-width="0.7"/>
<line x1="322.08" y1="453.095" x2="326.68" y2="453.095" stroke="#231f20" stroke-width="0.8"/>
<line x1="332.34" y1="445.622" x2="332.34" y2="451.505" stroke="#231f20" stroke-width="0.7"/>
<line x1="330.03999999999996" y1="451.505" x2="334.64" y2="451.505" stroke="#231f20" stroke-width="0.8"/>
<line x1="340.29999999999995" y1="444.509" x2="340.29999999999995" y2="450.551" stroke="#231f20" stroke-width="0.7"/>
<line x1="337.99999999999994" y1="450.551" x2="342.59999999999997" y2="450.551" stroke="#231f20" stroke-width="0.8"/>
<path d="M260.70,484.10 L268.66,474.56 L276.62,466.45 L284.58,461.20 L292.54,459.14 L300.50,452.62 L308.46,450.55 L316.42,448.33 L324.38,445.62 L332.34,443.87 L340.30,442.12" fill="none" stroke="#4a3a25" stroke-width="0.9" stroke-linejoin="round"/>
<path d="M260.70,484.10 L268.66,474.24 L276.62,468.68 L284.58,464.70 L292.54,459.93 L300.50,454.37 L308.46,451.66 L316.42,449.60 L324.38,447.37 L332.34,445.62 L340.30,444.51" fill="none" stroke="#dfb345" stroke-width="1.3" stroke-linejoin="round"/>
<circle cx="260.70" cy="484.10" r="2.2" fill="#fff" stroke="#4a3a25" stroke-width="0.8"/>
<circle cx="268.66" cy="474.56" r="2.2" fill="#fff" stroke="#4a3a25" stroke-width="0.8"/>
<circle cx="276.62" cy="466.45" r="2.2" fill="#fff" stroke="#4a3a25" stroke-width="0.8"/>
<circle cx="284.58" cy="461.20" r="2.2" fill="#fff" stroke="#4a3a25" stroke-width="0.8"/>
<circle cx="292.54" cy="459.14" r="2.2" fill="#fff" stroke="#4a3a25" stroke-width="0.8"/>
<circle cx="300.50" cy="452.62" r="2.2" fill="#fff" stroke="#4a3a25" stroke-width="0.8"/>
<circle cx="308.46" cy="450.55" r="2.2" fill="#fff" stroke="#4a3a25" stroke-width="0.8"/>
<circle cx="316.42" cy="448.33" r="2.2" fill="#fff" stroke="#4a3a25" stroke-width="0.8"/>
<circle cx="324.38" cy="445.62" r="2.2" fill="#fff" stroke="#4a3a25" stroke-width="0.8"/>
<circle cx="332.34" cy="443.87" r="2.2" fill="#fff" stroke="#4a3a25" stroke-width="0.8"/>
<circle cx="340.30" cy="442.12" r="2.2" fill="#fff" stroke="#4a3a25" stroke-width="0.8"/>
<circle cx="260.70" cy="484.10" r="2.6" fill="#dfb345"/>
<circle cx="268.66" cy="474.24" r="2.6" fill="#dfb345"/>
<circle cx="276.62" cy="468.68" r="2.6" fill="#dfb345"/>
<circle cx="284.58" cy="464.70" r="2.6" fill="#dfb345"/>
<circle cx="292.54" cy="459.93" r="2.6" fill="#dfb345"/>
<circle cx="300.50" cy="454.37" r="2.6" fill="#dfb345"/>
<circle cx="308.46" cy="451.66" r="2.6" fill="#dfb345"/>
<circle cx="316.42" cy="449.60" r="2.6" fill="#dfb345"/>
<circle cx="324.38" cy="447.37" r="2.6" fill="#dfb345"/>
<circle cx="332.34" cy="445.62" r="2.6" fill="#dfb345"/>
<circle cx="340.30" cy="444.51" r="2.6" fill="#dfb345"/>
<line x1="264.5" y1="414" x2="273.2" y2="414" stroke="#dfb345" stroke-width="1.3"/>
<circle cx="268.8" cy="414" r="2.6" fill="#dfb345"/>
<line x1="264.5" y1="426.3" x2="273.2" y2="426.3" stroke="#4a3a25" stroke-width="0.9"/>
<circle cx="268.8" cy="426.3" r="2.2" fill="#fff" stroke="#4a3a25" stroke-width="0.8"/>
<text x="276.1" y="417.1" font-size="7.8" textLength="24.2" lengthAdjust="spacingAndGlyphs" fill="#231f20">Control</text>
<text x="276.1" y="429.3" font-size="7.8" textLength="15.6" lengthAdjust="spacingAndGlyphs" fill="#231f20">CGD</text>
<text x="227.3" y="406.0" font-size="11" textLength="4.4" lengthAdjust="spacingAndGlyphs" fill="#231f20">J</text>
<text x="239.2" y="450.2" font-size="9.6" text-anchor="middle" textLength="101.5" lengthAdjust="spacingAndGlyphs" transform="rotate(-90 239.2 450.2)" fill="#231f20">Thrombi area (x10<tspan font-size="6.6" dy="-4">4</tspan><tspan dy="4"> µm</tspan><tspan font-size="6.6" dy="-4">2</tspan><tspan dy="4">)</tspan></text>
<line x1="404.5" y1="427" x2="404.5" y2="484.3" stroke="#231f20" stroke-width="1.0"/>
<line x1="404.0" y1="483.8" x2="441.6" y2="483.8" stroke="#231f20" stroke-width="1.0"/>
<line x1="401.5" y1="483.8" x2="404.5" y2="483.8" stroke="#231f20" stroke-width="0.8"/>
<text x="398.5" y="486.5" font-size="7.8" text-anchor="end" fill="#231f20">0</text>
<line x1="401.5" y1="469.90000000000003" x2="404.5" y2="469.90000000000003" stroke="#231f20" stroke-width="0.8"/>
<text x="398.5" y="472.6" font-size="7.8" text-anchor="end" fill="#231f20">10</text>
<line x1="401.5" y1="456.0" x2="404.5" y2="456.0" stroke="#231f20" stroke-width="0.8"/>
<text x="398.5" y="458.7" font-size="7.8" text-anchor="end" fill="#231f20">20</text>
<line x1="401.5" y1="442.1" x2="404.5" y2="442.1" stroke="#231f20" stroke-width="0.8"/>
<text x="398.5" y="444.8" font-size="7.8" text-anchor="end" fill="#231f20">30</text>
<line x1="401.5" y1="428.20000000000005" x2="404.5" y2="428.20000000000005" stroke="#231f20" stroke-width="0.8"/>
<text x="398.5" y="430.90000000000003" font-size="7.8" text-anchor="end" fill="#231f20">40</text>
<rect x="409.9" y="449.467" width="11.4" height="34.33300000000003" fill="#dfb345"/>
<line x1="415.59999999999997" y1="447.243" x2="415.59999999999997" y2="449.467" stroke="#231f20" stroke-width="0.9"/>
<line x1="412.79999999999995" y1="447.243" x2="418.4" y2="447.243" stroke="#231f20" stroke-width="0.9"/>
<rect x="424.8" y="450.857" width="11.4" height="32.942999999999984" fill="#5c482d"/>
<line x1="430.5" y1="449.05" x2="430.5" y2="450.857" stroke="#231f20" stroke-width="0.9"/>
<line x1="427.7" y1="449.05" x2="433.3" y2="449.05" stroke="#231f20" stroke-width="0.9"/>
<rect x="407.4" y="420.0" width="6.5" height="5.5" fill="#dfb345"/>
<rect x="407.4" y="431.8" width="6.5" height="5.5" fill="#5c482d"/>
<text x="417.7" y="425.5" font-size="8.2" textLength="24.5" lengthAdjust="spacingAndGlyphs" fill="#231f20">Control</text>
<text x="417.7" y="437.3" font-size="8.2" textLength="15" lengthAdjust="spacingAndGlyphs" fill="#231f20">CGD</text>
<text x="362.3" y="405.2" font-size="11" textLength="7.5" lengthAdjust="spacingAndGlyphs" fill="#231f20">K</text>
<text x="372.2" y="453.6" font-size="9.6" text-anchor="middle" textLength="103.5" lengthAdjust="spacingAndGlyphs" transform="rotate(-90 372.2 453.6)" fill="#231f20">Thrombi area (x10<tspan font-size="6.6" dy="-4">4</tspan><tspan dy="4"> µm</tspan><tspan font-size="6.6" dy="-4">2</tspan><tspan dy="4">)</tspan></text>
<text x="382.5" y="455.8" font-size="9.6" text-anchor="middle" textLength="41.6" lengthAdjust="spacingAndGlyphs" transform="rotate(-90 382.5 455.8)" fill="#231f20">(at 5 min)</text>
<text x="13.2" y="406.2" font-size="11" textLength="2.5" lengthAdjust="spacingAndGlyphs" fill="#231f20">I</text>
<text x="37.2" y="434.0" font-size="8.4" text-anchor="end" textLength="25.8" lengthAdjust="spacingAndGlyphs" fill="#231f20">Control</text>
<text x="37.2" y="498.2" font-size="8.4" text-anchor="end" textLength="16.2" lengthAdjust="spacingAndGlyphs" fill="#231f20">CGD</text>
<rect x="40.5" y="411.2" width="170.5" height="102" fill="#262624"/>
<rect x="40.5" y="450.2" width="170.5" height="26" fill="#1b1b19"/>
<ellipse cx="62" cy="463" rx="16" ry="6" fill="#161614"/>
<ellipse cx="150" cy="462" rx="14" ry="7" fill="#161614"/>
<ellipse cx="190" cy="463" rx="12" ry="6" fill="#161614"/>
<g filter="url(#soft)">
<path d="M110.5,413.2h1.0v1h-1.0zM138.5,413.2h1.0v1h-1.0zM152.5,413.2h1.0v1h-1.0zM195.5,413.2h1.0v1h-1.0zM209.5,413.2h1.0v1h-1.0zM75.5,414.2h1.0v1h-1.0zM80.5,414.2h2.0v1h-2.0zM115.5,414.2h2.0v1h-2.0zM119.5,414.2h1.0v1h-1.0zM153.5,414.2h1.0v1h-1.0zM158.5,414.2h1.0v1h-1.0zM161.5,414.2h1.0v1h-1.0zM173.5,414.2h1.0v1h-1.0zM181.5,414.2h1.0v1h-1.0zM56.5,415.2h1.0v1h-1.0zM94.5,415.2h2.0v1h-2.0zM116.5,415.2h1.0v1h-1.0zM137.5,415.2h1.0v1h-1.0zM173.5,415.2h1.0v1h-1.0zM181.5,415.2h1.0v1h-1.0zM184.5,415.2h1.0v1h-1.0zM186.5,415.2h1.0v1h-1.0zM62.5,416.2h1.0v1h-1.0zM94.5,416.2h2.0v1h-2.0zM121.5,416.2h1.0v1h-1.0zM171.5,416.2h1.0v1h-1.0zM63.5,417.2h1.0v1h-1.0zM74.5,417.2h1.0v1h-1.0zM80.5,417.2h1.0v1h-1.0zM92.5,417.2h2.0v1h-2.0zM117.5,417.2h1.0v1h-1.0zM121.5,417.2h1.0v1h-1.0zM141.5,417.2h2.0v1h-2.0zM147.5,417.2h1.0v1h-1.0zM155.5,417.2h1.0v1h-1.0zM202.5,417.2h1.0v1h-1.0zM52.5,418.2h1.0v1h-1.0zM59.5,418.2h1.0v1h-1.0zM74.5,418.2h1.0v1h-1.0zM93.5,418.2h1.0v1h-1.0zM138.5,418.2h1.0v1h-1.0zM146.5,418.2h1.0v1h-1.0zM153.5,418.2h1.0v1h-1.0zM171.5,418.2h3.0v1h-3.0zM201.5,418.2h1.0v1h-1.0zM203.5,418.2h1.0v1h-1.0zM64.5,419.2h1.0v1h-1.0zM75.5,419.2h1.0v1h-1.0zM78.5,419.2h1.0v1h-1.0zM86.5,419.2h1.0v1h-1.0zM93.5,419.2h1.0v1h-1.0zM114.5,419.2h1.0v1h-1.0zM85.5,420.2h1.0v1h-1.0zM119.5,420.2h1.0v1h-1.0zM122.5,420.2h1.0v1h-1.0zM128.5,420.2h1.0v1h-1.0zM135.5,420.2h1.0v1h-1.0zM145.5,420.2h1.0v1h-1.0zM210.5,420.2h0.5v1h-0.5zM63.5,421.2h3.0v1h-3.0zM103.5,421.2h1.0v1h-1.0zM145.5,421.2h1.0v1h-1.0zM199.5,421.2h1.0v1h-1.0zM42.5,422.2h1.0v1h-1.0zM59.5,422.2h2.0v1h-2.0zM66.5,422.2h1.0v1h-1.0zM92.5,422.2h1.0v1h-1.0zM109.5,422.2h1.0v1h-1.0zM118.5,422.2h1.0v1h-1.0zM127.5,422.2h1.0v1h-1.0zM157.5,422.2h1.0v1h-1.0zM164.5,422.2h1.0v1h-1.0zM172.5,422.2h1.0v1h-1.0zM197.5,422.2h1.0v1h-1.0zM44.5,423.2h1.0v1h-1.0zM85.5,423.2h1.0v1h-1.0zM116.5,423.2h1.0v1h-1.0zM137.5,423.2h1.0v1h-1.0zM144.5,423.2h1.0v1h-1.0zM193.5,423.2h2.0v1h-2.0zM86.5,424.2h1.0v1h-1.0zM89.5,424.2h1.0v1h-1.0zM107.5,424.2h1.0v1h-1.0zM117.5,424.2h1.0v1h-1.0zM62.5,425.2h1.0v1h-1.0zM85.5,425.2h1.0v1h-1.0zM94.5,425.2h1.0v1h-1.0zM116.5,425.2h1.0v1h-1.0zM163.5,425.2h1.0v1h-1.0zM185.5,425.2h1.0v1h-1.0zM210.5,425.2h0.5v1h-0.5zM77.5,426.2h1.0v1h-1.0zM127.5,426.2h1.0v1h-1.0zM138.5,426.2h1.0v1h-1.0zM148.5,426.2h2.0v1h-2.0zM152.5,426.2h1.0v1h-1.0zM154.5,426.2h1.0v1h-1.0zM165.5,426.2h1.0v1h-1.0zM208.5,426.2h1.0v1h-1.0zM50.5,427.2h2.0v1h-2.0zM74.5,427.2h1.0v1h-1.0zM89.5,427.2h1.0v1h-1.0zM94.5,427.2h1.0v1h-1.0zM103.5,427.2h1.0v1h-1.0zM106.5,427.2h1.0v1h-1.0zM115.5,427.2h1.0v1h-1.0zM121.5,427.2h1.0v1h-1.0zM140.5,427.2h1.0v1h-1.0zM153.5,427.2h1.0v1h-1.0zM207.5,427.2h1.0v1h-1.0zM48.5,428.2h1.0v1h-1.0zM81.5,428.2h1.0v1h-1.0zM92.5,428.2h1.0v1h-1.0zM142.5,428.2h4.0v1h-4.0zM154.5,428.2h1.0v1h-1.0zM205.5,428.2h1.0v1h-1.0zM210.5,428.2h0.5v1h-0.5zM68.5,429.2h1.0v1h-1.0zM85.5,429.2h1.0v1h-1.0zM103.5,429.2h1.0v1h-1.0zM161.5,429.2h1.0v1h-1.0zM165.5,429.2h2.0v1h-2.0zM203.5,429.2h1.0v1h-1.0zM67.5,430.2h1.0v1h-1.0zM82.5,430.2h1.0v1h-1.0zM85.5,430.2h1.0v1h-1.0zM101.5,430.2h1.0v1h-1.0zM111.5,430.2h1.0v1h-1.0zM121.5,430.2h1.0v1h-1.0zM155.5,430.2h1.0v1h-1.0zM202.5,430.2h1.0v1h-1.0zM49.5,431.2h1.0v1h-1.0zM51.5,431.2h1.0v1h-1.0zM63.5,431.2h1.0v1h-1.0zM65.5,431.2h1.0v1h-1.0zM68.5,431.2h1.0v1h-1.0zM81.5,431.2h1.0v1h-1.0zM101.5,431.2h1.0v1h-1.0zM106.5,431.2h1.0v1h-1.0zM113.5,431.2h1.0v1h-1.0zM154.5,431.2h5.0v1h-5.0zM176.5,431.2h2.0v1h-2.0zM208.5,431.2h1.0v1h-1.0zM40.5,432.2h1.0v1h-1.0zM106.5,432.2h1.0v1h-1.0zM126.5,432.2h1.0v1h-1.0zM143.5,432.2h1.0v1h-1.0zM152.5,432.2h2.0v1h-2.0zM178.5,432.2h1.0v1h-1.0zM201.5,432.2h1.0v1h-1.0zM68.5,433.2h1.0v1h-1.0zM116.5,433.2h1.0v1h-1.0zM168.5,433.2h1.0v1h-1.0zM171.5,433.2h1.0v1h-1.0zM184.5,433.2h1.0v1h-1.0zM186.5,433.2h1.0v1h-1.0zM48.5,434.2h1.0v1h-1.0zM58.5,434.2h1.0v1h-1.0zM66.5,434.2h1.0v1h-1.0zM71.5,434.2h1.0v1h-1.0zM77.5,434.2h1.0v1h-1.0zM101.5,434.2h1.0v1h-1.0zM125.5,434.2h1.0v1h-1.0zM141.5,434.2h1.0v1h-1.0zM149.5,434.2h1.0v1h-1.0zM167.5,434.2h1.0v1h-1.0zM169.5,434.2h1.0v1h-1.0zM202.5,434.2h1.0v1h-1.0zM210.5,434.2h0.5v1h-0.5zM62.5,435.2h1.0v1h-1.0zM68.5,435.2h1.0v1h-1.0zM91.5,435.2h1.0v1h-1.0zM94.5,435.2h2.0v1h-2.0zM110.5,435.2h1.0v1h-1.0zM131.5,435.2h1.0v1h-1.0zM142.5,435.2h2.0v1h-2.0zM149.5,435.2h1.0v1h-1.0zM153.5,435.2h1.0v1h-1.0zM196.5,435.2h1.0v1h-1.0zM205.5,435.2h1.0v1h-1.0zM71.5,436.2h1.0v1h-1.0zM83.5,436.2h2.0v1h-2.0zM104.5,436.2h1.0v1h-1.0zM153.5,436.2h1.0v1h-1.0zM155.5,436.2h1.0v1h-1.0zM157.5,436.2h1.0v1h-1.0zM203.5,436.2h1.0v1h-1.0zM209.5,436.2h1.0v1h-1.0zM51.5,437.2h2.0v1h-2.0zM71.5,437.2h1.0v1h-1.0zM94.5,437.2h1.0v1h-1.0zM103.5,437.2h1.0v1h-1.0zM122.5,437.2h1.0v1h-1.0zM129.5,437.2h1.0v1h-1.0zM139.5,437.2h1.0v1h-1.0zM153.5,437.2h1.0v1h-1.0zM182.5,437.2h1.0v1h-1.0zM71.5,438.2h2.0v1h-2.0zM98.5,438.2h1.0v1h-1.0zM112.5,438.2h1.0v1h-1.0zM129.5,438.2h1.0v1h-1.0zM138.5,438.2h1.0v1h-1.0zM142.5,438.2h1.0v1h-1.0zM173.5,438.2h1.0v1h-1.0zM175.5,438.2h1.0v1h-1.0zM77.5,439.2h1.0v1h-1.0zM79.5,439.2h1.0v1h-1.0zM89.5,439.2h1.0v1h-1.0zM106.5,439.2h1.0v1h-1.0zM117.5,439.2h1.0v1h-1.0zM120.5,439.2h1.0v1h-1.0zM186.5,439.2h1.0v1h-1.0zM200.5,439.2h1.0v1h-1.0zM176.5,440.2h1.0v1h-1.0zM182.5,440.2h1.0v1h-1.0zM203.5,440.2h2.0v1h-2.0zM60.5,441.2h2.0v1h-2.0zM78.5,441.2h1.0v1h-1.0zM130.5,441.2h1.0v1h-1.0zM60.5,442.2h1.0v1h-1.0zM136.5,442.2h1.0v1h-1.0zM175.5,442.2h2.0v1h-2.0zM206.5,442.2h1.0v1h-1.0zM179.5,443.2h1.0v1h-1.0zM186.5,443.2h1.0v1h-1.0zM209.5,443.2h1.0v1h-1.0zM71.5,444.2h1.0v1h-1.0zM79.5,444.2h2.0v1h-2.0zM83.5,444.2h1.0v1h-1.0zM187.5,444.2h1.0v1h-1.0zM84.5,445.2h1.0v1h-1.0zM146.5,445.2h1.0v1h-1.0zM97.5,475.2h1.0v1h-1.0zM41.5,476.2h1.0v1h-1.0zM49.5,476.2h1.0v1h-1.0zM89.5,476.2h1.0v1h-1.0zM99.5,476.2h1.0v1h-1.0zM107.5,476.2h1.0v1h-1.0zM112.5,476.2h1.0v1h-1.0zM85.5,477.2h1.0v1h-1.0zM91.5,477.2h1.0v1h-1.0zM100.5,477.2h1.0v1h-1.0zM134.5,477.2h1.0v1h-1.0zM147.5,477.2h1.0v1h-1.0zM152.5,477.2h1.0v1h-1.0zM164.5,477.2h1.0v1h-1.0zM74.5,478.2h1.0v1h-1.0zM86.5,478.2h1.0v1h-1.0zM110.5,478.2h1.0v1h-1.0zM42.5,479.2h1.0v1h-1.0zM52.5,479.2h1.0v1h-1.0zM67.5,479.2h1.0v1h-1.0zM86.5,479.2h2.0v1h-2.0zM110.5,479.2h1.0v1h-1.0zM209.5,479.2h1.0v1h-1.0zM65.5,480.2h2.0v1h-2.0zM110.5,480.2h1.0v1h-1.0zM149.5,480.2h1.0v1h-1.0zM161.5,480.2h1.0v1h-1.0zM165.5,480.2h2.0v1h-2.0zM168.5,480.2h2.0v1h-2.0zM70.5,481.2h1.0v1h-1.0zM86.5,481.2h1.0v1h-1.0zM98.5,481.2h1.0v1h-1.0zM107.5,481.2h1.0v1h-1.0zM110.5,481.2h1.0v1h-1.0zM118.5,481.2h1.0v1h-1.0zM129.5,481.2h1.0v1h-1.0zM141.5,481.2h1.0v1h-1.0zM153.5,481.2h1.0v1h-1.0zM164.5,481.2h1.0v1h-1.0zM184.5,481.2h1.0v1h-1.0zM41.5,482.2h1.0v1h-1.0zM52.5,482.2h1.0v1h-1.0zM87.5,482.2h3.0v1h-3.0zM94.5,482.2h1.0v1h-1.0zM98.5,482.2h2.0v1h-2.0zM117.5,482.2h1.0v1h-1.0zM129.5,482.2h1.0v1h-1.0zM138.5,482.2h1.0v1h-1.0zM143.5,482.2h1.0v1h-1.0zM164.5,482.2h1.0v1h-1.0zM166.5,482.2h1.0v1h-1.0zM169.5,482.2h1.0v1h-1.0zM171.5,482.2h1.0v1h-1.0zM187.5,482.2h1.0v1h-1.0zM198.5,482.2h1.0v1h-1.0zM51.5,483.2h1.0v1h-1.0zM71.5,483.2h1.0v1h-1.0zM94.5,483.2h1.0v1h-1.0zM114.5,483.2h1.0v1h-1.0zM122.5,483.2h1.0v1h-1.0zM134.5,483.2h1.0v1h-1.0zM142.5,483.2h1.0v1h-1.0zM148.5,483.2h2.0v1h-2.0zM164.5,483.2h1.0v1h-1.0zM42.5,484.2h1.0v1h-1.0zM68.5,484.2h1.0v1h-1.0zM106.5,484.2h1.0v1h-1.0zM123.5,484.2h1.0v1h-1.0zM129.5,484.2h1.0v1h-1.0zM147.5,484.2h1.0v1h-1.0zM162.5,484.2h1.0v1h-1.0zM81.5,485.2h1.0v1h-1.0zM111.5,485.2h1.0v1h-1.0zM150.5,485.2h1.0v1h-1.0zM47.5,486.2h2.0v1h-2.0zM59.5,486.2h1.0v1h-1.0zM94.5,486.2h1.0v1h-1.0zM114.5,486.2h1.0v1h-1.0zM122.5,486.2h1.0v1h-1.0zM128.5,486.2h1.0v1h-1.0zM132.5,486.2h1.0v1h-1.0zM146.5,486.2h1.0v1h-1.0zM150.5,486.2h2.0v1h-2.0zM48.5,487.2h1.0v1h-1.0zM56.5,487.2h2.0v1h-2.0zM63.5,487.2h3.0v1h-3.0zM69.5,487.2h1.0v1h-1.0zM83.5,487.2h1.0v1h-1.0zM89.5,487.2h3.0v1h-3.0zM108.5,487.2h1.0v1h-1.0zM125.5,487.2h1.0v1h-1.0zM128.5,487.2h2.0v1h-2.0zM144.5,487.2h1.0v1h-1.0zM149.5,487.2h1.0v1h-1.0zM168.5,487.2h1.0v1h-1.0zM175.5,487.2h1.0v1h-1.0zM46.5,488.2h1.0v1h-1.0zM54.5,488.2h1.0v1h-1.0zM57.5,488.2h1.0v1h-1.0zM87.5,488.2h1.0v1h-1.0zM91.5,488.2h1.0v1h-1.0zM104.5,488.2h1.0v1h-1.0zM127.5,488.2h1.0v1h-1.0zM148.5,488.2h1.0v1h-1.0zM176.5,488.2h1.0v1h-1.0zM183.5,488.2h1.0v1h-1.0zM92.5,489.2h2.0v1h-2.0zM101.5,489.2h1.0v1h-1.0zM118.5,489.2h1.0v1h-1.0zM124.5,489.2h1.0v1h-1.0zM127.5,489.2h1.0v1h-1.0zM133.5,489.2h1.0v1h-1.0zM148.5,489.2h1.0v1h-1.0zM177.5,489.2h1.0v1h-1.0zM187.5,489.2h1.0v1h-1.0zM196.5,489.2h1.0v1h-1.0zM44.5,490.2h1.0v1h-1.0zM76.5,490.2h1.0v1h-1.0zM92.5,490.2h3.0v1h-3.0zM96.5,490.2h1.0v1h-1.0zM109.5,490.2h1.0v1h-1.0zM172.5,490.2h1.0v1h-1.0zM184.5,490.2h1.0v1h-1.0zM44.5,491.2h1.0v1h-1.0zM57.5,491.2h1.0v1h-1.0zM83.5,491.2h1.0v1h-1.0zM109.5,491.2h1.0v1h-1.0zM113.5,491.2h1.0v1h-1.0zM115.5,491.2h1.0v1h-1.0zM143.5,491.2h1.0v1h-1.0zM145.5,491.2h1.0v1h-1.0zM43.5,492.2h1.0v1h-1.0zM48.5,492.2h1.0v1h-1.0zM77.5,492.2h1.0v1h-1.0zM84.5,492.2h2.0v1h-2.0zM108.5,492.2h1.0v1h-1.0zM121.5,492.2h1.0v1h-1.0zM177.5,492.2h1.0v1h-1.0zM190.5,492.2h2.0v1h-2.0zM44.5,493.2h1.0v1h-1.0zM92.5,493.2h1.0v1h-1.0zM190.5,493.2h2.0v1h-2.0zM197.5,493.2h2.0v1h-2.0zM42.5,494.2h1.0v1h-1.0zM85.5,494.2h1.0v1h-1.0zM92.5,494.2h1.0v1h-1.0zM105.5,494.2h1.0v1h-1.0zM109.5,494.2h2.0v1h-2.0zM117.5,494.2h1.0v1h-1.0zM123.5,494.2h1.0v1h-1.0zM128.5,494.2h1.0v1h-1.0zM168.5,494.2h1.0v1h-1.0zM176.5,494.2h1.0v1h-1.0zM178.5,494.2h1.0v1h-1.0zM182.5,494.2h2.0v1h-2.0zM45.5,495.2h1.0v1h-1.0zM49.5,495.2h1.0v1h-1.0zM103.5,495.2h3.0v1h-3.0zM124.5,495.2h3.0v1h-3.0zM176.5,495.2h2.0v1h-2.0zM184.5,495.2h1.0v1h-1.0zM208.5,495.2h1.0v1h-1.0zM56.5,496.2h1.0v1h-1.0zM64.5,496.2h1.0v1h-1.0zM87.5,496.2h1.0v1h-1.0zM103.5,496.2h1.0v1h-1.0zM115.5,496.2h1.0v1h-1.0zM125.5,496.2h1.0v1h-1.0zM140.5,496.2h1.0v1h-1.0zM143.5,496.2h1.0v1h-1.0zM175.5,496.2h1.0v1h-1.0zM49.5,497.2h1.0v1h-1.0zM52.5,497.2h1.0v1h-1.0zM106.5,497.2h2.0v1h-2.0zM111.5,497.2h1.0v1h-1.0zM134.5,497.2h1.0v1h-1.0zM144.5,497.2h1.0v1h-1.0zM207.5,497.2h1.0v1h-1.0zM64.5,498.2h1.0v1h-1.0zM100.5,498.2h1.0v1h-1.0zM127.5,498.2h1.0v1h-1.0zM167.5,498.2h1.0v1h-1.0zM174.5,498.2h1.0v1h-1.0zM195.5,498.2h2.0v1h-2.0zM43.5,499.2h1.0v1h-1.0zM67.5,499.2h1.0v1h-1.0zM79.5,499.2h1.0v1h-1.0zM129.5,499.2h1.0v1h-1.0zM167.5,499.2h1.0v1h-1.0zM60.5,500.2h1.0v1h-1.0zM63.5,500.2h1.0v1h-1.0zM115.5,500.2h1.0v1h-1.0zM119.5,500.2h2.0v1h-2.0zM136.5,500.2h1.0v1h-1.0zM139.5,500.2h1.0v1h-1.0zM168.5,500.2h1.0v1h-1.0zM44.5,501.2h1.0v1h-1.0zM48.5,501.2h1.0v1h-1.0zM76.5,501.2h1.0v1h-1.0zM80.5,501.2h1.0v1h-1.0zM88.5,501.2h1.0v1h-1.0zM111.5,501.2h1.0v1h-1.0zM115.5,501.2h1.0v1h-1.0zM137.5,501.2h1.0v1h-1.0zM140.5,501.2h1.0v1h-1.0zM167.5,501.2h1.0v1h-1.0zM180.5,501.2h1.0v1h-1.0zM40.5,502.2h1.0v1h-1.0zM46.5,502.2h1.0v1h-1.0zM49.5,502.2h2.0v1h-2.0zM115.5,502.2h1.0v1h-1.0zM167.5,502.2h1.0v1h-1.0zM186.5,502.2h1.0v1h-1.0zM57.5,503.2h1.0v1h-1.0zM61.5,503.2h1.0v1h-1.0zM111.5,503.2h1.0v1h-1.0zM113.5,503.2h1.0v1h-1.0zM124.5,503.2h1.0v1h-1.0zM170.5,503.2h1.0v1h-1.0zM173.5,503.2h1.0v1h-1.0zM203.5,503.2h1.0v1h-1.0zM81.5,504.2h1.0v1h-1.0zM97.5,504.2h1.0v1h-1.0zM148.5,504.2h1.0v1h-1.0zM150.5,504.2h1.0v1h-1.0zM162.5,504.2h1.0v1h-1.0zM182.5,504.2h1.0v1h-1.0zM191.5,504.2h1.0v1h-1.0zM202.5,504.2h1.0v1h-1.0zM69.5,505.2h1.0v1h-1.0zM81.5,505.2h1.0v1h-1.0zM95.5,505.2h1.0v1h-1.0zM131.5,505.2h1.0v1h-1.0zM144.5,505.2h2.0v1h-2.0zM151.5,505.2h2.0v1h-2.0zM155.5,505.2h1.0v1h-1.0zM192.5,505.2h1.0v1h-1.0zM114.5,506.2h1.0v1h-1.0zM162.5,506.2h1.0v1h-1.0zM167.5,506.2h1.0v1h-1.0zM190.5,506.2h1.0v1h-1.0zM198.5,506.2h1.0v1h-1.0zM202.5,506.2h1.0v1h-1.0zM74.5,507.2h1.0v1h-1.0zM85.5,507.2h1.0v1h-1.0zM141.5,507.2h1.0v1h-1.0zM167.5,507.2h1.0v1h-1.0zM172.5,507.2h1.0v1h-1.0zM190.5,507.2h1.0v1h-1.0zM89.5,508.2h1.0v1h-1.0zM139.5,508.2h1.0v1h-1.0zM180.5,508.2h1.0v1h-1.0zM197.5,508.2h1.0v1h-1.0zM209.5,508.2h1.0v1h-1.0zM46.5,509.2h1.0v1h-1.0zM51.5,509.2h2.0v1h-2.0zM63.5,509.2h1.0v1h-1.0zM73.5,509.2h1.0v1h-1.0zM198.5,509.2h1.0v1h-1.0zM204.5,509.2h1.0v1h-1.0zM54.5,510.2h1.0v1h-1.0zM62.5,510.2h1.0v1h-1.0zM73.5,510.2h1.0v1h-1.0zM182.5,510.2h1.0v1h-1.0zM201.5,510.2h1.0v1h-1.0z" fill="#626260"/>
<path d="M81.5,413.2h1.0v1h-1.0zM88.5,413.2h1.0v1h-1.0zM109.5,413.2h1.0v1h-1.0zM127.5,413.2h1.0v1h-1.0zM145.5,413.2h1.0v1h-1.0zM151.5,413.2h1.0v1h-1.0zM210.5,413.2h0.5v1h-0.5zM70.5,414.2h1.0v1h-1.0zM77.5,414.2h1.0v1h-1.0zM82.5,414.2h2.0v1h-2.0zM109.5,414.2h1.0v1h-1.0zM117.5,414.2h2.0v1h-2.0zM148.5,414.2h1.0v1h-1.0zM160.5,414.2h1.0v1h-1.0zM164.5,414.2h2.0v1h-2.0zM184.5,414.2h1.0v1h-1.0zM61.5,415.2h1.0v1h-1.0zM72.5,415.2h1.0v1h-1.0zM81.5,415.2h1.0v1h-1.0zM108.5,415.2h1.0v1h-1.0zM117.5,415.2h1.0v1h-1.0zM120.5,415.2h1.0v1h-1.0zM147.5,415.2h1.0v1h-1.0zM161.5,415.2h1.0v1h-1.0zM204.5,415.2h1.0v1h-1.0zM56.5,416.2h1.0v1h-1.0zM73.5,416.2h1.0v1h-1.0zM84.5,416.2h1.0v1h-1.0zM117.5,416.2h1.0v1h-1.0zM145.5,416.2h1.0v1h-1.0zM156.5,416.2h1.0v1h-1.0zM182.5,416.2h2.0v1h-2.0zM186.5,416.2h1.0v1h-1.0zM195.5,416.2h3.0v1h-3.0zM203.5,416.2h1.0v1h-1.0zM73.5,417.2h1.0v1h-1.0zM89.5,417.2h1.0v1h-1.0zM110.5,417.2h1.0v1h-1.0zM118.5,417.2h3.0v1h-3.0zM129.5,417.2h1.0v1h-1.0zM140.5,417.2h1.0v1h-1.0zM146.5,417.2h1.0v1h-1.0zM159.5,417.2h1.0v1h-1.0zM186.5,417.2h2.0v1h-2.0zM62.5,418.2h4.0v1h-4.0zM79.5,418.2h1.0v1h-1.0zM91.5,418.2h1.0v1h-1.0zM117.5,418.2h1.0v1h-1.0zM120.5,418.2h1.0v1h-1.0zM154.5,418.2h1.0v1h-1.0zM156.5,418.2h1.0v1h-1.0zM174.5,418.2h2.0v1h-2.0zM186.5,418.2h1.0v1h-1.0zM197.5,418.2h2.0v1h-2.0zM53.5,419.2h1.0v1h-1.0zM65.5,419.2h1.0v1h-1.0zM82.5,419.2h1.0v1h-1.0zM115.5,419.2h2.0v1h-2.0zM177.5,419.2h1.0v1h-1.0zM194.5,419.2h2.0v1h-2.0zM78.5,420.2h1.0v1h-1.0zM82.5,420.2h2.0v1h-2.0zM90.5,420.2h1.0v1h-1.0zM116.5,420.2h2.0v1h-2.0zM136.5,420.2h1.0v1h-1.0zM165.5,420.2h1.0v1h-1.0zM168.5,420.2h1.0v1h-1.0zM187.5,420.2h1.0v1h-1.0zM43.5,421.2h1.0v1h-1.0zM62.5,421.2h1.0v1h-1.0zM101.5,421.2h1.0v1h-1.0zM118.5,421.2h1.0v1h-1.0zM124.5,421.2h1.0v1h-1.0zM127.5,421.2h1.0v1h-1.0zM140.5,421.2h1.0v1h-1.0zM156.5,421.2h1.0v1h-1.0zM169.5,421.2h1.0v1h-1.0zM190.5,421.2h1.0v1h-1.0zM206.5,421.2h1.0v1h-1.0zM90.5,422.2h1.0v1h-1.0zM158.5,422.2h1.0v1h-1.0zM174.5,422.2h1.0v1h-1.0zM189.5,422.2h1.0v1h-1.0zM40.5,423.2h1.0v1h-1.0zM50.5,423.2h1.0v1h-1.0zM58.5,423.2h1.0v1h-1.0zM66.5,423.2h1.0v1h-1.0zM90.5,423.2h2.0v1h-2.0zM117.5,423.2h1.0v1h-1.0zM141.5,423.2h1.0v1h-1.0zM75.5,424.2h1.0v1h-1.0zM92.5,424.2h1.0v1h-1.0zM151.5,424.2h1.0v1h-1.0zM61.5,425.2h1.0v1h-1.0zM77.5,425.2h1.0v1h-1.0zM117.5,425.2h1.0v1h-1.0zM128.5,425.2h1.0v1h-1.0zM151.5,425.2h1.0v1h-1.0zM153.5,425.2h1.0v1h-1.0zM111.5,426.2h1.0v1h-1.0zM123.5,426.2h1.0v1h-1.0zM128.5,426.2h1.0v1h-1.0zM162.5,426.2h1.0v1h-1.0zM167.5,426.2h1.0v1h-1.0zM187.5,426.2h1.0v1h-1.0zM43.5,427.2h1.0v1h-1.0zM112.5,427.2h1.0v1h-1.0zM128.5,427.2h1.0v1h-1.0zM132.5,427.2h1.0v1h-1.0zM147.5,427.2h1.0v1h-1.0zM158.5,427.2h1.0v1h-1.0zM167.5,427.2h1.0v1h-1.0zM187.5,427.2h1.0v1h-1.0zM208.5,427.2h1.0v1h-1.0zM53.5,428.2h1.0v1h-1.0zM110.5,428.2h1.0v1h-1.0zM129.5,428.2h2.0v1h-2.0zM102.5,429.2h1.0v1h-1.0zM124.5,429.2h1.0v1h-1.0zM137.5,429.2h1.0v1h-1.0zM154.5,429.2h1.0v1h-1.0zM175.5,429.2h1.0v1h-1.0zM183.5,429.2h1.0v1h-1.0zM191.5,429.2h1.0v1h-1.0zM43.5,430.2h1.0v1h-1.0zM68.5,430.2h1.0v1h-1.0zM92.5,430.2h1.0v1h-1.0zM94.5,430.2h1.0v1h-1.0zM139.5,430.2h1.0v1h-1.0zM154.5,430.2h1.0v1h-1.0zM163.5,430.2h1.0v1h-1.0zM175.5,430.2h1.0v1h-1.0zM177.5,430.2h1.0v1h-1.0zM181.5,430.2h2.0v1h-2.0zM80.5,431.2h1.0v1h-1.0zM108.5,431.2h1.0v1h-1.0zM122.5,431.2h1.0v1h-1.0zM125.5,431.2h1.0v1h-1.0zM144.5,431.2h1.0v1h-1.0zM146.5,431.2h1.0v1h-1.0zM178.5,431.2h1.0v1h-1.0zM207.5,431.2h1.0v1h-1.0zM209.5,431.2h1.5v1h-1.5zM46.5,432.2h1.0v1h-1.0zM51.5,432.2h1.0v1h-1.0zM54.5,432.2h1.0v1h-1.0zM69.5,432.2h1.0v1h-1.0zM101.5,432.2h1.0v1h-1.0zM110.5,432.2h1.0v1h-1.0zM140.5,432.2h1.0v1h-1.0zM165.5,432.2h1.0v1h-1.0zM148.5,433.2h1.0v1h-1.0zM167.5,433.2h1.0v1h-1.0zM169.5,433.2h1.0v1h-1.0zM174.5,433.2h2.0v1h-2.0zM185.5,433.2h1.0v1h-1.0zM50.5,434.2h1.0v1h-1.0zM56.5,434.2h1.0v1h-1.0zM68.5,434.2h1.0v1h-1.0zM91.5,434.2h2.0v1h-2.0zM97.5,434.2h1.0v1h-1.0zM110.5,434.2h1.0v1h-1.0zM120.5,434.2h1.0v1h-1.0zM127.5,434.2h1.0v1h-1.0zM136.5,434.2h1.0v1h-1.0zM164.5,434.2h1.0v1h-1.0zM187.5,434.2h1.0v1h-1.0zM50.5,435.2h2.0v1h-2.0zM71.5,435.2h1.0v1h-1.0zM107.5,435.2h1.0v1h-1.0zM133.5,435.2h1.0v1h-1.0zM138.5,435.2h1.0v1h-1.0zM171.5,435.2h1.0v1h-1.0zM203.5,435.2h1.0v1h-1.0zM50.5,436.2h1.0v1h-1.0zM52.5,436.2h1.0v1h-1.0zM58.5,436.2h1.0v1h-1.0zM70.5,436.2h1.0v1h-1.0zM90.5,436.2h1.0v1h-1.0zM94.5,436.2h1.0v1h-1.0zM96.5,436.2h1.0v1h-1.0zM121.5,436.2h1.0v1h-1.0zM131.5,436.2h1.0v1h-1.0zM139.5,436.2h5.0v1h-5.0zM154.5,436.2h1.0v1h-1.0zM158.5,436.2h1.0v1h-1.0zM173.5,436.2h1.0v1h-1.0zM205.5,436.2h1.0v1h-1.0zM210.5,436.2h0.5v1h-0.5zM98.5,437.2h1.0v1h-1.0zM111.5,437.2h1.0v1h-1.0zM121.5,437.2h1.0v1h-1.0zM142.5,437.2h1.0v1h-1.0zM175.5,437.2h1.0v1h-1.0zM183.5,437.2h1.0v1h-1.0zM90.5,438.2h1.0v1h-1.0zM102.5,438.2h1.0v1h-1.0zM111.5,438.2h1.0v1h-1.0zM122.5,438.2h1.0v1h-1.0zM154.5,438.2h1.0v1h-1.0zM201.5,438.2h1.0v1h-1.0zM207.5,438.2h1.0v1h-1.0zM40.5,439.2h1.0v1h-1.0zM102.5,439.2h1.0v1h-1.0zM105.5,439.2h1.0v1h-1.0zM129.5,439.2h1.0v1h-1.0zM136.5,439.2h1.0v1h-1.0zM157.5,439.2h1.0v1h-1.0zM181.5,439.2h1.0v1h-1.0zM185.5,439.2h1.0v1h-1.0zM41.5,440.2h3.0v1h-3.0zM95.5,440.2h2.0v1h-2.0zM104.5,440.2h1.0v1h-1.0zM131.5,440.2h1.0v1h-1.0zM166.5,440.2h1.0v1h-1.0zM168.5,440.2h1.0v1h-1.0zM184.5,440.2h1.0v1h-1.0zM189.5,440.2h1.0v1h-1.0zM41.5,441.2h1.0v1h-1.0zM103.5,441.2h2.0v1h-2.0zM128.5,441.2h1.0v1h-1.0zM133.5,441.2h1.0v1h-1.0zM176.5,441.2h1.0v1h-1.0zM205.5,441.2h1.0v1h-1.0zM69.5,442.2h1.0v1h-1.0zM78.5,442.2h1.0v1h-1.0zM114.5,442.2h1.0v1h-1.0zM134.5,442.2h1.0v1h-1.0zM43.5,443.2h1.0v1h-1.0zM82.5,443.2h1.0v1h-1.0zM143.5,443.2h1.0v1h-1.0zM185.5,443.2h1.0v1h-1.0zM207.5,443.2h1.0v1h-1.0zM85.5,444.2h1.0v1h-1.0zM180.5,444.2h1.0v1h-1.0zM85.5,445.2h1.0v1h-1.0zM190.5,445.2h1.0v1h-1.0zM196.5,445.2h1.0v1h-1.0zM145.5,446.2h1.0v1h-1.0zM190.5,447.2h1.0v1h-1.0zM46.5,475.2h1.0v1h-1.0zM49.5,475.2h1.0v1h-1.0zM98.5,475.2h1.0v1h-1.0zM125.5,475.2h1.0v1h-1.0zM132.5,475.2h1.0v1h-1.0zM64.5,476.2h1.0v1h-1.0zM97.5,476.2h1.0v1h-1.0zM113.5,476.2h1.0v1h-1.0zM41.5,477.2h1.0v1h-1.0zM74.5,477.2h1.0v1h-1.0zM89.5,477.2h1.0v1h-1.0zM114.5,477.2h1.0v1h-1.0zM48.5,478.2h1.0v1h-1.0zM91.5,478.2h1.0v1h-1.0zM101.5,478.2h1.0v1h-1.0zM108.5,478.2h1.0v1h-1.0zM134.5,478.2h1.0v1h-1.0zM154.5,478.2h1.0v1h-1.0zM166.5,478.2h1.0v1h-1.0zM177.5,478.2h1.0v1h-1.0zM49.5,479.2h1.0v1h-1.0zM147.5,479.2h1.0v1h-1.0zM51.5,480.2h1.0v1h-1.0zM67.5,480.2h2.0v1h-2.0zM86.5,480.2h2.0v1h-2.0zM109.5,480.2h1.0v1h-1.0zM114.5,480.2h1.0v1h-1.0zM118.5,480.2h1.0v1h-1.0zM130.5,480.2h1.0v1h-1.0zM167.5,480.2h1.0v1h-1.0zM210.5,480.2h0.5v1h-0.5zM65.5,481.2h1.0v1h-1.0zM87.5,481.2h2.0v1h-2.0zM90.5,481.2h1.0v1h-1.0zM99.5,481.2h1.0v1h-1.0zM105.5,481.2h1.0v1h-1.0zM144.5,481.2h1.0v1h-1.0zM185.5,481.2h1.0v1h-1.0zM51.5,482.2h1.0v1h-1.0zM97.5,482.2h1.0v1h-1.0zM100.5,482.2h1.0v1h-1.0zM151.5,482.2h2.0v1h-2.0zM168.5,482.2h1.0v1h-1.0zM170.5,482.2h1.0v1h-1.0zM188.5,482.2h1.0v1h-1.0zM45.5,483.2h3.0v1h-3.0zM98.5,483.2h1.0v1h-1.0zM106.5,483.2h2.0v1h-2.0zM109.5,483.2h1.0v1h-1.0zM115.5,483.2h1.0v1h-1.0zM119.5,483.2h1.0v1h-1.0zM121.5,483.2h1.0v1h-1.0zM123.5,483.2h1.0v1h-1.0zM166.5,483.2h1.0v1h-1.0zM50.5,484.2h1.0v1h-1.0zM67.5,484.2h1.0v1h-1.0zM105.5,484.2h1.0v1h-1.0zM113.5,484.2h1.0v1h-1.0zM115.5,484.2h1.0v1h-1.0zM122.5,484.2h1.0v1h-1.0zM149.5,484.2h2.0v1h-2.0zM157.5,484.2h1.0v1h-1.0zM197.5,484.2h1.0v1h-1.0zM48.5,485.2h2.0v1h-2.0zM106.5,485.2h1.0v1h-1.0zM124.5,485.2h1.0v1h-1.0zM126.5,485.2h1.0v1h-1.0zM129.5,485.2h1.0v1h-1.0zM42.5,486.2h1.0v1h-1.0zM62.5,486.2h1.0v1h-1.0zM64.5,486.2h1.0v1h-1.0zM66.5,486.2h1.0v1h-1.0zM81.5,486.2h1.0v1h-1.0zM109.5,486.2h1.0v1h-1.0zM117.5,486.2h1.0v1h-1.0zM125.5,486.2h3.0v1h-3.0zM47.5,487.2h1.0v1h-1.0zM70.5,487.2h1.0v1h-1.0zM78.5,487.2h1.0v1h-1.0zM81.5,487.2h2.0v1h-2.0zM94.5,487.2h1.0v1h-1.0zM121.5,487.2h1.0v1h-1.0zM126.5,487.2h2.0v1h-2.0zM131.5,487.2h1.0v1h-1.0zM151.5,487.2h1.0v1h-1.0zM166.5,487.2h1.0v1h-1.0zM41.5,488.2h1.0v1h-1.0zM78.5,488.2h1.0v1h-1.0zM90.5,488.2h1.0v1h-1.0zM94.5,488.2h1.0v1h-1.0zM97.5,488.2h1.0v1h-1.0zM114.5,488.2h1.0v1h-1.0zM125.5,488.2h2.0v1h-2.0zM131.5,488.2h1.0v1h-1.0zM150.5,488.2h1.0v1h-1.0zM57.5,489.2h1.0v1h-1.0zM87.5,489.2h1.0v1h-1.0zM89.5,489.2h1.0v1h-1.0zM94.5,489.2h1.0v1h-1.0zM96.5,489.2h1.0v1h-1.0zM103.5,489.2h1.0v1h-1.0zM197.5,489.2h1.0v1h-1.0zM45.5,490.2h1.0v1h-1.0zM60.5,490.2h1.0v1h-1.0zM95.5,490.2h1.0v1h-1.0zM129.5,490.2h1.0v1h-1.0zM133.5,490.2h1.0v1h-1.0zM153.5,490.2h1.0v1h-1.0zM162.5,490.2h1.0v1h-1.0zM173.5,490.2h3.0v1h-3.0zM177.5,490.2h1.0v1h-1.0zM187.5,490.2h1.0v1h-1.0zM198.5,490.2h1.0v1h-1.0zM45.5,491.2h1.0v1h-1.0zM76.5,491.2h1.0v1h-1.0zM95.5,491.2h1.0v1h-1.0zM99.5,491.2h1.0v1h-1.0zM112.5,491.2h1.0v1h-1.0zM116.5,491.2h1.0v1h-1.0zM123.5,491.2h1.0v1h-1.0zM144.5,491.2h1.0v1h-1.0zM162.5,491.2h1.0v1h-1.0zM177.5,491.2h1.0v1h-1.0zM187.5,491.2h1.0v1h-1.0zM87.5,492.2h1.0v1h-1.0zM95.5,492.2h1.0v1h-1.0zM117.5,492.2h1.0v1h-1.0zM120.5,492.2h1.0v1h-1.0zM195.5,492.2h1.0v1h-1.0zM41.5,493.2h1.0v1h-1.0zM71.5,493.2h1.0v1h-1.0zM73.5,493.2h1.0v1h-1.0zM75.5,493.2h1.0v1h-1.0zM78.5,493.2h1.0v1h-1.0zM84.5,493.2h2.0v1h-2.0zM95.5,493.2h1.0v1h-1.0zM99.5,493.2h1.0v1h-1.0zM108.5,493.2h1.0v1h-1.0zM117.5,493.2h1.0v1h-1.0zM123.5,493.2h1.0v1h-1.0zM164.5,493.2h1.0v1h-1.0zM177.5,493.2h2.0v1h-2.0zM44.5,494.2h1.0v1h-1.0zM49.5,494.2h1.0v1h-1.0zM78.5,494.2h1.0v1h-1.0zM82.5,494.2h1.0v1h-1.0zM114.5,494.2h1.0v1h-1.0zM177.5,494.2h1.0v1h-1.0zM184.5,494.2h2.0v1h-2.0zM41.5,495.2h2.0v1h-2.0zM73.5,495.2h1.0v1h-1.0zM75.5,495.2h1.0v1h-1.0zM79.5,495.2h1.0v1h-1.0zM140.5,495.2h1.0v1h-1.0zM182.5,495.2h2.0v1h-2.0zM202.5,495.2h2.0v1h-2.0zM67.5,496.2h1.0v1h-1.0zM106.5,496.2h1.0v1h-1.0zM139.5,496.2h1.0v1h-1.0zM176.5,496.2h1.0v1h-1.0zM50.5,497.2h1.0v1h-1.0zM124.5,497.2h1.0v1h-1.0zM133.5,497.2h1.0v1h-1.0zM143.5,497.2h1.0v1h-1.0zM175.5,497.2h1.0v1h-1.0zM56.5,498.2h1.0v1h-1.0zM88.5,498.2h1.0v1h-1.0zM118.5,498.2h1.0v1h-1.0zM123.5,498.2h1.0v1h-1.0zM135.5,498.2h1.0v1h-1.0zM176.5,498.2h1.0v1h-1.0zM207.5,498.2h1.0v1h-1.0zM42.5,499.2h1.0v1h-1.0zM47.5,499.2h1.0v1h-1.0zM56.5,499.2h2.0v1h-2.0zM68.5,499.2h2.0v1h-2.0zM77.5,499.2h2.0v1h-2.0zM88.5,499.2h1.0v1h-1.0zM130.5,499.2h1.0v1h-1.0zM44.5,500.2h1.0v1h-1.0zM57.5,500.2h1.0v1h-1.0zM71.5,500.2h1.0v1h-1.0zM129.5,500.2h2.0v1h-2.0zM140.5,500.2h1.0v1h-1.0zM77.5,501.2h1.0v1h-1.0zM116.5,501.2h1.0v1h-1.0zM138.5,501.2h1.0v1h-1.0zM168.5,501.2h1.0v1h-1.0zM51.5,502.2h1.0v1h-1.0zM56.5,502.2h1.0v1h-1.0zM68.5,502.2h1.0v1h-1.0zM111.5,502.2h1.0v1h-1.0zM119.5,502.2h1.0v1h-1.0zM153.5,502.2h2.0v1h-2.0zM162.5,502.2h1.0v1h-1.0zM165.5,502.2h1.0v1h-1.0zM168.5,502.2h4.0v1h-4.0zM51.5,503.2h1.0v1h-1.0zM56.5,503.2h1.0v1h-1.0zM88.5,503.2h1.0v1h-1.0zM140.5,503.2h1.0v1h-1.0zM202.5,503.2h1.0v1h-1.0zM209.5,503.2h1.0v1h-1.0zM40.5,504.2h1.0v1h-1.0zM100.5,504.2h1.0v1h-1.0zM151.5,504.2h1.0v1h-1.0zM177.5,505.2h1.0v1h-1.0zM181.5,505.2h2.0v1h-2.0zM56.5,506.2h1.0v1h-1.0zM63.5,506.2h1.0v1h-1.0zM81.5,506.2h1.0v1h-1.0zM181.5,506.2h1.0v1h-1.0zM55.5,507.2h1.0v1h-1.0zM63.5,507.2h1.0v1h-1.0zM66.5,507.2h1.0v1h-1.0zM86.5,507.2h2.0v1h-2.0zM95.5,507.2h1.0v1h-1.0zM99.5,507.2h1.0v1h-1.0zM136.5,507.2h1.0v1h-1.0zM164.5,507.2h1.0v1h-1.0zM173.5,507.2h1.0v1h-1.0zM193.5,507.2h1.0v1h-1.0zM196.5,507.2h1.0v1h-1.0zM198.5,507.2h1.0v1h-1.0zM202.5,507.2h1.0v1h-1.0zM45.5,508.2h1.0v1h-1.0zM55.5,508.2h1.0v1h-1.0zM80.5,508.2h1.0v1h-1.0zM123.5,508.2h1.0v1h-1.0zM132.5,508.2h1.0v1h-1.0zM161.5,508.2h1.0v1h-1.0zM167.5,508.2h2.0v1h-2.0zM191.5,508.2h2.0v1h-2.0zM198.5,508.2h1.0v1h-1.0zM202.5,508.2h1.0v1h-1.0zM49.5,509.2h1.0v1h-1.0zM74.5,509.2h1.0v1h-1.0zM77.5,509.2h1.0v1h-1.0zM81.5,509.2h1.0v1h-1.0zM205.5,509.2h1.0v1h-1.0zM210.5,509.2h0.5v1h-0.5zM55.5,510.2h1.0v1h-1.0zM120.5,510.2h1.0v1h-1.0zM206.5,510.2h1.0v1h-1.0z" fill="#b4b4b2"/>
<path d="M58.5,413.2h2.0v1h-2.0zM79.5,413.2h2.0v1h-2.0zM126.5,413.2h1.0v1h-1.0zM139.5,413.2h6.0v1h-6.0zM189.5,413.2h6.0v1h-6.0zM57.5,414.2h4.0v1h-4.0zM76.5,414.2h1.0v1h-1.0zM88.5,414.2h1.0v1h-1.0zM126.5,414.2h2.0v1h-2.0zM138.5,414.2h7.0v1h-7.0zM149.5,414.2h4.0v1h-4.0zM159.5,414.2h1.0v1h-1.0zM162.5,414.2h2.0v1h-2.0zM171.5,414.2h2.0v1h-2.0zM182.5,414.2h2.0v1h-2.0zM188.5,414.2h3.0v1h-3.0zM57.5,415.2h4.0v1h-4.0zM70.5,415.2h2.0v1h-2.0zM82.5,415.2h2.0v1h-2.0zM87.5,415.2h2.0v1h-2.0zM109.5,415.2h1.0v1h-1.0zM118.5,415.2h2.0v1h-2.0zM126.5,415.2h3.0v1h-3.0zM138.5,415.2h7.0v1h-7.0zM148.5,415.2h5.0v1h-5.0zM157.5,415.2h4.0v1h-4.0zM162.5,415.2h2.0v1h-2.0zM171.5,415.2h2.0v1h-2.0zM182.5,415.2h2.0v1h-2.0zM187.5,415.2h3.0v1h-3.0zM199.5,415.2h2.0v1h-2.0zM205.5,415.2h3.0v1h-3.0zM57.5,416.2h5.0v1h-5.0zM70.5,416.2h3.0v1h-3.0zM81.5,416.2h3.0v1h-3.0zM86.5,416.2h4.0v1h-4.0zM108.5,416.2h2.0v1h-2.0zM118.5,416.2h3.0v1h-3.0zM127.5,416.2h3.0v1h-3.0zM136.5,416.2h9.0v1h-9.0zM147.5,416.2h6.0v1h-6.0zM157.5,416.2h4.0v1h-4.0zM187.5,416.2h2.0v1h-2.0zM198.5,416.2h4.0v1h-4.0zM204.5,416.2h6.0v1h-6.0zM59.5,417.2h4.0v1h-4.0zM71.5,417.2h2.0v1h-2.0zM81.5,417.2h8.0v1h-8.0zM108.5,417.2h2.0v1h-2.0zM128.5,417.2h1.0v1h-1.0zM134.5,417.2h6.0v1h-6.0zM143.5,417.2h3.0v1h-3.0zM148.5,417.2h5.0v1h-5.0zM156.5,417.2h3.0v1h-3.0zM194.5,417.2h8.0v1h-8.0zM203.5,417.2h7.0v1h-7.0zM53.5,418.2h1.0v1h-1.0zM60.5,418.2h2.0v1h-2.0zM80.5,418.2h9.0v1h-9.0zM92.5,418.2h1.0v1h-1.0zM101.5,418.2h3.0v1h-3.0zM109.5,418.2h2.0v1h-2.0zM118.5,418.2h2.0v1h-2.0zM134.5,418.2h4.0v1h-4.0zM143.5,418.2h3.0v1h-3.0zM148.5,418.2h5.0v1h-5.0zM155.5,418.2h1.0v1h-1.0zM187.5,418.2h1.0v1h-1.0zM194.5,418.2h3.0v1h-3.0zM199.5,418.2h2.0v1h-2.0zM204.5,418.2h6.0v1h-6.0zM79.5,419.2h3.0v1h-3.0zM83.5,419.2h3.0v1h-3.0zM91.5,419.2h2.0v1h-2.0zM101.5,419.2h4.0v1h-4.0zM117.5,419.2h3.0v1h-3.0zM123.5,419.2h1.0v1h-1.0zM134.5,419.2h4.0v1h-4.0zM144.5,419.2h12.0v1h-12.0zM172.5,419.2h5.0v1h-5.0zM186.5,419.2h3.0v1h-3.0zM205.5,419.2h5.0v1h-5.0zM40.5,420.2h3.0v1h-3.0zM79.5,420.2h3.0v1h-3.0zM84.5,420.2h1.0v1h-1.0zM91.5,420.2h3.0v1h-3.0zM101.5,420.2h4.0v1h-4.0zM113.5,420.2h3.0v1h-3.0zM118.5,420.2h1.0v1h-1.0zM123.5,420.2h2.0v1h-2.0zM146.5,420.2h10.0v1h-10.0zM166.5,420.2h2.0v1h-2.0zM172.5,420.2h4.0v1h-4.0zM188.5,420.2h2.0v1h-2.0zM206.5,420.2h4.0v1h-4.0zM40.5,421.2h3.0v1h-3.0zM44.5,421.2h2.0v1h-2.0zM79.5,421.2h3.0v1h-3.0zM90.5,421.2h4.0v1h-4.0zM102.5,421.2h1.0v1h-1.0zM113.5,421.2h5.0v1h-5.0zM123.5,421.2h1.0v1h-1.0zM128.5,421.2h2.0v1h-2.0zM138.5,421.2h2.0v1h-2.0zM146.5,421.2h10.0v1h-10.0zM164.5,421.2h5.0v1h-5.0zM172.5,421.2h3.0v1h-3.0zM188.5,421.2h2.0v1h-2.0zM207.5,421.2h3.5v1h-3.5zM40.5,422.2h2.0v1h-2.0zM44.5,422.2h4.0v1h-4.0zM61.5,422.2h5.0v1h-5.0zM91.5,422.2h1.0v1h-1.0zM114.5,422.2h4.0v1h-4.0zM128.5,422.2h3.0v1h-3.0zM138.5,422.2h3.0v1h-3.0zM145.5,422.2h12.0v1h-12.0zM165.5,422.2h5.0v1h-5.0zM173.5,422.2h1.0v1h-1.0zM45.5,423.2h5.0v1h-5.0zM59.5,423.2h7.0v1h-7.0zM108.5,423.2h2.0v1h-2.0zM128.5,423.2h3.0v1h-3.0zM138.5,423.2h3.0v1h-3.0zM145.5,423.2h15.0v1h-15.0zM167.5,423.2h3.0v1h-3.0zM45.5,424.2h7.0v1h-7.0zM58.5,424.2h8.0v1h-8.0zM85.5,424.2h1.0v1h-1.0zM90.5,424.2h2.0v1h-2.0zM108.5,424.2h2.0v1h-2.0zM128.5,424.2h2.0v1h-2.0zM134.5,424.2h2.0v1h-2.0zM138.5,424.2h3.0v1h-3.0zM144.5,424.2h7.0v1h-7.0zM153.5,424.2h7.0v1h-7.0zM167.5,424.2h3.0v1h-3.0zM45.5,425.2h7.0v1h-7.0zM58.5,425.2h3.0v1h-3.0zM63.5,425.2h3.0v1h-3.0zM74.5,425.2h3.0v1h-3.0zM89.5,425.2h5.0v1h-5.0zM108.5,425.2h3.0v1h-3.0zM133.5,425.2h3.0v1h-3.0zM138.5,425.2h3.0v1h-3.0zM143.5,425.2h8.0v1h-8.0zM154.5,425.2h6.0v1h-6.0zM167.5,425.2h3.0v1h-3.0zM186.5,425.2h1.0v1h-1.0zM45.5,426.2h7.0v1h-7.0zM58.5,426.2h3.0v1h-3.0zM74.5,426.2h3.0v1h-3.0zM89.5,426.2h7.0v1h-7.0zM108.5,426.2h3.0v1h-3.0zM116.5,426.2h3.0v1h-3.0zM122.5,426.2h1.0v1h-1.0zM133.5,426.2h3.0v1h-3.0zM139.5,426.2h9.0v1h-9.0zM150.5,426.2h2.0v1h-2.0zM155.5,426.2h4.0v1h-4.0zM163.5,426.2h2.0v1h-2.0zM168.5,426.2h1.0v1h-1.0zM184.5,426.2h3.0v1h-3.0zM209.5,426.2h1.5v1h-1.5zM44.5,427.2h6.0v1h-6.0zM59.5,427.2h2.0v1h-2.0zM75.5,427.2h2.0v1h-2.0zM90.5,427.2h4.0v1h-4.0zM104.5,427.2h2.0v1h-2.0zM109.5,427.2h3.0v1h-3.0zM116.5,427.2h3.0v1h-3.0zM122.5,427.2h6.0v1h-6.0zM133.5,427.2h3.0v1h-3.0zM141.5,427.2h6.0v1h-6.0zM150.5,427.2h3.0v1h-3.0zM155.5,427.2h3.0v1h-3.0zM162.5,427.2h5.0v1h-5.0zM183.5,427.2h4.0v1h-4.0zM209.5,427.2h1.5v1h-1.5zM42.5,428.2h6.0v1h-6.0zM80.5,428.2h1.0v1h-1.0zM91.5,428.2h1.0v1h-1.0zM103.5,428.2h3.0v1h-3.0zM111.5,428.2h8.0v1h-8.0zM122.5,428.2h7.0v1h-7.0zM131.5,428.2h5.0v1h-5.0zM150.5,428.2h4.0v1h-4.0zM155.5,428.2h3.0v1h-3.0zM162.5,428.2h6.0v1h-6.0zM182.5,428.2h5.0v1h-5.0zM42.5,429.2h6.0v1h-6.0zM53.5,429.2h3.0v1h-3.0zM80.5,429.2h2.0v1h-2.0zM111.5,429.2h9.0v1h-9.0zM125.5,429.2h8.0v1h-8.0zM136.5,429.2h1.0v1h-1.0zM150.5,429.2h4.0v1h-4.0zM155.5,429.2h3.0v1h-3.0zM162.5,429.2h3.0v1h-3.0zM176.5,429.2h1.0v1h-1.0zM182.5,429.2h1.0v1h-1.0zM204.5,429.2h2.0v1h-2.0zM44.5,430.2h4.0v1h-4.0zM53.5,430.2h4.0v1h-4.0zM80.5,430.2h2.0v1h-2.0zM93.5,430.2h1.0v1h-1.0zM98.5,430.2h3.0v1h-3.0zM112.5,430.2h9.0v1h-9.0zM125.5,430.2h7.0v1h-7.0zM136.5,430.2h3.0v1h-3.0zM150.5,430.2h4.0v1h-4.0zM156.5,430.2h2.0v1h-2.0zM161.5,430.2h2.0v1h-2.0zM176.5,430.2h1.0v1h-1.0zM203.5,430.2h4.0v1h-4.0zM45.5,431.2h4.0v1h-4.0zM52.5,431.2h6.0v1h-6.0zM64.5,431.2h1.0v1h-1.0zM92.5,431.2h9.0v1h-9.0zM107.5,431.2h1.0v1h-1.0zM114.5,431.2h8.0v1h-8.0zM126.5,431.2h6.0v1h-6.0zM136.5,431.2h4.0v1h-4.0zM145.5,431.2h1.0v1h-1.0zM151.5,431.2h3.0v1h-3.0zM159.5,431.2h5.0v1h-5.0zM179.5,431.2h3.0v1h-3.0zM202.5,431.2h5.0v1h-5.0zM47.5,432.2h4.0v1h-4.0zM55.5,432.2h3.0v1h-3.0zM92.5,432.2h9.0v1h-9.0zM107.5,432.2h3.0v1h-3.0zM115.5,432.2h8.0v1h-8.0zM127.5,432.2h5.0v1h-5.0zM136.5,432.2h4.0v1h-4.0zM144.5,432.2h4.0v1h-4.0zM159.5,432.2h6.0v1h-6.0zM179.5,432.2h2.0v1h-2.0zM202.5,432.2h8.5v1h-8.5zM48.5,433.2h3.0v1h-3.0zM55.5,433.2h3.0v1h-3.0zM69.5,433.2h2.0v1h-2.0zM92.5,433.2h10.0v1h-10.0zM107.5,433.2h4.0v1h-4.0zM115.5,433.2h1.0v1h-1.0zM120.5,433.2h4.0v1h-4.0zM127.5,433.2h5.0v1h-5.0zM136.5,433.2h5.0v1h-5.0zM144.5,433.2h4.0v1h-4.0zM160.5,433.2h7.0v1h-7.0zM170.5,433.2h1.0v1h-1.0zM202.5,433.2h8.5v1h-8.5zM49.5,434.2h1.0v1h-1.0zM57.5,434.2h1.0v1h-1.0zM64.5,434.2h2.0v1h-2.0zM69.5,434.2h2.0v1h-2.0zM89.5,434.2h2.0v1h-2.0zM93.5,434.2h4.0v1h-4.0zM99.5,434.2h2.0v1h-2.0zM107.5,434.2h3.0v1h-3.0zM121.5,434.2h4.0v1h-4.0zM128.5,434.2h4.0v1h-4.0zM137.5,434.2h4.0v1h-4.0zM144.5,434.2h5.0v1h-5.0zM165.5,434.2h2.0v1h-2.0zM170.5,434.2h6.0v1h-6.0zM184.5,434.2h3.0v1h-3.0zM203.5,434.2h7.0v1h-7.0zM57.5,435.2h2.0v1h-2.0zM63.5,435.2h4.0v1h-4.0zM69.5,435.2h2.0v1h-2.0zM89.5,435.2h2.0v1h-2.0zM108.5,435.2h2.0v1h-2.0zM121.5,435.2h5.0v1h-5.0zM128.5,435.2h3.0v1h-3.0zM134.5,435.2h4.0v1h-4.0zM139.5,435.2h3.0v1h-3.0zM144.5,435.2h5.0v1h-5.0zM172.5,435.2h4.0v1h-4.0zM184.5,435.2h4.0v1h-4.0zM204.5,435.2h1.0v1h-1.0zM51.5,436.2h1.0v1h-1.0zM57.5,436.2h1.0v1h-1.0zM62.5,436.2h4.0v1h-4.0zM89.5,436.2h1.0v1h-1.0zM95.5,436.2h1.0v1h-1.0zM105.5,436.2h6.0v1h-6.0zM122.5,436.2h3.0v1h-3.0zM129.5,436.2h2.0v1h-2.0zM132.5,436.2h7.0v1h-7.0zM144.5,436.2h5.0v1h-5.0zM174.5,436.2h2.0v1h-2.0zM184.5,436.2h4.0v1h-4.0zM204.5,436.2h1.0v1h-1.0zM62.5,437.2h2.0v1h-2.0zM83.5,437.2h2.0v1h-2.0zM89.5,437.2h2.0v1h-2.0zM95.5,437.2h3.0v1h-3.0zM104.5,437.2h7.0v1h-7.0zM117.5,437.2h2.0v1h-2.0zM130.5,437.2h9.0v1h-9.0zM143.5,437.2h5.0v1h-5.0zM154.5,437.2h6.0v1h-6.0zM174.5,437.2h1.0v1h-1.0zM184.5,437.2h6.0v1h-6.0zM203.5,437.2h3.0v1h-3.0zM209.5,437.2h1.5v1h-1.5zM62.5,438.2h2.0v1h-2.0zM83.5,438.2h2.0v1h-2.0zM89.5,438.2h1.0v1h-1.0zM95.5,438.2h3.0v1h-3.0zM103.5,438.2h8.0v1h-8.0zM117.5,438.2h2.0v1h-2.0zM121.5,438.2h1.0v1h-1.0zM130.5,438.2h8.0v1h-8.0zM143.5,438.2h5.0v1h-5.0zM155.5,438.2h5.0v1h-5.0zM174.5,438.2h1.0v1h-1.0zM181.5,438.2h9.0v1h-9.0zM202.5,438.2h5.0v1h-5.0zM208.5,438.2h2.5v1h-2.5zM62.5,439.2h2.0v1h-2.0zM78.5,439.2h1.0v1h-1.0zM95.5,439.2h2.0v1h-2.0zM103.5,439.2h2.0v1h-2.0zM121.5,439.2h2.0v1h-2.0zM130.5,439.2h6.0v1h-6.0zM143.5,439.2h4.0v1h-4.0zM158.5,439.2h2.0v1h-2.0zM167.5,439.2h1.0v1h-1.0zM174.5,439.2h2.0v1h-2.0zM182.5,439.2h3.0v1h-3.0zM187.5,439.2h3.0v1h-3.0zM201.5,439.2h9.5v1h-9.5zM40.5,440.2h1.0v1h-1.0zM44.5,440.2h1.0v1h-1.0zM78.5,440.2h3.0v1h-3.0zM103.5,440.2h1.0v1h-1.0zM121.5,440.2h2.0v1h-2.0zM128.5,440.2h3.0v1h-3.0zM132.5,440.2h4.0v1h-4.0zM143.5,440.2h4.0v1h-4.0zM158.5,440.2h3.0v1h-3.0zM167.5,440.2h1.0v1h-1.0zM174.5,440.2h2.0v1h-2.0zM183.5,440.2h1.0v1h-1.0zM188.5,440.2h1.0v1h-1.0zM201.5,440.2h2.0v1h-2.0zM205.5,440.2h5.5v1h-5.5zM42.5,441.2h4.0v1h-4.0zM79.5,441.2h3.0v1h-3.0zM114.5,441.2h1.0v1h-1.0zM129.5,441.2h1.0v1h-1.0zM134.5,441.2h2.0v1h-2.0zM142.5,441.2h4.0v1h-4.0zM159.5,441.2h3.0v1h-3.0zM167.5,441.2h1.0v1h-1.0zM175.5,441.2h1.0v1h-1.0zM206.5,441.2h4.5v1h-4.5zM42.5,442.2h3.0v1h-3.0zM79.5,442.2h3.0v1h-3.0zM135.5,442.2h1.0v1h-1.0zM142.5,442.2h4.0v1h-4.0zM160.5,442.2h3.0v1h-3.0zM207.5,442.2h3.5v1h-3.5zM69.5,443.2h2.0v1h-2.0zM78.5,443.2h4.0v1h-4.0zM144.5,443.2h2.0v1h-2.0zM161.5,443.2h2.0v1h-2.0zM176.5,443.2h3.0v1h-3.0zM208.5,443.2h1.0v1h-1.0zM69.5,444.2h2.0v1h-2.0zM84.5,444.2h1.0v1h-1.0zM144.5,444.2h2.0v1h-2.0zM176.5,444.2h4.0v1h-4.0zM185.5,444.2h2.0v1h-2.0zM145.5,445.2h1.0v1h-1.0zM186.5,445.2h4.0v1h-4.0zM186.5,446.2h5.0v1h-5.0zM196.5,446.2h1.0v1h-1.0zM187.5,447.2h3.0v1h-3.0zM196.5,447.2h1.0v1h-1.0zM47.5,475.2h2.0v1h-2.0zM133.5,475.2h2.0v1h-2.0zM42.5,476.2h7.0v1h-7.0zM90.5,476.2h1.0v1h-1.0zM98.5,476.2h1.0v1h-1.0zM104.5,476.2h3.0v1h-3.0zM124.5,476.2h3.0v1h-3.0zM132.5,476.2h3.0v1h-3.0zM42.5,477.2h7.0v1h-7.0zM63.5,477.2h3.0v1h-3.0zM73.5,477.2h1.0v1h-1.0zM90.5,477.2h1.0v1h-1.0zM97.5,477.2h3.0v1h-3.0zM103.5,477.2h5.0v1h-5.0zM112.5,477.2h2.0v1h-2.0zM124.5,477.2h4.0v1h-4.0zM132.5,477.2h2.0v1h-2.0zM145.5,477.2h2.0v1h-2.0zM42.5,478.2h6.0v1h-6.0zM63.5,478.2h4.0v1h-4.0zM73.5,478.2h1.0v1h-1.0zM89.5,478.2h2.0v1h-2.0zM97.5,478.2h4.0v1h-4.0zM102.5,478.2h6.0v1h-6.0zM111.5,478.2h7.0v1h-7.0zM124.5,478.2h3.0v1h-3.0zM132.5,478.2h2.0v1h-2.0zM145.5,478.2h4.0v1h-4.0zM150.5,478.2h4.0v1h-4.0zM162.5,478.2h4.0v1h-4.0zM43.5,479.2h6.0v1h-6.0zM58.5,479.2h2.0v1h-2.0zM64.5,479.2h3.0v1h-3.0zM88.5,479.2h4.0v1h-4.0zM97.5,479.2h8.0v1h-8.0zM111.5,479.2h7.0v1h-7.0zM132.5,479.2h2.0v1h-2.0zM148.5,479.2h7.0v1h-7.0zM162.5,479.2h5.0v1h-5.0zM210.5,479.2h0.5v1h-0.5zM43.5,480.2h8.0v1h-8.0zM52.5,480.2h1.0v1h-1.0zM58.5,480.2h2.0v1h-2.0zM88.5,480.2h3.0v1h-3.0zM98.5,480.2h7.0v1h-7.0zM115.5,480.2h3.0v1h-3.0zM131.5,480.2h3.0v1h-3.0zM139.5,480.2h2.0v1h-2.0zM150.5,480.2h4.0v1h-4.0zM162.5,480.2h3.0v1h-3.0zM188.5,480.2h2.0v1h-2.0zM44.5,481.2h9.0v1h-9.0zM66.5,481.2h4.0v1h-4.0zM89.5,481.2h1.0v1h-1.0zM100.5,481.2h5.0v1h-5.0zM108.5,481.2h2.0v1h-2.0zM115.5,481.2h3.0v1h-3.0zM130.5,481.2h4.0v1h-4.0zM139.5,481.2h2.0v1h-2.0zM145.5,481.2h1.0v1h-1.0zM151.5,481.2h2.0v1h-2.0zM158.5,481.2h6.0v1h-6.0zM167.5,481.2h4.0v1h-4.0zM186.5,481.2h4.0v1h-4.0zM196.5,481.2h2.0v1h-2.0zM40.5,482.2h1.0v1h-1.0zM44.5,482.2h7.0v1h-7.0zM65.5,482.2h6.0v1h-6.0zM95.5,482.2h2.0v1h-2.0zM101.5,482.2h9.0v1h-9.0zM115.5,482.2h2.0v1h-2.0zM130.5,482.2h4.0v1h-4.0zM139.5,482.2h3.0v1h-3.0zM144.5,482.2h3.0v1h-3.0zM157.5,482.2h7.0v1h-7.0zM167.5,482.2h1.0v1h-1.0zM196.5,482.2h2.0v1h-2.0zM40.5,483.2h2.0v1h-2.0zM48.5,483.2h3.0v1h-3.0zM65.5,483.2h6.0v1h-6.0zM95.5,483.2h3.0v1h-3.0zM99.5,483.2h7.0v1h-7.0zM108.5,483.2h1.0v1h-1.0zM120.5,483.2h1.0v1h-1.0zM124.5,483.2h2.0v1h-2.0zM130.5,483.2h4.0v1h-4.0zM139.5,483.2h3.0v1h-3.0zM144.5,483.2h4.0v1h-4.0zM157.5,483.2h3.0v1h-3.0zM162.5,483.2h2.0v1h-2.0zM167.5,483.2h1.0v1h-1.0zM196.5,483.2h2.0v1h-2.0zM40.5,484.2h2.0v1h-2.0zM48.5,484.2h2.0v1h-2.0zM65.5,484.2h2.0v1h-2.0zM82.5,484.2h3.0v1h-3.0zM95.5,484.2h10.0v1h-10.0zM114.5,484.2h1.0v1h-1.0zM118.5,484.2h4.0v1h-4.0zM124.5,484.2h2.0v1h-2.0zM130.5,484.2h4.0v1h-4.0zM144.5,484.2h3.0v1h-3.0zM158.5,484.2h1.0v1h-1.0zM163.5,484.2h1.0v1h-1.0zM40.5,485.2h3.0v1h-3.0zM65.5,485.2h2.0v1h-2.0zM82.5,485.2h3.0v1h-3.0zM95.5,485.2h11.0v1h-11.0zM112.5,485.2h3.0v1h-3.0zM118.5,485.2h5.0v1h-5.0zM125.5,485.2h1.0v1h-1.0zM130.5,485.2h3.0v1h-3.0zM144.5,485.2h3.0v1h-3.0zM163.5,485.2h1.0v1h-1.0zM40.5,486.2h2.0v1h-2.0zM60.5,486.2h2.0v1h-2.0zM65.5,486.2h1.0v1h-1.0zM82.5,486.2h3.0v1h-3.0zM95.5,486.2h12.0v1h-12.0zM110.5,486.2h4.0v1h-4.0zM118.5,486.2h4.0v1h-4.0zM129.5,486.2h3.0v1h-3.0zM144.5,486.2h2.0v1h-2.0zM171.5,486.2h3.0v1h-3.0zM40.5,487.2h2.0v1h-2.0zM60.5,487.2h3.0v1h-3.0zM79.5,487.2h2.0v1h-2.0zM95.5,487.2h11.0v1h-11.0zM109.5,487.2h5.0v1h-5.0zM117.5,487.2h4.0v1h-4.0zM130.5,487.2h1.0v1h-1.0zM145.5,487.2h1.0v1h-1.0zM150.5,487.2h1.0v1h-1.0zM167.5,487.2h1.0v1h-1.0zM170.5,487.2h5.0v1h-5.0zM183.5,487.2h4.0v1h-4.0zM40.5,488.2h1.0v1h-1.0zM47.5,488.2h2.0v1h-2.0zM55.5,488.2h2.0v1h-2.0zM79.5,488.2h3.0v1h-3.0zM88.5,488.2h2.0v1h-2.0zM95.5,488.2h2.0v1h-2.0zM101.5,488.2h3.0v1h-3.0zM109.5,488.2h5.0v1h-5.0zM117.5,488.2h4.0v1h-4.0zM149.5,488.2h1.0v1h-1.0zM164.5,488.2h12.0v1h-12.0zM184.5,488.2h3.0v1h-3.0zM40.5,489.2h3.0v1h-3.0zM46.5,489.2h4.0v1h-4.0zM55.5,489.2h2.0v1h-2.0zM78.5,489.2h4.0v1h-4.0zM88.5,489.2h1.0v1h-1.0zM95.5,489.2h1.0v1h-1.0zM102.5,489.2h1.0v1h-1.0zM109.5,489.2h6.0v1h-6.0zM119.5,489.2h1.0v1h-1.0zM125.5,489.2h2.0v1h-2.0zM131.5,489.2h2.0v1h-2.0zM149.5,489.2h1.0v1h-1.0zM154.5,489.2h4.0v1h-4.0zM163.5,489.2h14.0v1h-14.0zM184.5,489.2h3.0v1h-3.0zM40.5,490.2h4.0v1h-4.0zM46.5,490.2h4.0v1h-4.0zM55.5,490.2h3.0v1h-3.0zM61.5,490.2h2.0v1h-2.0zM77.5,490.2h6.0v1h-6.0zM110.5,490.2h5.0v1h-5.0zM124.5,490.2h5.0v1h-5.0zM130.5,490.2h3.0v1h-3.0zM154.5,490.2h4.0v1h-4.0zM163.5,490.2h6.0v1h-6.0zM176.5,490.2h1.0v1h-1.0zM185.5,490.2h2.0v1h-2.0zM196.5,490.2h2.0v1h-2.0zM40.5,491.2h4.0v1h-4.0zM46.5,491.2h3.0v1h-3.0zM55.5,491.2h2.0v1h-2.0zM60.5,491.2h4.0v1h-4.0zM77.5,491.2h6.0v1h-6.0zM96.5,491.2h3.0v1h-3.0zM110.5,491.2h2.0v1h-2.0zM124.5,491.2h10.0v1h-10.0zM153.5,491.2h5.0v1h-5.0zM163.5,491.2h6.0v1h-6.0zM195.5,491.2h4.0v1h-4.0zM40.5,492.2h3.0v1h-3.0zM45.5,492.2h3.0v1h-3.0zM60.5,492.2h4.0v1h-4.0zM78.5,492.2h6.0v1h-6.0zM86.5,492.2h1.0v1h-1.0zM96.5,492.2h4.0v1h-4.0zM106.5,492.2h2.0v1h-2.0zM115.5,492.2h2.0v1h-2.0zM123.5,492.2h10.0v1h-10.0zM154.5,492.2h1.0v1h-1.0zM163.5,492.2h6.0v1h-6.0zM196.5,492.2h3.0v1h-3.0zM40.5,493.2h1.0v1h-1.0zM45.5,493.2h4.0v1h-4.0zM61.5,493.2h2.0v1h-2.0zM72.5,493.2h1.0v1h-1.0zM74.5,493.2h1.0v1h-1.0zM79.5,493.2h5.0v1h-5.0zM86.5,493.2h2.0v1h-2.0zM96.5,493.2h3.0v1h-3.0zM106.5,493.2h2.0v1h-2.0zM115.5,493.2h2.0v1h-2.0zM124.5,493.2h9.0v1h-9.0zM165.5,493.2h4.0v1h-4.0zM40.5,494.2h2.0v1h-2.0zM45.5,494.2h4.0v1h-4.0zM73.5,494.2h3.0v1h-3.0zM79.5,494.2h3.0v1h-3.0zM86.5,494.2h3.0v1h-3.0zM106.5,494.2h3.0v1h-3.0zM115.5,494.2h2.0v1h-2.0zM124.5,494.2h4.0v1h-4.0zM167.5,494.2h1.0v1h-1.0zM46.5,495.2h3.0v1h-3.0zM74.5,495.2h1.0v1h-1.0zM86.5,495.2h3.0v1h-3.0zM106.5,495.2h7.0v1h-7.0zM114.5,495.2h3.0v1h-3.0zM139.5,495.2h1.0v1h-1.0zM172.5,495.2h2.0v1h-2.0zM209.5,495.2h1.5v1h-1.5zM54.5,496.2h2.0v1h-2.0zM65.5,496.2h2.0v1h-2.0zM107.5,496.2h6.0v1h-6.0zM172.5,496.2h3.0v1h-3.0zM208.5,496.2h2.5v1h-2.5zM53.5,497.2h4.0v1h-4.0zM64.5,497.2h4.0v1h-4.0zM118.5,497.2h4.0v1h-4.0zM125.5,497.2h1.0v1h-1.0zM172.5,497.2h3.0v1h-3.0zM176.5,497.2h1.0v1h-1.0zM208.5,497.2h2.5v1h-2.5zM48.5,498.2h8.0v1h-8.0zM65.5,498.2h3.0v1h-3.0zM119.5,498.2h4.0v1h-4.0zM124.5,498.2h3.0v1h-3.0zM132.5,498.2h3.0v1h-3.0zM172.5,498.2h2.0v1h-2.0zM208.5,498.2h2.5v1h-2.5zM48.5,499.2h8.0v1h-8.0zM75.5,499.2h2.0v1h-2.0zM113.5,499.2h2.0v1h-2.0zM119.5,499.2h10.0v1h-10.0zM131.5,499.2h5.0v1h-5.0zM194.5,499.2h3.0v1h-3.0zM208.5,499.2h2.5v1h-2.5zM40.5,500.2h4.0v1h-4.0zM47.5,500.2h10.0v1h-10.0zM61.5,500.2h2.0v1h-2.0zM68.5,500.2h3.0v1h-3.0zM75.5,500.2h5.0v1h-5.0zM112.5,500.2h3.0v1h-3.0zM121.5,500.2h8.0v1h-8.0zM131.5,500.2h5.0v1h-5.0zM194.5,500.2h3.0v1h-3.0zM40.5,501.2h4.0v1h-4.0zM49.5,501.2h8.0v1h-8.0zM60.5,501.2h4.0v1h-4.0zM68.5,501.2h4.0v1h-4.0zM78.5,501.2h2.0v1h-2.0zM112.5,501.2h3.0v1h-3.0zM117.5,501.2h2.0v1h-2.0zM126.5,501.2h3.0v1h-3.0zM131.5,501.2h6.0v1h-6.0zM139.5,501.2h1.0v1h-1.0zM194.5,501.2h3.0v1h-3.0zM52.5,502.2h4.0v1h-4.0zM61.5,502.2h3.0v1h-3.0zM69.5,502.2h3.0v1h-3.0zM88.5,502.2h1.0v1h-1.0zM112.5,502.2h2.0v1h-2.0zM116.5,502.2h3.0v1h-3.0zM132.5,502.2h8.0v1h-8.0zM163.5,502.2h2.0v1h-2.0zM184.5,502.2h2.0v1h-2.0zM206.5,502.2h3.0v1h-3.0zM45.5,503.2h6.0v1h-6.0zM52.5,503.2h4.0v1h-4.0zM62.5,503.2h1.0v1h-1.0zM112.5,503.2h1.0v1h-1.0zM115.5,503.2h5.0v1h-5.0zM132.5,503.2h8.0v1h-8.0zM152.5,503.2h4.0v1h-4.0zM162.5,503.2h5.0v1h-5.0zM171.5,503.2h2.0v1h-2.0zM183.5,503.2h3.0v1h-3.0zM205.5,503.2h4.0v1h-4.0zM44.5,504.2h14.0v1h-14.0zM98.5,504.2h2.0v1h-2.0zM115.5,504.2h5.0v1h-5.0zM123.5,504.2h6.0v1h-6.0zM132.5,504.2h4.0v1h-4.0zM138.5,504.2h3.0v1h-3.0zM152.5,504.2h4.0v1h-4.0zM163.5,504.2h4.0v1h-4.0zM172.5,504.2h6.0v1h-6.0zM183.5,504.2h2.0v1h-2.0zM203.5,504.2h7.0v1h-7.0zM40.5,505.2h1.0v1h-1.0zM44.5,505.2h14.0v1h-14.0zM82.5,505.2h1.0v1h-1.0zM96.5,505.2h5.0v1h-5.0zM115.5,505.2h6.0v1h-6.0zM122.5,505.2h8.0v1h-8.0zM132.5,505.2h4.0v1h-4.0zM139.5,505.2h3.0v1h-3.0zM153.5,505.2h2.0v1h-2.0zM163.5,505.2h4.0v1h-4.0zM173.5,505.2h4.0v1h-4.0zM183.5,505.2h1.0v1h-1.0zM191.5,505.2h1.0v1h-1.0zM195.5,505.2h3.0v1h-3.0zM203.5,505.2h7.0v1h-7.0zM40.5,506.2h16.0v1h-16.0zM64.5,506.2h3.0v1h-3.0zM69.5,506.2h5.0v1h-5.0zM82.5,506.2h2.0v1h-2.0zM95.5,506.2h6.0v1h-6.0zM115.5,506.2h21.0v1h-21.0zM139.5,506.2h3.0v1h-3.0zM163.5,506.2h4.0v1h-4.0zM173.5,506.2h4.0v1h-4.0zM191.5,506.2h7.0v1h-7.0zM203.5,506.2h6.0v1h-6.0zM40.5,507.2h15.0v1h-15.0zM64.5,507.2h2.0v1h-2.0zM70.5,507.2h4.0v1h-4.0zM81.5,507.2h4.0v1h-4.0zM96.5,507.2h3.0v1h-3.0zM114.5,507.2h22.0v1h-22.0zM139.5,507.2h2.0v1h-2.0zM162.5,507.2h2.0v1h-2.0zM191.5,507.2h2.0v1h-2.0zM197.5,507.2h1.0v1h-1.0zM203.5,507.2h6.0v1h-6.0zM40.5,508.2h5.0v1h-5.0zM46.5,508.2h9.0v1h-9.0zM63.5,508.2h2.0v1h-2.0zM71.5,508.2h6.0v1h-6.0zM81.5,508.2h8.0v1h-8.0zM114.5,508.2h7.0v1h-7.0zM124.5,508.2h8.0v1h-8.0zM134.5,508.2h3.0v1h-3.0zM140.5,508.2h1.0v1h-1.0zM162.5,508.2h2.0v1h-2.0zM203.5,508.2h6.0v1h-6.0zM47.5,509.2h2.0v1h-2.0zM75.5,509.2h2.0v1h-2.0zM82.5,509.2h7.0v1h-7.0zM115.5,509.2h5.0v1h-5.0zM127.5,509.2h3.0v1h-3.0zM135.5,509.2h2.0v1h-2.0zM206.5,509.2h4.0v1h-4.0zM47.5,510.2h2.0v1h-2.0zM74.5,510.2h4.0v1h-4.0zM84.5,510.2h4.0v1h-4.0zM115.5,510.2h5.0v1h-5.0zM127.5,510.2h3.0v1h-3.0zM135.5,510.2h2.0v1h-2.0zM195.5,510.2h6.0v1h-6.0zM207.5,510.2h3.5v1h-3.5z" fill="#f4f4f2"/>
</g>
<line x1="40.5" y1="412.0" x2="211.0" y2="412.0" stroke="#0a0a0a" stroke-width="1.6"/>
<rect x="0.5" y="0.5" width="519" height="520" fill="none" stroke="#000" stroke-width="1.2"/>
</svg>
</body></html>
